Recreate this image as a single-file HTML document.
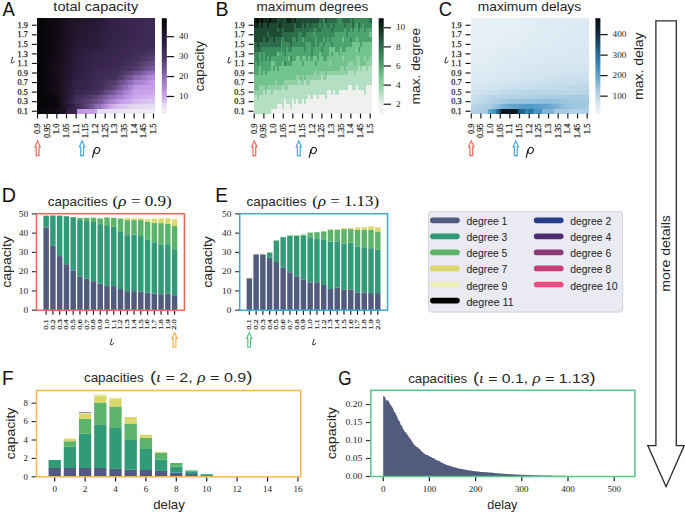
<!DOCTYPE html>
<html><head><meta charset="utf-8"><style>
html,body{margin:0;padding:0;background:#fff;width:685px;height:512px;overflow:hidden;}
svg{display:block;font-family:"Liberation Sans", sans-serif;}
</style></head><body>
<svg width="685" height="512" viewBox="0 0 685 512"><text x="2.6" y="15.8" font-size="20.5" font-family='"Liberation Sans", sans-serif' fill="#111111" textLength="12.3" lengthAdjust="spacingAndGlyphs">A</text>
<text x="95.75" y="10.6" font-size="13.4" font-family='"Liberation Sans", sans-serif' fill="#262626" text-anchor="middle" textLength="84.8" lengthAdjust="spacingAndGlyphs">total capacity</text>
<g shape-rendering="crispEdges"><rect x="36.8" y="18.1" width="2.23" height="5.08" fill="#050405"/><rect x="38.73" y="18.1" width="2.23" height="5.08" fill="#060506"/><rect x="40.67" y="18.1" width="2.23" height="5.08" fill="#070508"/><rect x="42.6" y="18.1" width="2.23" height="5.08" fill="#08060a"/><rect x="44.53" y="18.1" width="2.23" height="5.08" fill="#0a070b"/><rect x="46.46" y="18.1" width="2.23" height="5.08" fill="#0b070c"/><rect x="48.4" y="18.1" width="2.23" height="5.08" fill="#0c080e"/><rect x="50.33" y="18.1" width="2.23" height="5.08" fill="#0d0910"/><rect x="52.26" y="18.1" width="2.23" height="5.08" fill="#0e0911"/><rect x="54.2" y="18.1" width="2.23" height="5.08" fill="#100a12"/><rect x="56.13" y="18.1" width="2.23" height="5.08" fill="#110b14"/><rect x="58.06" y="18.1" width="2.23" height="5.08" fill="#130c16"/><rect x="59.99" y="18.1" width="2.23" height="5.08" fill="#140d19"/><rect x="61.93" y="18.1" width="2.23" height="5.08" fill="#160e1b"/><rect x="63.86" y="18.1" width="2.23" height="5.08" fill="#180f1e"/><rect x="65.79" y="18.1" width="2.23" height="5.08" fill="#1a1020"/><rect x="67.72" y="18.1" width="2.23" height="5.08" fill="#1b1122"/><rect x="69.66" y="18.1" width="2.23" height="5.08" fill="#1c1223"/><rect x="71.59" y="18.1" width="2.23" height="5.08" fill="#1e1225"/><rect x="73.52" y="18.1" width="2.23" height="5.08" fill="#1f1326"/><rect x="75.46" y="18.1" width="2.23" height="5.08" fill="#201428"/><rect x="77.39" y="18.1" width="2.23" height="5.08" fill="#211429"/><rect x="79.32" y="18.1" width="2.23" height="5.08" fill="#21152a"/><rect x="81.25" y="18.1" width="2.23" height="5.08" fill="#22152c"/><rect x="83.19" y="18.1" width="2.23" height="5.08" fill="#23162d"/><rect x="85.12" y="18.1" width="2.23" height="5.08" fill="#23162e"/><rect x="87.05" y="18.1" width="2.23" height="5.08" fill="#24162f"/><rect x="88.99" y="18.1" width="2.23" height="5.08" fill="#251730"/><rect x="90.92" y="18.1" width="2.23" height="5.08" fill="#251732"/><rect x="92.85" y="18.1" width="2.23" height="5.08" fill="#261833"/><rect x="94.78" y="18.1" width="2.23" height="5.08" fill="#271834"/><rect x="96.72" y="18.1" width="2.23" height="5.08" fill="#281936"/><rect x="98.65" y="18.1" width="2.23" height="5.08" fill="#291a39"/><rect x="100.58" y="18.1" width="2.23" height="5.08" fill="#2b1b3b"/><rect x="102.51" y="18.1" width="2.23" height="5.08" fill="#2c1c3c"/><rect x="104.45" y="18.1" width="2.23" height="5.08" fill="#2d1c3e"/><rect x="106.38" y="18.1" width="2.23" height="5.08" fill="#2e1d40"/><rect x="108.31" y="18.1" width="2.23" height="5.08" fill="#2f1e41"/><rect x="110.25" y="18.1" width="2.23" height="5.08" fill="#312043"/><rect x="112.18" y="18.1" width="2.23" height="5.08" fill="#322044"/><rect x="114.11" y="18.1" width="2.23" height="5.08" fill="#332246"/><rect x="116.04" y="18.1" width="2.23" height="5.08" fill="#342247"/><rect x="117.98" y="18.1" width="2.23" height="5.08" fill="#342248"/><rect x="119.91" y="18.1" width="2.23" height="5.08" fill="#352348"/><rect x="121.84" y="18.1" width="2.23" height="5.08" fill="#352449"/><rect x="123.78" y="18.1" width="2.23" height="5.08" fill="#36244a"/><rect x="125.71" y="18.1" width="2.23" height="5.08" fill="#37244b"/><rect x="127.64" y="18.1" width="2.23" height="5.08" fill="#38254c"/><rect x="129.57" y="18.1" width="2.23" height="5.08" fill="#38254e"/><rect x="131.51" y="18.1" width="2.23" height="5.08" fill="#39264f"/><rect x="133.44" y="18.1" width="2.23" height="5.08" fill="#3a2650"/><rect x="135.37" y="18.1" width="2.23" height="5.08" fill="#3a2651"/><rect x="137.3" y="18.1" width="2.23" height="5.08" fill="#3b2751"/><rect x="139.24" y="18.1" width="2.23" height="5.08" fill="#3b2752"/><rect x="141.17" y="18.1" width="2.23" height="5.08" fill="#3c2852"/><rect x="143.1" y="18.1" width="2.23" height="5.08" fill="#3c2853"/><rect x="145.04" y="18.1" width="2.23" height="5.08" fill="#3c2854"/><rect x="146.97" y="18.1" width="2.23" height="5.08" fill="#3d2954"/><rect x="148.9" y="18.1" width="2.23" height="5.08" fill="#3d2955"/><rect x="150.83" y="18.1" width="2.23" height="5.08" fill="#3e2a55"/><rect x="152.77" y="18.1" width="2.23" height="5.08" fill="#3e2a56"/><rect x="36.8" y="22.88" width="2.23" height="5.08" fill="#050405"/><rect x="38.73" y="22.88" width="2.23" height="5.08" fill="#060506"/><rect x="40.67" y="22.88" width="2.23" height="5.08" fill="#070508"/><rect x="42.6" y="22.88" width="2.23" height="5.08" fill="#08060a"/><rect x="44.53" y="22.88" width="2.23" height="5.08" fill="#0a070b"/><rect x="46.46" y="22.88" width="2.23" height="5.08" fill="#0b070c"/><rect x="48.4" y="22.88" width="2.23" height="5.08" fill="#0c080e"/><rect x="50.33" y="22.88" width="2.23" height="5.08" fill="#0d0910"/><rect x="52.26" y="22.88" width="2.23" height="5.08" fill="#0e0911"/><rect x="54.2" y="22.88" width="2.23" height="5.08" fill="#100a12"/><rect x="56.13" y="22.88" width="2.23" height="5.08" fill="#110b14"/><rect x="58.06" y="22.88" width="2.23" height="5.08" fill="#130c17"/><rect x="59.99" y="22.88" width="2.23" height="5.08" fill="#150d19"/><rect x="61.93" y="22.88" width="2.23" height="5.08" fill="#170e1c"/><rect x="63.86" y="22.88" width="2.23" height="5.08" fill="#190f1f"/><rect x="65.79" y="22.88" width="2.23" height="5.08" fill="#1b1021"/><rect x="67.72" y="22.88" width="2.23" height="5.08" fill="#1c1123"/><rect x="69.66" y="22.88" width="2.23" height="5.08" fill="#1d1224"/><rect x="71.59" y="22.88" width="2.23" height="5.08" fill="#1f1326"/><rect x="73.52" y="22.88" width="2.23" height="5.08" fill="#201428"/><rect x="75.46" y="22.88" width="2.23" height="5.08" fill="#21152a"/><rect x="77.39" y="22.88" width="2.23" height="5.08" fill="#22152c"/><rect x="79.32" y="22.88" width="2.23" height="5.08" fill="#23162d"/><rect x="81.25" y="22.88" width="2.23" height="5.08" fill="#23162e"/><rect x="83.19" y="22.88" width="2.23" height="5.08" fill="#24162f"/><rect x="85.12" y="22.88" width="2.23" height="5.08" fill="#251730"/><rect x="87.05" y="22.88" width="2.23" height="5.08" fill="#251732"/><rect x="88.99" y="22.88" width="2.23" height="5.08" fill="#261833"/><rect x="90.92" y="22.88" width="2.23" height="5.08" fill="#271834"/><rect x="92.85" y="22.88" width="2.23" height="5.08" fill="#271835"/><rect x="94.78" y="22.88" width="2.23" height="5.08" fill="#281936"/><rect x="96.72" y="22.88" width="2.23" height="5.08" fill="#291a39"/><rect x="98.65" y="22.88" width="2.23" height="5.08" fill="#2a1a3b"/><rect x="100.58" y="22.88" width="2.23" height="5.08" fill="#2c1b3c"/><rect x="102.51" y="22.88" width="2.23" height="5.08" fill="#2d1c3e"/><rect x="104.45" y="22.88" width="2.23" height="5.08" fill="#2e1d3f"/><rect x="106.38" y="22.88" width="2.23" height="5.08" fill="#2f1e41"/><rect x="108.31" y="22.88" width="2.23" height="5.08" fill="#301f42"/><rect x="110.25" y="22.88" width="2.23" height="5.08" fill="#312044"/><rect x="112.18" y="22.88" width="2.23" height="5.08" fill="#322145"/><rect x="114.11" y="22.88" width="2.23" height="5.08" fill="#342247"/><rect x="116.04" y="22.88" width="2.23" height="5.08" fill="#342248"/><rect x="117.98" y="22.88" width="2.23" height="5.08" fill="#352348"/><rect x="119.91" y="22.88" width="2.23" height="5.08" fill="#352349"/><rect x="121.84" y="22.88" width="2.23" height="5.08" fill="#36244a"/><rect x="123.78" y="22.88" width="2.23" height="5.08" fill="#37244b"/><rect x="125.71" y="22.88" width="2.23" height="5.08" fill="#37254c"/><rect x="127.64" y="22.88" width="2.23" height="5.08" fill="#38254d"/><rect x="129.57" y="22.88" width="2.23" height="5.08" fill="#39254e"/><rect x="131.51" y="22.88" width="2.23" height="5.08" fill="#3a264f"/><rect x="133.44" y="22.88" width="2.23" height="5.08" fill="#3a2651"/><rect x="135.37" y="22.88" width="2.23" height="5.08" fill="#3b2751"/><rect x="137.3" y="22.88" width="4.17" height="5.08" fill="#3b2752"/><rect x="141.17" y="22.88" width="4.17" height="5.08" fill="#3c2853"/><rect x="145.04" y="22.88" width="4.17" height="5.08" fill="#3d2954"/><rect x="148.9" y="22.88" width="2.23" height="5.08" fill="#3d2955"/><rect x="150.83" y="22.88" width="2.23" height="5.08" fill="#3e2a55"/><rect x="152.77" y="22.88" width="2.23" height="5.08" fill="#3e2a56"/><rect x="36.8" y="27.65" width="2.23" height="5.08" fill="#050405"/><rect x="38.73" y="27.65" width="2.23" height="5.08" fill="#060506"/><rect x="40.67" y="27.65" width="2.23" height="5.08" fill="#070508"/><rect x="42.6" y="27.65" width="2.23" height="5.08" fill="#08060a"/><rect x="44.53" y="27.65" width="2.23" height="5.08" fill="#0a070b"/><rect x="46.46" y="27.65" width="2.23" height="5.08" fill="#0b070c"/><rect x="48.4" y="27.65" width="2.23" height="5.08" fill="#0c080e"/><rect x="50.33" y="27.65" width="2.23" height="5.08" fill="#0d0910"/><rect x="52.26" y="27.65" width="2.23" height="5.08" fill="#0e0911"/><rect x="54.2" y="27.65" width="2.23" height="5.08" fill="#100a12"/><rect x="56.13" y="27.65" width="2.23" height="5.08" fill="#110b14"/><rect x="58.06" y="27.65" width="2.23" height="5.08" fill="#130c17"/><rect x="59.99" y="27.65" width="2.23" height="5.08" fill="#150d1a"/><rect x="61.93" y="27.65" width="2.23" height="5.08" fill="#170f1d"/><rect x="63.86" y="27.65" width="2.23" height="5.08" fill="#1a1020"/><rect x="65.79" y="27.65" width="2.23" height="5.08" fill="#1b1122"/><rect x="67.72" y="27.65" width="2.23" height="5.08" fill="#1d1224"/><rect x="69.66" y="27.65" width="2.23" height="5.08" fill="#1e1325"/><rect x="71.59" y="27.65" width="2.23" height="5.08" fill="#201427"/><rect x="73.52" y="27.65" width="2.23" height="5.08" fill="#21152a"/><rect x="75.46" y="27.65" width="2.23" height="5.08" fill="#23162d"/><rect x="77.39" y="27.65" width="2.23" height="5.08" fill="#23162e"/><rect x="79.32" y="27.65" width="2.23" height="5.08" fill="#24162f"/><rect x="81.25" y="27.65" width="2.23" height="5.08" fill="#251730"/><rect x="83.19" y="27.65" width="2.23" height="5.08" fill="#251732"/><rect x="85.12" y="27.65" width="2.23" height="5.08" fill="#261833"/><rect x="87.05" y="27.65" width="2.23" height="5.08" fill="#271834"/><rect x="88.99" y="27.65" width="2.23" height="5.08" fill="#271835"/><rect x="90.92" y="27.65" width="2.23" height="5.08" fill="#281936"/><rect x="92.85" y="27.65" width="2.23" height="5.08" fill="#291938"/><rect x="94.78" y="27.65" width="2.23" height="5.08" fill="#291a39"/><rect x="96.72" y="27.65" width="2.23" height="5.08" fill="#2a1a3b"/><rect x="98.65" y="27.65" width="2.23" height="5.08" fill="#2c1b3c"/><rect x="100.58" y="27.65" width="2.23" height="5.08" fill="#2d1c3e"/><rect x="102.51" y="27.65" width="2.23" height="5.08" fill="#2e1d3f"/><rect x="104.45" y="27.65" width="2.23" height="5.08" fill="#2f1e40"/><rect x="106.38" y="27.65" width="2.23" height="5.08" fill="#301f42"/><rect x="108.31" y="27.65" width="2.23" height="5.08" fill="#312043"/><rect x="110.25" y="27.65" width="2.23" height="5.08" fill="#322145"/><rect x="112.18" y="27.65" width="2.23" height="5.08" fill="#332246"/><rect x="114.11" y="27.65" width="2.23" height="5.08" fill="#342248"/><rect x="116.04" y="27.65" width="2.23" height="5.08" fill="#352348"/><rect x="117.98" y="27.65" width="2.23" height="5.08" fill="#352349"/><rect x="119.91" y="27.65" width="2.23" height="5.08" fill="#36244a"/><rect x="121.84" y="27.65" width="2.23" height="5.08" fill="#36244b"/><rect x="123.78" y="27.65" width="2.23" height="5.08" fill="#37254c"/><rect x="125.71" y="27.65" width="2.23" height="5.08" fill="#38254d"/><rect x="127.64" y="27.65" width="2.23" height="5.08" fill="#39254e"/><rect x="129.57" y="27.65" width="2.23" height="5.08" fill="#39264f"/><rect x="131.51" y="27.65" width="2.23" height="5.08" fill="#3a2650"/><rect x="133.44" y="27.65" width="2.23" height="5.08" fill="#3b2751"/><rect x="135.37" y="27.65" width="4.17" height="5.08" fill="#3b2752"/><rect x="139.24" y="27.65" width="4.17" height="5.08" fill="#3c2853"/><rect x="143.1" y="27.65" width="2.23" height="5.08" fill="#3c2854"/><rect x="145.04" y="27.65" width="2.23" height="5.08" fill="#3d2954"/><rect x="146.97" y="27.65" width="4.17" height="5.08" fill="#3d2955"/><rect x="150.83" y="27.65" width="4.17" height="5.08" fill="#3e2a56"/><rect x="36.8" y="32.43" width="2.23" height="5.08" fill="#050405"/><rect x="38.73" y="32.43" width="2.23" height="5.08" fill="#060506"/><rect x="40.67" y="32.43" width="2.23" height="5.08" fill="#070508"/><rect x="42.6" y="32.43" width="2.23" height="5.08" fill="#08060a"/><rect x="44.53" y="32.43" width="2.23" height="5.08" fill="#0a070b"/><rect x="46.46" y="32.43" width="2.23" height="5.08" fill="#0b070c"/><rect x="48.4" y="32.43" width="2.23" height="5.08" fill="#0c080e"/><rect x="50.33" y="32.43" width="2.23" height="5.08" fill="#0d0910"/><rect x="52.26" y="32.43" width="2.23" height="5.08" fill="#0e0911"/><rect x="54.2" y="32.43" width="2.23" height="5.08" fill="#100a12"/><rect x="56.13" y="32.43" width="2.23" height="5.08" fill="#110b14"/><rect x="58.06" y="32.43" width="2.23" height="5.08" fill="#130c17"/><rect x="59.99" y="32.43" width="2.23" height="5.08" fill="#160d1a"/><rect x="61.93" y="32.43" width="2.23" height="5.08" fill="#180f1d"/><rect x="63.86" y="32.43" width="2.23" height="5.08" fill="#1a1020"/><rect x="65.79" y="32.43" width="2.23" height="5.08" fill="#1c1122"/><rect x="67.72" y="32.43" width="2.23" height="5.08" fill="#1d1224"/><rect x="69.66" y="32.43" width="2.23" height="5.08" fill="#1f1327"/><rect x="71.59" y="32.43" width="2.23" height="5.08" fill="#211429"/><rect x="73.52" y="32.43" width="2.23" height="5.08" fill="#22152c"/><rect x="75.46" y="32.43" width="2.23" height="5.08" fill="#24162f"/><rect x="77.39" y="32.43" width="2.23" height="5.08" fill="#251730"/><rect x="79.32" y="32.43" width="2.23" height="5.08" fill="#251732"/><rect x="81.25" y="32.43" width="2.23" height="5.08" fill="#261833"/><rect x="83.19" y="32.43" width="2.23" height="5.08" fill="#271834"/><rect x="85.12" y="32.43" width="2.23" height="5.08" fill="#271835"/><rect x="87.05" y="32.43" width="2.23" height="5.08" fill="#281936"/><rect x="88.99" y="32.43" width="2.23" height="5.08" fill="#291938"/><rect x="90.92" y="32.43" width="2.23" height="5.08" fill="#291a39"/><rect x="92.85" y="32.43" width="2.23" height="5.08" fill="#2a1a3a"/><rect x="94.78" y="32.43" width="2.23" height="5.08" fill="#2b1b3b"/><rect x="96.72" y="32.43" width="2.23" height="5.08" fill="#2c1b3c"/><rect x="98.65" y="32.43" width="2.23" height="5.08" fill="#2d1c3e"/><rect x="100.58" y="32.43" width="2.23" height="5.08" fill="#2e1d3f"/><rect x="102.51" y="32.43" width="2.23" height="5.08" fill="#2f1e40"/><rect x="104.45" y="32.43" width="2.23" height="5.08" fill="#301f42"/><rect x="106.38" y="32.43" width="2.23" height="5.08" fill="#312043"/><rect x="108.31" y="32.43" width="2.23" height="5.08" fill="#322044"/><rect x="110.25" y="32.43" width="2.23" height="5.08" fill="#332146"/><rect x="112.18" y="32.43" width="2.23" height="5.08" fill="#342247"/><rect x="114.11" y="32.43" width="2.23" height="5.08" fill="#352348"/><rect x="116.04" y="32.43" width="2.23" height="5.08" fill="#352349"/><rect x="117.98" y="32.43" width="2.23" height="5.08" fill="#36244a"/><rect x="119.91" y="32.43" width="2.23" height="5.08" fill="#36244b"/><rect x="121.84" y="32.43" width="2.23" height="5.08" fill="#37254c"/><rect x="123.78" y="32.43" width="2.23" height="5.08" fill="#38254d"/><rect x="125.71" y="32.43" width="2.23" height="5.08" fill="#38254e"/><rect x="127.64" y="32.43" width="2.23" height="5.08" fill="#39264f"/><rect x="129.57" y="32.43" width="2.23" height="5.08" fill="#3a2650"/><rect x="131.51" y="32.43" width="2.23" height="5.08" fill="#3b2751"/><rect x="133.44" y="32.43" width="4.17" height="5.08" fill="#3b2752"/><rect x="137.3" y="32.43" width="6.1" height="5.08" fill="#3c2853"/><rect x="143.1" y="32.43" width="4.17" height="5.08" fill="#3d2954"/><rect x="146.97" y="32.43" width="4.17" height="5.08" fill="#3d2955"/><rect x="150.83" y="32.43" width="4.17" height="5.08" fill="#3e2a56"/><rect x="36.8" y="37.2" width="2.23" height="5.08" fill="#050405"/><rect x="38.73" y="37.2" width="2.23" height="5.08" fill="#060506"/><rect x="40.67" y="37.2" width="2.23" height="5.08" fill="#070508"/><rect x="42.6" y="37.2" width="2.23" height="5.08" fill="#08060a"/><rect x="44.53" y="37.2" width="2.23" height="5.08" fill="#0a070b"/><rect x="46.46" y="37.2" width="2.23" height="5.08" fill="#0b070c"/><rect x="48.4" y="37.2" width="2.23" height="5.08" fill="#0c080e"/><rect x="50.33" y="37.2" width="2.23" height="5.08" fill="#0d0910"/><rect x="52.26" y="37.2" width="2.23" height="5.08" fill="#0e0911"/><rect x="54.2" y="37.2" width="2.23" height="5.08" fill="#100a12"/><rect x="56.13" y="37.2" width="2.23" height="5.08" fill="#110b14"/><rect x="58.06" y="37.2" width="2.23" height="5.08" fill="#130c17"/><rect x="59.99" y="37.2" width="2.23" height="5.08" fill="#160e1b"/><rect x="61.93" y="37.2" width="2.23" height="5.08" fill="#190f1e"/><rect x="63.86" y="37.2" width="2.23" height="5.08" fill="#1b1021"/><rect x="65.79" y="37.2" width="2.23" height="5.08" fill="#1c1223"/><rect x="67.72" y="37.2" width="2.23" height="5.08" fill="#1e1325"/><rect x="69.66" y="37.2" width="2.23" height="5.08" fill="#201428"/><rect x="71.59" y="37.2" width="2.23" height="5.08" fill="#22152b"/><rect x="73.52" y="37.2" width="2.23" height="5.08" fill="#23162e"/><rect x="75.46" y="37.2" width="2.23" height="5.08" fill="#251732"/><rect x="77.39" y="37.2" width="2.23" height="5.08" fill="#261833"/><rect x="79.32" y="37.2" width="2.23" height="5.08" fill="#271834"/><rect x="81.25" y="37.2" width="2.23" height="5.08" fill="#271835"/><rect x="83.19" y="37.2" width="2.23" height="5.08" fill="#281936"/><rect x="85.12" y="37.2" width="2.23" height="5.08" fill="#291938"/><rect x="87.05" y="37.2" width="2.23" height="5.08" fill="#291a39"/><rect x="88.99" y="37.2" width="2.23" height="5.08" fill="#2a1a3a"/><rect x="90.92" y="37.2" width="2.23" height="5.08" fill="#2b1b3b"/><rect x="92.85" y="37.2" width="2.23" height="5.08" fill="#2b1b3c"/><rect x="94.78" y="37.2" width="2.23" height="5.08" fill="#2c1c3c"/><rect x="96.72" y="37.2" width="2.23" height="5.08" fill="#2d1c3e"/><rect x="98.65" y="37.2" width="2.23" height="5.08" fill="#2e1d3f"/><rect x="100.58" y="37.2" width="2.23" height="5.08" fill="#2f1e40"/><rect x="102.51" y="37.2" width="2.23" height="5.08" fill="#301f42"/><rect x="104.45" y="37.2" width="2.23" height="5.08" fill="#312043"/><rect x="106.38" y="37.2" width="2.23" height="5.08" fill="#322044"/><rect x="108.31" y="37.2" width="2.23" height="5.08" fill="#332145"/><rect x="110.25" y="37.2" width="2.23" height="5.08" fill="#332247"/><rect x="112.18" y="37.2" width="2.23" height="5.08" fill="#342348"/><rect x="114.11" y="37.2" width="2.23" height="5.08" fill="#352349"/><rect x="116.04" y="37.2" width="2.23" height="5.08" fill="#36244a"/><rect x="117.98" y="37.2" width="2.23" height="5.08" fill="#36244b"/><rect x="119.91" y="37.2" width="2.23" height="5.08" fill="#37254c"/><rect x="121.84" y="37.2" width="2.23" height="5.08" fill="#38254d"/><rect x="123.78" y="37.2" width="2.23" height="5.08" fill="#38254e"/><rect x="125.71" y="37.2" width="2.23" height="5.08" fill="#39264f"/><rect x="127.64" y="37.2" width="4.17" height="5.08" fill="#3a2650"/><rect x="131.51" y="37.2" width="2.23" height="5.08" fill="#3b2751"/><rect x="133.44" y="37.2" width="2.23" height="5.08" fill="#3c2852"/><rect x="135.37" y="37.2" width="6.1" height="5.08" fill="#3c2853"/><rect x="141.17" y="37.2" width="4.17" height="5.08" fill="#3d2954"/><rect x="145.04" y="37.2" width="4.17" height="5.08" fill="#3d2955"/><rect x="148.9" y="37.2" width="2.23" height="5.08" fill="#3e2a55"/><rect x="150.83" y="37.2" width="4.17" height="5.08" fill="#3e2a56"/><rect x="36.8" y="41.98" width="2.23" height="5.08" fill="#050405"/><rect x="38.73" y="41.98" width="2.23" height="5.08" fill="#060506"/><rect x="40.67" y="41.98" width="2.23" height="5.08" fill="#070508"/><rect x="42.6" y="41.98" width="2.23" height="5.08" fill="#08060a"/><rect x="44.53" y="41.98" width="2.23" height="5.08" fill="#0a070b"/><rect x="46.46" y="41.98" width="2.23" height="5.08" fill="#0b070c"/><rect x="48.4" y="41.98" width="2.23" height="5.08" fill="#0c080e"/><rect x="50.33" y="41.98" width="2.23" height="5.08" fill="#0d0910"/><rect x="52.26" y="41.98" width="2.23" height="5.08" fill="#0e0911"/><rect x="54.2" y="41.98" width="2.23" height="5.08" fill="#100a12"/><rect x="56.13" y="41.98" width="2.23" height="5.08" fill="#110b14"/><rect x="58.06" y="41.98" width="2.23" height="5.08" fill="#130c18"/><rect x="59.99" y="41.98" width="2.23" height="5.08" fill="#160e1b"/><rect x="61.93" y="41.98" width="2.23" height="5.08" fill="#190f1f"/><rect x="63.86" y="41.98" width="2.23" height="5.08" fill="#1b1122"/><rect x="65.79" y="41.98" width="2.23" height="5.08" fill="#1d1224"/><rect x="67.72" y="41.98" width="2.23" height="5.08" fill="#1f1326"/><rect x="69.66" y="41.98" width="2.23" height="5.08" fill="#211429"/><rect x="71.59" y="41.98" width="2.23" height="5.08" fill="#23162d"/><rect x="73.52" y="41.98" width="2.23" height="5.08" fill="#251730"/><rect x="75.46" y="41.98" width="2.23" height="5.08" fill="#271834"/><rect x="77.39" y="41.98" width="2.23" height="5.08" fill="#271835"/><rect x="79.32" y="41.98" width="2.23" height="5.08" fill="#281936"/><rect x="81.25" y="41.98" width="2.23" height="5.08" fill="#291938"/><rect x="83.19" y="41.98" width="2.23" height="5.08" fill="#291a39"/><rect x="85.12" y="41.98" width="2.23" height="5.08" fill="#2a1a3a"/><rect x="87.05" y="41.98" width="2.23" height="5.08" fill="#2b1b3b"/><rect x="88.99" y="41.98" width="2.23" height="5.08" fill="#2b1b3c"/><rect x="90.92" y="41.98" width="2.23" height="5.08" fill="#2c1c3c"/><rect x="92.85" y="41.98" width="2.23" height="5.08" fill="#2c1c3d"/><rect x="94.78" y="41.98" width="2.23" height="5.08" fill="#2d1c3e"/><rect x="96.72" y="41.98" width="2.23" height="5.08" fill="#2e1d3f"/><rect x="98.65" y="41.98" width="2.23" height="5.08" fill="#2f1e40"/><rect x="100.58" y="41.98" width="2.23" height="5.08" fill="#301f42"/><rect x="102.51" y="41.98" width="2.23" height="5.08" fill="#312043"/><rect x="104.45" y="41.98" width="2.23" height="5.08" fill="#322044"/><rect x="106.38" y="41.98" width="2.23" height="5.08" fill="#322145"/><rect x="108.31" y="41.98" width="2.23" height="5.08" fill="#332246"/><rect x="110.25" y="41.98" width="2.23" height="5.08" fill="#342248"/><rect x="112.18" y="41.98" width="2.23" height="5.08" fill="#352349"/><rect x="114.11" y="41.98" width="2.23" height="5.08" fill="#36244a"/><rect x="116.04" y="41.98" width="2.23" height="5.08" fill="#37244b"/><rect x="117.98" y="41.98" width="2.23" height="5.08" fill="#37254c"/><rect x="119.91" y="41.98" width="2.23" height="5.08" fill="#38254d"/><rect x="121.84" y="41.98" width="2.23" height="5.08" fill="#38254e"/><rect x="123.78" y="41.98" width="2.23" height="5.08" fill="#39264e"/><rect x="125.71" y="41.98" width="2.23" height="5.08" fill="#3a264f"/><rect x="127.64" y="41.98" width="2.23" height="5.08" fill="#3a2650"/><rect x="129.57" y="41.98" width="2.23" height="5.08" fill="#3b2751"/><rect x="131.51" y="41.98" width="2.23" height="5.08" fill="#3b2752"/><rect x="133.44" y="41.98" width="4.17" height="5.08" fill="#3c2853"/><rect x="137.3" y="41.98" width="2.23" height="5.08" fill="#3c2854"/><rect x="139.24" y="41.98" width="6.1" height="5.08" fill="#3d2954"/><rect x="145.04" y="41.98" width="4.17" height="5.08" fill="#3d2955"/><rect x="148.9" y="41.98" width="2.23" height="5.08" fill="#3e2a55"/><rect x="150.83" y="41.98" width="4.17" height="5.08" fill="#3e2a56"/><rect x="36.8" y="46.75" width="2.23" height="5.08" fill="#050405"/><rect x="38.73" y="46.75" width="2.23" height="5.08" fill="#060507"/><rect x="40.67" y="46.75" width="2.23" height="5.08" fill="#070508"/><rect x="42.6" y="46.75" width="2.23" height="5.08" fill="#09060a"/><rect x="44.53" y="46.75" width="2.23" height="5.08" fill="#0a070b"/><rect x="46.46" y="46.75" width="2.23" height="5.08" fill="#0b080d"/><rect x="48.4" y="46.75" width="2.23" height="5.08" fill="#0c080f"/><rect x="50.33" y="46.75" width="2.23" height="5.08" fill="#0e0910"/><rect x="52.26" y="46.75" width="2.23" height="5.08" fill="#0f0a12"/><rect x="54.2" y="46.75" width="2.23" height="5.08" fill="#100a13"/><rect x="56.13" y="46.75" width="2.23" height="5.08" fill="#110b15"/><rect x="58.06" y="46.75" width="2.23" height="5.08" fill="#140d19"/><rect x="59.99" y="46.75" width="2.23" height="5.08" fill="#170e1c"/><rect x="61.93" y="46.75" width="2.23" height="5.08" fill="#1a1020"/><rect x="63.86" y="46.75" width="2.23" height="5.08" fill="#1c1123"/><rect x="65.79" y="46.75" width="2.23" height="5.08" fill="#1e1225"/><rect x="67.72" y="46.75" width="2.23" height="5.08" fill="#201427"/><rect x="69.66" y="46.75" width="2.23" height="5.08" fill="#22152b"/><rect x="71.59" y="46.75" width="2.23" height="5.08" fill="#24162f"/><rect x="73.52" y="46.75" width="2.23" height="5.08" fill="#261732"/><rect x="75.46" y="46.75" width="2.23" height="5.08" fill="#281936"/><rect x="77.39" y="46.75" width="2.23" height="5.08" fill="#291938"/><rect x="79.32" y="46.75" width="2.23" height="5.08" fill="#2a1a39"/><rect x="81.25" y="46.75" width="2.23" height="5.08" fill="#2a1a3b"/><rect x="83.19" y="46.75" width="2.23" height="5.08" fill="#2b1b3c"/><rect x="85.12" y="46.75" width="2.23" height="5.08" fill="#2c1c3d"/><rect x="87.05" y="46.75" width="2.23" height="5.08" fill="#2d1c3e"/><rect x="88.99" y="46.75" width="2.23" height="5.08" fill="#2e1d3f"/><rect x="90.92" y="46.75" width="2.23" height="5.08" fill="#2e1e40"/><rect x="92.85" y="46.75" width="2.23" height="5.08" fill="#2f1e41"/><rect x="94.78" y="46.75" width="2.23" height="5.08" fill="#301f42"/><rect x="96.72" y="46.75" width="2.23" height="5.08" fill="#312043"/><rect x="98.65" y="46.75" width="2.23" height="5.08" fill="#312044"/><rect x="100.58" y="46.75" width="2.23" height="5.08" fill="#322145"/><rect x="102.51" y="46.75" width="2.23" height="5.08" fill="#332146"/><rect x="104.45" y="46.75" width="2.23" height="5.08" fill="#342247"/><rect x="106.38" y="46.75" width="2.23" height="5.08" fill="#342248"/><rect x="108.31" y="46.75" width="2.23" height="5.08" fill="#352349"/><rect x="110.25" y="46.75" width="2.23" height="5.08" fill="#362449"/><rect x="112.18" y="46.75" width="2.23" height="5.08" fill="#36244b"/><rect x="114.11" y="46.75" width="2.23" height="5.08" fill="#37254c"/><rect x="116.04" y="46.75" width="2.23" height="5.08" fill="#38254d"/><rect x="117.98" y="46.75" width="2.23" height="5.08" fill="#39254e"/><rect x="119.91" y="46.75" width="2.23" height="5.08" fill="#39264f"/><rect x="121.84" y="46.75" width="2.23" height="5.08" fill="#3a2650"/><rect x="123.78" y="46.75" width="2.23" height="5.08" fill="#3b2751"/><rect x="125.71" y="46.75" width="2.23" height="5.08" fill="#3b2752"/><rect x="127.64" y="46.75" width="2.23" height="5.08" fill="#3c2853"/><rect x="129.57" y="46.75" width="2.23" height="5.08" fill="#3d2954"/><rect x="131.51" y="46.75" width="2.23" height="5.08" fill="#3d2955"/><rect x="133.44" y="46.75" width="2.23" height="5.08" fill="#3e2a56"/><rect x="135.37" y="46.75" width="4.17" height="5.08" fill="#3f2b57"/><rect x="139.24" y="46.75" width="4.17" height="5.08" fill="#402c58"/><rect x="143.1" y="46.75" width="2.23" height="5.08" fill="#412d59"/><rect x="145.04" y="46.75" width="4.17" height="5.08" fill="#422e5a"/><rect x="148.9" y="46.75" width="4.17" height="5.08" fill="#432f5b"/><rect x="152.77" y="46.75" width="2.23" height="5.08" fill="#44305c"/><rect x="36.8" y="51.53" width="2.23" height="5.08" fill="#050405"/><rect x="38.73" y="51.53" width="2.23" height="5.08" fill="#060507"/><rect x="40.67" y="51.53" width="2.23" height="5.08" fill="#080608"/><rect x="42.6" y="51.53" width="2.23" height="5.08" fill="#09060a"/><rect x="44.53" y="51.53" width="2.23" height="5.08" fill="#0a070c"/><rect x="46.46" y="51.53" width="2.23" height="5.08" fill="#0c080e"/><rect x="48.4" y="51.53" width="2.23" height="5.08" fill="#0d090f"/><rect x="50.33" y="51.53" width="2.23" height="5.08" fill="#0e0911"/><rect x="52.26" y="51.53" width="2.23" height="5.08" fill="#100a13"/><rect x="54.2" y="51.53" width="2.23" height="5.08" fill="#110b14"/><rect x="56.13" y="51.53" width="2.23" height="5.08" fill="#120c16"/><rect x="58.06" y="51.53" width="2.23" height="5.08" fill="#150d1a"/><rect x="59.99" y="51.53" width="2.23" height="5.08" fill="#180f1e"/><rect x="61.93" y="51.53" width="2.23" height="5.08" fill="#1b1021"/><rect x="63.86" y="51.53" width="2.23" height="5.08" fill="#1d1223"/><rect x="65.79" y="51.53" width="2.23" height="5.08" fill="#1e1326"/><rect x="67.72" y="51.53" width="2.23" height="5.08" fill="#201429"/><rect x="69.66" y="51.53" width="2.23" height="5.08" fill="#23162d"/><rect x="71.59" y="51.53" width="2.23" height="5.08" fill="#251730"/><rect x="73.52" y="51.53" width="2.23" height="5.08" fill="#271834"/><rect x="75.46" y="51.53" width="2.23" height="5.08" fill="#291938"/><rect x="77.39" y="51.53" width="2.23" height="5.08" fill="#2a1a3a"/><rect x="79.32" y="51.53" width="2.23" height="5.08" fill="#2b1b3b"/><rect x="81.25" y="51.53" width="2.23" height="5.08" fill="#2c1c3d"/><rect x="83.19" y="51.53" width="2.23" height="5.08" fill="#2d1c3e"/><rect x="85.12" y="51.53" width="2.23" height="5.08" fill="#2e1d3f"/><rect x="87.05" y="51.53" width="2.23" height="5.08" fill="#2f1e41"/><rect x="88.99" y="51.53" width="2.23" height="5.08" fill="#301f42"/><rect x="90.92" y="51.53" width="2.23" height="5.08" fill="#312043"/><rect x="92.85" y="51.53" width="2.23" height="5.08" fill="#322145"/><rect x="94.78" y="51.53" width="2.23" height="5.08" fill="#332246"/><rect x="96.72" y="51.53" width="2.23" height="5.08" fill="#332247"/><rect x="98.65" y="51.53" width="2.23" height="5.08" fill="#342247"/><rect x="100.58" y="51.53" width="2.23" height="5.08" fill="#342348"/><rect x="102.51" y="51.53" width="2.23" height="5.08" fill="#352349"/><rect x="104.45" y="51.53" width="2.23" height="5.08" fill="#352449"/><rect x="106.38" y="51.53" width="2.23" height="5.08" fill="#36244a"/><rect x="108.31" y="51.53" width="2.23" height="5.08" fill="#37244b"/><rect x="110.25" y="51.53" width="2.23" height="5.08" fill="#37254c"/><rect x="112.18" y="51.53" width="2.23" height="5.08" fill="#38254d"/><rect x="114.11" y="51.53" width="2.23" height="5.08" fill="#39254e"/><rect x="116.04" y="51.53" width="2.23" height="5.08" fill="#39264f"/><rect x="117.98" y="51.53" width="2.23" height="5.08" fill="#3a2650"/><rect x="119.91" y="51.53" width="2.23" height="5.08" fill="#3b2751"/><rect x="121.84" y="51.53" width="2.23" height="5.08" fill="#3c2852"/><rect x="123.78" y="51.53" width="2.23" height="5.08" fill="#3c2854"/><rect x="125.71" y="51.53" width="2.23" height="5.08" fill="#3d2955"/><rect x="127.64" y="51.53" width="4.17" height="5.08" fill="#3e2a56"/><rect x="131.51" y="51.53" width="2.23" height="5.08" fill="#3f2b57"/><rect x="133.44" y="51.53" width="2.23" height="5.08" fill="#402c58"/><rect x="135.37" y="51.53" width="2.23" height="5.08" fill="#412d59"/><rect x="137.3" y="51.53" width="2.23" height="5.08" fill="#422e5a"/><rect x="139.24" y="51.53" width="2.23" height="5.08" fill="#432f5b"/><rect x="141.17" y="51.53" width="2.23" height="5.08" fill="#44305c"/><rect x="143.1" y="51.53" width="2.23" height="5.08" fill="#46315e"/><rect x="145.04" y="51.53" width="2.23" height="5.08" fill="#483360"/><rect x="146.97" y="51.53" width="2.23" height="5.08" fill="#4a3562"/><rect x="148.9" y="51.53" width="2.23" height="5.08" fill="#4c3664"/><rect x="150.83" y="51.53" width="2.23" height="5.08" fill="#4d3866"/><rect x="152.77" y="51.53" width="2.23" height="5.08" fill="#4f3968"/><rect x="36.8" y="56.3" width="2.23" height="5.08" fill="#050405"/><rect x="38.73" y="56.3" width="2.23" height="5.08" fill="#060507"/><rect x="40.67" y="56.3" width="2.23" height="5.08" fill="#080609"/><rect x="42.6" y="56.3" width="2.23" height="5.08" fill="#09060a"/><rect x="44.53" y="56.3" width="2.23" height="5.08" fill="#0b070c"/><rect x="46.46" y="56.3" width="2.23" height="5.08" fill="#0c080e"/><rect x="48.4" y="56.3" width="2.23" height="5.08" fill="#0d0910"/><rect x="50.33" y="56.3" width="2.23" height="5.08" fill="#0f0a12"/><rect x="52.26" y="56.3" width="2.23" height="5.08" fill="#100a13"/><rect x="54.2" y="56.3" width="2.23" height="5.08" fill="#120b15"/><rect x="56.13" y="56.3" width="2.23" height="5.08" fill="#130c17"/><rect x="58.06" y="56.3" width="2.23" height="5.08" fill="#160e1b"/><rect x="59.99" y="56.3" width="2.23" height="5.08" fill="#190f1f"/><rect x="61.93" y="56.3" width="2.23" height="5.08" fill="#1b1122"/><rect x="63.86" y="56.3" width="2.23" height="5.08" fill="#1d1224"/><rect x="65.79" y="56.3" width="2.23" height="5.08" fill="#1f1427"/><rect x="67.72" y="56.3" width="2.23" height="5.08" fill="#21152a"/><rect x="69.66" y="56.3" width="2.23" height="5.08" fill="#23162e"/><rect x="71.59" y="56.3" width="2.23" height="5.08" fill="#261732"/><rect x="73.52" y="56.3" width="2.23" height="5.08" fill="#281936"/><rect x="75.46" y="56.3" width="2.23" height="5.08" fill="#2a1a3a"/><rect x="77.39" y="56.3" width="2.23" height="5.08" fill="#2b1b3c"/><rect x="79.32" y="56.3" width="2.23" height="5.08" fill="#2c1c3d"/><rect x="81.25" y="56.3" width="2.23" height="5.08" fill="#2e1d3f"/><rect x="83.19" y="56.3" width="2.23" height="5.08" fill="#2f1e40"/><rect x="85.12" y="56.3" width="2.23" height="5.08" fill="#301f42"/><rect x="87.05" y="56.3" width="2.23" height="5.08" fill="#312044"/><rect x="88.99" y="56.3" width="2.23" height="5.08" fill="#322145"/><rect x="90.92" y="56.3" width="2.23" height="5.08" fill="#342247"/><rect x="92.85" y="56.3" width="2.23" height="5.08" fill="#352348"/><rect x="94.78" y="56.3" width="2.23" height="5.08" fill="#36244a"/><rect x="96.72" y="56.3" width="2.23" height="5.08" fill="#36244b"/><rect x="98.65" y="56.3" width="2.23" height="5.08" fill="#37244b"/><rect x="100.58" y="56.3" width="2.23" height="5.08" fill="#37254c"/><rect x="102.51" y="56.3" width="2.23" height="5.08" fill="#38254c"/><rect x="104.45" y="56.3" width="2.23" height="5.08" fill="#38254d"/><rect x="106.38" y="56.3" width="2.23" height="5.08" fill="#38254e"/><rect x="108.31" y="56.3" width="2.23" height="5.08" fill="#39254e"/><rect x="110.25" y="56.3" width="2.23" height="5.08" fill="#39264f"/><rect x="112.18" y="56.3" width="2.23" height="5.08" fill="#3a264f"/><rect x="114.11" y="56.3" width="2.23" height="5.08" fill="#3a2650"/><rect x="116.04" y="56.3" width="2.23" height="5.08" fill="#3b2751"/><rect x="117.98" y="56.3" width="2.23" height="5.08" fill="#3c2852"/><rect x="119.91" y="56.3" width="2.23" height="5.08" fill="#3c2854"/><rect x="121.84" y="56.3" width="2.23" height="5.08" fill="#3d2955"/><rect x="123.78" y="56.3" width="2.23" height="5.08" fill="#3e2a56"/><rect x="125.71" y="56.3" width="4.17" height="5.08" fill="#3f2b57"/><rect x="129.57" y="56.3" width="4.17" height="5.08" fill="#402c58"/><rect x="133.44" y="56.3" width="2.23" height="5.08" fill="#412d59"/><rect x="135.37" y="56.3" width="2.23" height="5.08" fill="#432f5b"/><rect x="137.3" y="56.3" width="2.23" height="5.08" fill="#44305c"/><rect x="139.24" y="56.3" width="2.23" height="5.08" fill="#47335f"/><rect x="141.17" y="56.3" width="2.23" height="5.08" fill="#4a3562"/><rect x="143.1" y="56.3" width="2.23" height="5.08" fill="#4d3765"/><rect x="145.04" y="56.3" width="2.23" height="5.08" fill="#4f3968"/><rect x="146.97" y="56.3" width="2.23" height="5.08" fill="#523c6c"/><rect x="148.9" y="56.3" width="2.23" height="5.08" fill="#553e6f"/><rect x="150.83" y="56.3" width="2.23" height="5.08" fill="#574072"/><rect x="152.77" y="56.3" width="2.23" height="5.08" fill="#5a4275"/><rect x="36.8" y="61.08" width="2.23" height="5.08" fill="#050405"/><rect x="38.73" y="61.08" width="2.23" height="5.08" fill="#070507"/><rect x="40.67" y="61.08" width="2.23" height="5.08" fill="#080609"/><rect x="42.6" y="61.08" width="2.23" height="5.08" fill="#0a070b"/><rect x="44.53" y="61.08" width="2.23" height="5.08" fill="#0b070d"/><rect x="46.46" y="61.08" width="2.23" height="5.08" fill="#0d080f"/><rect x="48.4" y="61.08" width="2.23" height="5.08" fill="#0e0911"/><rect x="50.33" y="61.08" width="2.23" height="5.08" fill="#100a13"/><rect x="52.26" y="61.08" width="2.23" height="5.08" fill="#110b15"/><rect x="54.2" y="61.08" width="2.23" height="5.08" fill="#130c17"/><rect x="56.13" y="61.08" width="2.23" height="5.08" fill="#140d18"/><rect x="58.06" y="61.08" width="2.23" height="5.08" fill="#170e1d"/><rect x="59.99" y="61.08" width="2.23" height="5.08" fill="#1a1020"/><rect x="61.93" y="61.08" width="2.23" height="5.08" fill="#1c1223"/><rect x="63.86" y="61.08" width="2.23" height="5.08" fill="#1e1326"/><rect x="65.79" y="61.08" width="2.23" height="5.08" fill="#201429"/><rect x="67.72" y="61.08" width="2.23" height="5.08" fill="#23162d"/><rect x="69.66" y="61.08" width="2.23" height="5.08" fill="#251731"/><rect x="71.59" y="61.08" width="2.23" height="5.08" fill="#271835"/><rect x="73.52" y="61.08" width="2.23" height="5.08" fill="#291a39"/><rect x="75.46" y="61.08" width="2.23" height="5.08" fill="#2c1b3c"/><rect x="77.39" y="61.08" width="2.23" height="5.08" fill="#2d1c3e"/><rect x="79.32" y="61.08" width="2.23" height="5.08" fill="#2e1d3f"/><rect x="81.25" y="61.08" width="2.23" height="5.08" fill="#2f1e41"/><rect x="83.19" y="61.08" width="2.23" height="5.08" fill="#301f42"/><rect x="85.12" y="61.08" width="2.23" height="5.08" fill="#312044"/><rect x="87.05" y="61.08" width="2.23" height="5.08" fill="#332146"/><rect x="88.99" y="61.08" width="2.23" height="5.08" fill="#342247"/><rect x="90.92" y="61.08" width="2.23" height="5.08" fill="#352349"/><rect x="92.85" y="61.08" width="2.23" height="5.08" fill="#36244b"/><rect x="94.78" y="61.08" width="2.23" height="5.08" fill="#38254d"/><rect x="96.72" y="61.08" width="2.23" height="5.08" fill="#38254e"/><rect x="98.65" y="61.08" width="2.23" height="5.08" fill="#39254e"/><rect x="100.58" y="61.08" width="2.23" height="5.08" fill="#39264f"/><rect x="102.51" y="61.08" width="2.23" height="5.08" fill="#3a264f"/><rect x="104.45" y="61.08" width="2.23" height="5.08" fill="#3a2650"/><rect x="106.38" y="61.08" width="2.23" height="5.08" fill="#3a2651"/><rect x="108.31" y="61.08" width="2.23" height="5.08" fill="#3b2751"/><rect x="110.25" y="61.08" width="2.23" height="5.08" fill="#3b2752"/><rect x="112.18" y="61.08" width="2.23" height="5.08" fill="#3c2852"/><rect x="114.11" y="61.08" width="2.23" height="5.08" fill="#3c2853"/><rect x="116.04" y="61.08" width="2.23" height="5.08" fill="#3d2955"/><rect x="117.98" y="61.08" width="2.23" height="5.08" fill="#3e2a56"/><rect x="119.91" y="61.08" width="2.23" height="5.08" fill="#3f2b57"/><rect x="121.84" y="61.08" width="2.23" height="5.08" fill="#402c58"/><rect x="123.78" y="61.08" width="2.23" height="5.08" fill="#412d59"/><rect x="125.71" y="61.08" width="2.23" height="5.08" fill="#422e5a"/><rect x="127.64" y="61.08" width="2.23" height="5.08" fill="#432f5b"/><rect x="129.57" y="61.08" width="2.23" height="5.08" fill="#44305c"/><rect x="131.51" y="61.08" width="2.23" height="5.08" fill="#45315d"/><rect x="133.44" y="61.08" width="2.23" height="5.08" fill="#47325f"/><rect x="135.37" y="61.08" width="2.23" height="5.08" fill="#4b3563"/><rect x="137.3" y="61.08" width="2.23" height="5.08" fill="#4e3866"/><rect x="139.24" y="61.08" width="2.23" height="5.08" fill="#513b6a"/><rect x="141.17" y="61.08" width="2.23" height="5.08" fill="#543d6e"/><rect x="143.1" y="61.08" width="2.23" height="5.08" fill="#574072"/><rect x="145.04" y="61.08" width="2.23" height="5.08" fill="#5b4376"/><rect x="146.97" y="61.08" width="2.23" height="5.08" fill="#60477c"/><rect x="148.9" y="61.08" width="2.23" height="5.08" fill="#644b81"/><rect x="150.83" y="61.08" width="2.23" height="5.08" fill="#694f87"/><rect x="152.77" y="61.08" width="2.23" height="5.08" fill="#6d528c"/><rect x="36.8" y="65.85" width="2.23" height="5.08" fill="#050405"/><rect x="38.73" y="65.85" width="2.23" height="5.08" fill="#070507"/><rect x="40.67" y="65.85" width="2.23" height="5.08" fill="#080609"/><rect x="42.6" y="65.85" width="2.23" height="5.08" fill="#0a070b"/><rect x="44.53" y="65.85" width="2.23" height="5.08" fill="#0c080d"/><rect x="46.46" y="65.85" width="2.23" height="5.08" fill="#0d0910"/><rect x="48.4" y="65.85" width="2.23" height="5.08" fill="#0f0a12"/><rect x="50.33" y="65.85" width="2.23" height="5.08" fill="#100b14"/><rect x="52.26" y="65.85" width="2.23" height="5.08" fill="#120b16"/><rect x="54.2" y="65.85" width="2.23" height="5.08" fill="#140c18"/><rect x="56.13" y="65.85" width="2.23" height="5.08" fill="#150d1a"/><rect x="58.06" y="65.85" width="2.23" height="5.08" fill="#190f1e"/><rect x="59.99" y="65.85" width="2.23" height="5.08" fill="#1b1122"/><rect x="61.93" y="65.85" width="2.23" height="5.08" fill="#1d1224"/><rect x="63.86" y="65.85" width="2.23" height="5.08" fill="#1f1427"/><rect x="65.79" y="65.85" width="2.23" height="5.08" fill="#22152b"/><rect x="67.72" y="65.85" width="2.23" height="5.08" fill="#24162f"/><rect x="69.66" y="65.85" width="2.23" height="5.08" fill="#261833"/><rect x="71.59" y="65.85" width="2.23" height="5.08" fill="#291938"/><rect x="73.52" y="65.85" width="2.23" height="5.08" fill="#2b1b3b"/><rect x="75.46" y="65.85" width="2.23" height="5.08" fill="#2d1c3e"/><rect x="77.39" y="65.85" width="2.23" height="5.08" fill="#2e1d40"/><rect x="79.32" y="65.85" width="2.23" height="5.08" fill="#2f1f41"/><rect x="81.25" y="65.85" width="2.23" height="5.08" fill="#312043"/><rect x="83.19" y="65.85" width="2.23" height="5.08" fill="#322044"/><rect x="85.12" y="65.85" width="2.23" height="5.08" fill="#332146"/><rect x="87.05" y="65.85" width="2.23" height="5.08" fill="#342348"/><rect x="88.99" y="65.85" width="2.23" height="5.08" fill="#352349"/><rect x="90.92" y="65.85" width="2.23" height="5.08" fill="#37244b"/><rect x="92.85" y="65.85" width="2.23" height="5.08" fill="#38254e"/><rect x="94.78" y="65.85" width="2.23" height="5.08" fill="#3a2650"/><rect x="96.72" y="65.85" width="2.23" height="5.08" fill="#3a2651"/><rect x="98.65" y="65.85" width="2.23" height="5.08" fill="#3b2751"/><rect x="100.58" y="65.85" width="2.23" height="5.08" fill="#3b2752"/><rect x="102.51" y="65.85" width="2.23" height="5.08" fill="#3c2852"/><rect x="104.45" y="65.85" width="2.23" height="5.08" fill="#3c2853"/><rect x="106.38" y="65.85" width="2.23" height="5.08" fill="#3c2854"/><rect x="108.31" y="65.85" width="2.23" height="5.08" fill="#3d2954"/><rect x="110.25" y="65.85" width="2.23" height="5.08" fill="#3d2955"/><rect x="112.18" y="65.85" width="2.23" height="5.08" fill="#3e2a55"/><rect x="114.11" y="65.85" width="2.23" height="5.08" fill="#3e2a56"/><rect x="116.04" y="65.85" width="2.23" height="5.08" fill="#3f2b57"/><rect x="117.98" y="65.85" width="2.23" height="5.08" fill="#402c58"/><rect x="119.91" y="65.85" width="2.23" height="5.08" fill="#422e5a"/><rect x="121.84" y="65.85" width="2.23" height="5.08" fill="#432f5b"/><rect x="123.78" y="65.85" width="2.23" height="5.08" fill="#44305c"/><rect x="125.71" y="65.85" width="2.23" height="5.08" fill="#46325e"/><rect x="127.64" y="65.85" width="2.23" height="5.08" fill="#493461"/><rect x="129.57" y="65.85" width="2.23" height="5.08" fill="#4b3663"/><rect x="131.51" y="65.85" width="2.23" height="5.08" fill="#4d3866"/><rect x="133.44" y="65.85" width="2.23" height="5.08" fill="#4f3968"/><rect x="135.37" y="65.85" width="2.23" height="5.08" fill="#533c6d"/><rect x="137.3" y="65.85" width="2.23" height="5.08" fill="#573f71"/><rect x="139.24" y="65.85" width="2.23" height="5.08" fill="#5b4376"/><rect x="141.17" y="65.85" width="2.23" height="5.08" fill="#60487d"/><rect x="143.1" y="65.85" width="2.23" height="5.08" fill="#664d83"/><rect x="145.04" y="65.85" width="2.23" height="5.08" fill="#6b518a"/><rect x="146.97" y="65.85" width="2.23" height="5.08" fill="#6f538f"/><rect x="148.9" y="65.85" width="2.23" height="5.08" fill="#735595"/><rect x="150.83" y="65.85" width="2.23" height="5.08" fill="#76589a"/><rect x="152.77" y="65.85" width="2.23" height="5.08" fill="#7a5aa0"/><rect x="36.8" y="70.62" width="2.23" height="5.08" fill="#050405"/><rect x="38.73" y="70.62" width="2.23" height="5.08" fill="#070507"/><rect x="40.67" y="70.62" width="2.23" height="5.08" fill="#080609"/><rect x="42.6" y="70.62" width="2.23" height="5.08" fill="#0a070b"/><rect x="44.53" y="70.62" width="2.23" height="5.08" fill="#0c080d"/><rect x="46.46" y="70.62" width="2.23" height="5.08" fill="#0d0910"/><rect x="48.4" y="70.62" width="2.23" height="5.08" fill="#0f0a12"/><rect x="50.33" y="70.62" width="2.23" height="5.08" fill="#100b14"/><rect x="52.26" y="70.62" width="2.23" height="5.08" fill="#120b16"/><rect x="54.2" y="70.62" width="2.23" height="5.08" fill="#140c18"/><rect x="56.13" y="70.62" width="2.23" height="5.08" fill="#150d1a"/><rect x="58.06" y="70.62" width="2.23" height="5.08" fill="#190f1e"/><rect x="59.99" y="70.62" width="2.23" height="5.08" fill="#1c1122"/><rect x="61.93" y="70.62" width="2.23" height="5.08" fill="#1e1225"/><rect x="63.86" y="70.62" width="2.23" height="5.08" fill="#201428"/><rect x="65.79" y="70.62" width="2.23" height="5.08" fill="#22162c"/><rect x="67.72" y="70.62" width="2.23" height="5.08" fill="#251731"/><rect x="69.66" y="70.62" width="2.23" height="5.08" fill="#281836"/><rect x="71.59" y="70.62" width="2.23" height="5.08" fill="#2a1a3a"/><rect x="73.52" y="70.62" width="2.23" height="5.08" fill="#2c1c3d"/><rect x="75.46" y="70.62" width="2.23" height="5.08" fill="#2e1e40"/><rect x="77.39" y="70.62" width="2.23" height="5.08" fill="#301f42"/><rect x="79.32" y="70.62" width="2.23" height="5.08" fill="#312043"/><rect x="81.25" y="70.62" width="2.23" height="5.08" fill="#322145"/><rect x="83.19" y="70.62" width="2.23" height="5.08" fill="#332246"/><rect x="85.12" y="70.62" width="2.23" height="5.08" fill="#342348"/><rect x="87.05" y="70.62" width="2.23" height="5.08" fill="#36244a"/><rect x="88.99" y="70.62" width="2.23" height="5.08" fill="#37254c"/><rect x="90.92" y="70.62" width="2.23" height="5.08" fill="#39254e"/><rect x="92.85" y="70.62" width="2.23" height="5.08" fill="#3a2651"/><rect x="94.78" y="70.62" width="2.23" height="5.08" fill="#3c2853"/><rect x="96.72" y="70.62" width="2.23" height="5.08" fill="#3d2954"/><rect x="98.65" y="70.62" width="2.23" height="5.08" fill="#3d2955"/><rect x="100.58" y="70.62" width="4.17" height="5.08" fill="#3e2a56"/><rect x="104.45" y="70.62" width="4.17" height="5.08" fill="#3f2b57"/><rect x="108.31" y="70.62" width="4.17" height="5.08" fill="#402c58"/><rect x="112.18" y="70.62" width="4.17" height="5.08" fill="#412d59"/><rect x="116.04" y="70.62" width="2.23" height="5.08" fill="#432f5b"/><rect x="117.98" y="70.62" width="2.23" height="5.08" fill="#46325e"/><rect x="119.91" y="70.62" width="2.23" height="5.08" fill="#4b3563"/><rect x="121.84" y="70.62" width="2.23" height="5.08" fill="#4e3867"/><rect x="123.78" y="70.62" width="2.23" height="5.08" fill="#523c6c"/><rect x="125.71" y="70.62" width="2.23" height="5.08" fill="#563f70"/><rect x="127.64" y="70.62" width="2.23" height="5.08" fill="#594274"/><rect x="129.57" y="70.62" width="2.23" height="5.08" fill="#5f467b"/><rect x="131.51" y="70.62" width="2.23" height="5.08" fill="#644b81"/><rect x="133.44" y="70.62" width="2.23" height="5.08" fill="#6a5088"/><rect x="135.37" y="70.62" width="2.23" height="5.08" fill="#6e528e"/><rect x="137.3" y="70.62" width="2.23" height="5.08" fill="#715593"/><rect x="139.24" y="70.62" width="2.23" height="5.08" fill="#755799"/><rect x="141.17" y="70.62" width="2.23" height="5.08" fill="#79599e"/><rect x="143.1" y="70.62" width="2.23" height="5.08" fill="#8261a8"/><rect x="145.04" y="70.62" width="2.23" height="5.08" fill="#8b69b1"/><rect x="146.97" y="70.62" width="2.23" height="5.08" fill="#8e6bb3"/><rect x="148.9" y="70.62" width="2.23" height="5.08" fill="#906eb6"/><rect x="150.83" y="70.62" width="2.23" height="5.08" fill="#9370b8"/><rect x="152.77" y="70.62" width="2.23" height="5.08" fill="#9673bb"/><rect x="36.8" y="75.4" width="2.23" height="5.08" fill="#050405"/><rect x="38.73" y="75.4" width="2.23" height="5.08" fill="#070507"/><rect x="40.67" y="75.4" width="2.23" height="5.08" fill="#080609"/><rect x="42.6" y="75.4" width="2.23" height="5.08" fill="#0a070b"/><rect x="44.53" y="75.4" width="2.23" height="5.08" fill="#0c080d"/><rect x="46.46" y="75.4" width="2.23" height="5.08" fill="#0d0910"/><rect x="48.4" y="75.4" width="2.23" height="5.08" fill="#0f0a12"/><rect x="50.33" y="75.4" width="2.23" height="5.08" fill="#100b14"/><rect x="52.26" y="75.4" width="2.23" height="5.08" fill="#120b16"/><rect x="54.2" y="75.4" width="2.23" height="5.08" fill="#140c18"/><rect x="56.13" y="75.4" width="2.23" height="5.08" fill="#150d1a"/><rect x="58.06" y="75.4" width="2.23" height="5.08" fill="#190f1f"/><rect x="59.99" y="75.4" width="2.23" height="5.08" fill="#1c1122"/><rect x="61.93" y="75.4" width="2.23" height="5.08" fill="#1e1326"/><rect x="63.86" y="75.4" width="2.23" height="5.08" fill="#211429"/><rect x="65.79" y="75.4" width="2.23" height="5.08" fill="#23162e"/><rect x="67.72" y="75.4" width="2.23" height="5.08" fill="#261833"/><rect x="69.66" y="75.4" width="2.23" height="5.08" fill="#291938"/><rect x="71.59" y="75.4" width="2.23" height="5.08" fill="#2b1b3c"/><rect x="73.52" y="75.4" width="2.23" height="5.08" fill="#2e1d3f"/><rect x="75.46" y="75.4" width="2.23" height="5.08" fill="#301f42"/><rect x="77.39" y="75.4" width="2.23" height="5.08" fill="#312044"/><rect x="79.32" y="75.4" width="2.23" height="5.08" fill="#322145"/><rect x="81.25" y="75.4" width="2.23" height="5.08" fill="#342247"/><rect x="83.19" y="75.4" width="2.23" height="5.08" fill="#352348"/><rect x="85.12" y="75.4" width="2.23" height="5.08" fill="#36244a"/><rect x="87.05" y="75.4" width="2.23" height="5.08" fill="#38254c"/><rect x="88.99" y="75.4" width="2.23" height="5.08" fill="#39264f"/><rect x="90.92" y="75.4" width="2.23" height="5.08" fill="#3b2751"/><rect x="92.85" y="75.4" width="2.23" height="5.08" fill="#3c2854"/><rect x="94.78" y="75.4" width="2.23" height="5.08" fill="#3e2a56"/><rect x="96.72" y="75.4" width="4.17" height="5.08" fill="#3f2b57"/><rect x="100.58" y="75.4" width="4.17" height="5.08" fill="#402c58"/><rect x="104.45" y="75.4" width="2.23" height="5.08" fill="#412d59"/><rect x="106.38" y="75.4" width="4.17" height="5.08" fill="#422e5a"/><rect x="110.25" y="75.4" width="4.17" height="5.08" fill="#432f5b"/><rect x="114.11" y="75.4" width="2.23" height="5.08" fill="#44305c"/><rect x="116.04" y="75.4" width="2.23" height="5.08" fill="#4a3562"/><rect x="117.98" y="75.4" width="2.23" height="5.08" fill="#4f3968"/><rect x="119.91" y="75.4" width="2.23" height="5.08" fill="#553e6f"/><rect x="121.84" y="75.4" width="2.23" height="5.08" fill="#5a4275"/><rect x="123.78" y="75.4" width="2.23" height="5.08" fill="#62497f"/><rect x="125.71" y="75.4" width="2.23" height="5.08" fill="#6a5088"/><rect x="127.64" y="75.4" width="2.23" height="5.08" fill="#6f5390"/><rect x="129.57" y="75.4" width="2.23" height="5.08" fill="#755798"/><rect x="131.51" y="75.4" width="2.23" height="5.08" fill="#7a5aa0"/><rect x="133.44" y="75.4" width="2.23" height="5.08" fill="#8a68b0"/><rect x="135.37" y="75.4" width="2.23" height="5.08" fill="#8d6bb3"/><rect x="137.3" y="75.4" width="2.23" height="5.08" fill="#906db5"/><rect x="139.24" y="75.4" width="2.23" height="5.08" fill="#9270b8"/><rect x="141.17" y="75.4" width="2.23" height="5.08" fill="#9572ba"/><rect x="143.1" y="75.4" width="2.23" height="5.08" fill="#9b7ac2"/><rect x="145.04" y="75.4" width="2.23" height="5.08" fill="#a181c9"/><rect x="146.97" y="75.4" width="2.23" height="5.08" fill="#a683cd"/><rect x="148.9" y="75.4" width="2.23" height="5.08" fill="#ab85d1"/><rect x="150.83" y="75.4" width="2.23" height="5.08" fill="#af88d4"/><rect x="152.77" y="75.4" width="2.23" height="5.08" fill="#b48ad8"/><rect x="36.8" y="80.18" width="2.23" height="5.08" fill="#050405"/><rect x="38.73" y="80.18" width="2.23" height="5.08" fill="#070507"/><rect x="40.67" y="80.18" width="2.23" height="5.08" fill="#080609"/><rect x="42.6" y="80.18" width="2.23" height="5.08" fill="#0a070b"/><rect x="44.53" y="80.18" width="2.23" height="5.08" fill="#0c080d"/><rect x="46.46" y="80.18" width="2.23" height="5.08" fill="#0d0910"/><rect x="48.4" y="80.18" width="2.23" height="5.08" fill="#0f0a12"/><rect x="50.33" y="80.18" width="2.23" height="5.08" fill="#100b14"/><rect x="52.26" y="80.18" width="2.23" height="5.08" fill="#120b16"/><rect x="54.2" y="80.18" width="2.23" height="5.08" fill="#140c18"/><rect x="56.13" y="80.18" width="2.23" height="5.08" fill="#150d1a"/><rect x="58.06" y="80.18" width="2.23" height="5.08" fill="#1a101f"/><rect x="59.99" y="80.18" width="2.23" height="5.08" fill="#1c1223"/><rect x="61.93" y="80.18" width="2.23" height="5.08" fill="#1f1327"/><rect x="63.86" y="80.18" width="2.23" height="5.08" fill="#22152c"/><rect x="65.79" y="80.18" width="2.23" height="5.08" fill="#251731"/><rect x="67.72" y="80.18" width="2.23" height="5.08" fill="#281936"/><rect x="69.66" y="80.18" width="2.23" height="5.08" fill="#2b1b3b"/><rect x="71.59" y="80.18" width="2.23" height="5.08" fill="#2e1d3f"/><rect x="73.52" y="80.18" width="2.23" height="5.08" fill="#301f42"/><rect x="75.46" y="80.18" width="2.23" height="5.08" fill="#332246"/><rect x="77.39" y="80.18" width="2.23" height="5.08" fill="#342247"/><rect x="79.32" y="80.18" width="2.23" height="5.08" fill="#352348"/><rect x="81.25" y="80.18" width="2.23" height="5.08" fill="#36244a"/><rect x="83.19" y="80.18" width="2.23" height="5.08" fill="#37244b"/><rect x="85.12" y="80.18" width="2.23" height="5.08" fill="#38254d"/><rect x="87.05" y="80.18" width="2.23" height="5.08" fill="#39264f"/><rect x="88.99" y="80.18" width="2.23" height="5.08" fill="#3a2651"/><rect x="90.92" y="80.18" width="2.23" height="5.08" fill="#3c2852"/><rect x="92.85" y="80.18" width="2.23" height="5.08" fill="#3d2954"/><rect x="94.78" y="80.18" width="2.23" height="5.08" fill="#3e2a56"/><rect x="96.72" y="80.18" width="2.23" height="5.08" fill="#402c58"/><rect x="98.65" y="80.18" width="2.23" height="5.08" fill="#412d59"/><rect x="100.58" y="80.18" width="2.23" height="5.08" fill="#422e5a"/><rect x="102.51" y="80.18" width="2.23" height="5.08" fill="#44305c"/><rect x="104.45" y="80.18" width="2.23" height="5.08" fill="#47325f"/><rect x="106.38" y="80.18" width="2.23" height="5.08" fill="#4a3562"/><rect x="108.31" y="80.18" width="2.23" height="5.08" fill="#4d3765"/><rect x="110.25" y="80.18" width="2.23" height="5.08" fill="#4f3968"/><rect x="112.18" y="80.18" width="2.23" height="5.08" fill="#523c6c"/><rect x="114.11" y="80.18" width="2.23" height="5.08" fill="#553e6f"/><rect x="116.04" y="80.18" width="2.23" height="5.08" fill="#5b4376"/><rect x="117.98" y="80.18" width="2.23" height="5.08" fill="#644a80"/><rect x="119.91" y="80.18" width="2.23" height="5.08" fill="#6c518a"/><rect x="121.84" y="80.18" width="2.23" height="5.08" fill="#715593"/><rect x="123.78" y="80.18" width="2.23" height="5.08" fill="#77589c"/><rect x="125.71" y="80.18" width="2.23" height="5.08" fill="#8462aa"/><rect x="127.64" y="80.18" width="2.23" height="5.08" fill="#8d6bb3"/><rect x="129.57" y="80.18" width="2.23" height="5.08" fill="#916fb7"/><rect x="131.51" y="80.18" width="2.23" height="5.08" fill="#9673bb"/><rect x="133.44" y="80.18" width="2.23" height="5.08" fill="#a080c8"/><rect x="135.37" y="80.18" width="2.23" height="5.08" fill="#a382cb"/><rect x="137.3" y="80.18" width="2.23" height="5.08" fill="#a783cd"/><rect x="139.24" y="80.18" width="2.23" height="5.08" fill="#aa85d0"/><rect x="141.17" y="80.18" width="2.23" height="5.08" fill="#ad87d3"/><rect x="143.1" y="80.18" width="2.23" height="5.08" fill="#b188d5"/><rect x="145.04" y="80.18" width="2.23" height="5.08" fill="#b48ad8"/><rect x="146.97" y="80.18" width="2.23" height="5.08" fill="#ba90de"/><rect x="148.9" y="80.18" width="2.23" height="5.08" fill="#c095e4"/><rect x="150.83" y="80.18" width="2.23" height="5.08" fill="#c298e5"/><rect x="152.77" y="80.18" width="2.23" height="5.08" fill="#c49be6"/><rect x="36.8" y="84.95" width="2.23" height="5.08" fill="#050405"/><rect x="38.73" y="84.95" width="2.23" height="5.08" fill="#070507"/><rect x="40.67" y="84.95" width="2.23" height="5.08" fill="#080609"/><rect x="42.6" y="84.95" width="2.23" height="5.08" fill="#0a070b"/><rect x="44.53" y="84.95" width="2.23" height="5.08" fill="#0c080d"/><rect x="46.46" y="84.95" width="2.23" height="5.08" fill="#0d0910"/><rect x="48.4" y="84.95" width="2.23" height="5.08" fill="#0f0a12"/><rect x="50.33" y="84.95" width="2.23" height="5.08" fill="#100b14"/><rect x="52.26" y="84.95" width="2.23" height="5.08" fill="#120b16"/><rect x="54.2" y="84.95" width="2.23" height="5.08" fill="#140c18"/><rect x="56.13" y="84.95" width="2.23" height="5.08" fill="#150d1a"/><rect x="58.06" y="84.95" width="2.23" height="5.08" fill="#1a101f"/><rect x="59.99" y="84.95" width="2.23" height="5.08" fill="#1c1223"/><rect x="61.93" y="84.95" width="2.23" height="5.08" fill="#1f1327"/><rect x="63.86" y="84.95" width="2.23" height="5.08" fill="#22152c"/><rect x="65.79" y="84.95" width="2.23" height="5.08" fill="#251731"/><rect x="67.72" y="84.95" width="2.23" height="5.08" fill="#281936"/><rect x="69.66" y="84.95" width="2.23" height="5.08" fill="#2b1b3b"/><rect x="71.59" y="84.95" width="2.23" height="5.08" fill="#2e1d3f"/><rect x="73.52" y="84.95" width="2.23" height="5.08" fill="#301f42"/><rect x="75.46" y="84.95" width="2.23" height="5.08" fill="#332246"/><rect x="77.39" y="84.95" width="2.23" height="5.08" fill="#342247"/><rect x="79.32" y="84.95" width="2.23" height="5.08" fill="#352348"/><rect x="81.25" y="84.95" width="2.23" height="5.08" fill="#36244a"/><rect x="83.19" y="84.95" width="2.23" height="5.08" fill="#37244b"/><rect x="85.12" y="84.95" width="2.23" height="5.08" fill="#38254d"/><rect x="87.05" y="84.95" width="2.23" height="5.08" fill="#39264f"/><rect x="88.99" y="84.95" width="2.23" height="5.08" fill="#3a2651"/><rect x="90.92" y="84.95" width="2.23" height="5.08" fill="#3c2852"/><rect x="92.85" y="84.95" width="2.23" height="5.08" fill="#3d2954"/><rect x="94.78" y="84.95" width="2.23" height="5.08" fill="#3e2a56"/><rect x="96.72" y="84.95" width="2.23" height="5.08" fill="#402c58"/><rect x="98.65" y="84.95" width="2.23" height="5.08" fill="#422e5a"/><rect x="100.58" y="84.95" width="2.23" height="5.08" fill="#45315d"/><rect x="102.51" y="84.95" width="2.23" height="5.08" fill="#493461"/><rect x="104.45" y="84.95" width="2.23" height="5.08" fill="#4d3765"/><rect x="106.38" y="84.95" width="2.23" height="5.08" fill="#503a6a"/><rect x="108.31" y="84.95" width="2.23" height="5.08" fill="#543d6e"/><rect x="110.25" y="84.95" width="2.23" height="5.08" fill="#584072"/><rect x="112.18" y="84.95" width="2.23" height="5.08" fill="#5c4478"/><rect x="114.11" y="84.95" width="2.23" height="5.08" fill="#62497e"/><rect x="116.04" y="84.95" width="2.23" height="5.08" fill="#6c518a"/><rect x="117.98" y="84.95" width="2.23" height="5.08" fill="#735595"/><rect x="119.91" y="84.95" width="2.23" height="5.08" fill="#795a9f"/><rect x="121.84" y="84.95" width="2.23" height="5.08" fill="#8b69b1"/><rect x="123.78" y="84.95" width="2.23" height="5.08" fill="#906eb6"/><rect x="125.71" y="84.95" width="2.23" height="5.08" fill="#9572ba"/><rect x="127.64" y="84.95" width="2.23" height="5.08" fill="#a180c9"/><rect x="129.57" y="84.95" width="2.23" height="5.08" fill="#a985cf"/><rect x="131.51" y="84.95" width="2.23" height="5.08" fill="#b289d6"/><rect x="133.44" y="84.95" width="2.23" height="5.08" fill="#c095e4"/><rect x="135.37" y="84.95" width="2.23" height="5.08" fill="#c196e4"/><rect x="137.3" y="84.95" width="2.23" height="5.08" fill="#c297e5"/><rect x="139.24" y="84.95" width="2.23" height="5.08" fill="#c299e5"/><rect x="141.17" y="84.95" width="2.23" height="5.08" fill="#c39ae6"/><rect x="143.1" y="84.95" width="2.23" height="5.08" fill="#c49be6"/><rect x="145.04" y="84.95" width="2.23" height="5.08" fill="#c59ce6"/><rect x="146.97" y="84.95" width="2.23" height="5.08" fill="#c69de7"/><rect x="148.9" y="84.95" width="2.23" height="5.08" fill="#c69ee7"/><rect x="150.83" y="84.95" width="2.23" height="5.08" fill="#c79fe8"/><rect x="152.77" y="84.95" width="2.23" height="5.08" fill="#c8a0e8"/><rect x="36.8" y="89.72" width="2.23" height="5.08" fill="#050405"/><rect x="38.73" y="89.72" width="2.23" height="5.08" fill="#060507"/><rect x="40.67" y="89.72" width="2.23" height="5.08" fill="#080609"/><rect x="42.6" y="89.72" width="2.23" height="5.08" fill="#09060a"/><rect x="44.53" y="89.72" width="2.23" height="5.08" fill="#0b070c"/><rect x="46.46" y="89.72" width="2.23" height="5.08" fill="#0c080e"/><rect x="48.4" y="89.72" width="2.23" height="5.08" fill="#0d0910"/><rect x="50.33" y="89.72" width="2.23" height="5.08" fill="#0f0a12"/><rect x="52.26" y="89.72" width="2.23" height="5.08" fill="#100a13"/><rect x="54.2" y="89.72" width="2.23" height="5.08" fill="#120b15"/><rect x="56.13" y="89.72" width="2.23" height="5.08" fill="#130c17"/><rect x="58.06" y="89.72" width="2.23" height="5.08" fill="#180f1d"/><rect x="59.99" y="89.72" width="2.23" height="5.08" fill="#1c1122"/><rect x="61.93" y="89.72" width="2.23" height="5.08" fill="#1f1327"/><rect x="63.86" y="89.72" width="2.23" height="5.08" fill="#22152c"/><rect x="65.79" y="89.72" width="2.23" height="5.08" fill="#261832"/><rect x="67.72" y="89.72" width="2.23" height="5.08" fill="#291a39"/><rect x="69.66" y="89.72" width="2.23" height="5.08" fill="#2d1c3d"/><rect x="71.59" y="89.72" width="2.23" height="5.08" fill="#301f42"/><rect x="73.52" y="89.72" width="2.23" height="5.08" fill="#332146"/><rect x="75.46" y="89.72" width="2.23" height="5.08" fill="#36244a"/><rect x="77.39" y="89.72" width="2.23" height="5.08" fill="#38254c"/><rect x="79.32" y="89.72" width="2.23" height="5.08" fill="#39264f"/><rect x="81.25" y="89.72" width="2.23" height="5.08" fill="#3b2751"/><rect x="83.19" y="89.72" width="2.23" height="5.08" fill="#3c2854"/><rect x="85.12" y="89.72" width="2.23" height="5.08" fill="#3e2a56"/><rect x="87.05" y="89.72" width="2.23" height="5.08" fill="#3f2b57"/><rect x="88.99" y="89.72" width="2.23" height="5.08" fill="#402c58"/><rect x="90.92" y="89.72" width="2.23" height="5.08" fill="#422e5a"/><rect x="92.85" y="89.72" width="2.23" height="5.08" fill="#432f5b"/><rect x="94.78" y="89.72" width="2.23" height="5.08" fill="#44305c"/><rect x="96.72" y="89.72" width="2.23" height="5.08" fill="#493461"/><rect x="98.65" y="89.72" width="2.23" height="5.08" fill="#4e3867"/><rect x="100.58" y="89.72" width="2.23" height="5.08" fill="#533c6d"/><rect x="102.51" y="89.72" width="2.23" height="5.08" fill="#584072"/><rect x="104.45" y="89.72" width="2.23" height="5.08" fill="#5e467a"/><rect x="106.38" y="89.72" width="2.23" height="5.08" fill="#654c82"/><rect x="108.31" y="89.72" width="2.23" height="5.08" fill="#6c518a"/><rect x="110.25" y="89.72" width="2.23" height="5.08" fill="#705492"/><rect x="112.18" y="89.72" width="2.23" height="5.08" fill="#755799"/><rect x="114.11" y="89.72" width="2.23" height="5.08" fill="#7a5aa0"/><rect x="116.04" y="89.72" width="2.23" height="5.08" fill="#8a68b0"/><rect x="117.98" y="89.72" width="2.23" height="5.08" fill="#8f6cb4"/><rect x="119.91" y="89.72" width="2.23" height="5.08" fill="#9370b8"/><rect x="121.84" y="89.72" width="2.23" height="5.08" fill="#9a78c0"/><rect x="123.78" y="89.72" width="2.23" height="5.08" fill="#a382cb"/><rect x="125.71" y="89.72" width="2.23" height="5.08" fill="#ab85d1"/><rect x="127.64" y="89.72" width="2.23" height="5.08" fill="#b289d6"/><rect x="129.57" y="89.72" width="2.23" height="5.08" fill="#be93e2"/><rect x="131.51" y="89.72" width="2.23" height="5.08" fill="#c49ae6"/><rect x="133.44" y="89.72" width="2.23" height="5.08" fill="#c8a0e8"/><rect x="135.37" y="89.72" width="2.23" height="5.08" fill="#c8a1e8"/><rect x="137.3" y="89.72" width="2.23" height="5.08" fill="#c9a2e8"/><rect x="139.24" y="89.72" width="2.23" height="5.08" fill="#c9a2e9"/><rect x="141.17" y="89.72" width="2.23" height="5.08" fill="#caa3e9"/><rect x="143.1" y="89.72" width="2.23" height="5.08" fill="#caa4e9"/><rect x="145.04" y="89.72" width="2.23" height="5.08" fill="#caa5e9"/><rect x="146.97" y="89.72" width="2.23" height="5.08" fill="#cba6e9"/><rect x="148.9" y="89.72" width="2.23" height="5.08" fill="#cba6ea"/><rect x="150.83" y="89.72" width="2.23" height="5.08" fill="#cca7ea"/><rect x="152.77" y="89.72" width="2.23" height="5.08" fill="#cca8ea"/><rect x="36.8" y="94.5" width="2.23" height="5.08" fill="#050405"/><rect x="38.73" y="94.5" width="2.23" height="5.08" fill="#060406"/><rect x="40.67" y="94.5" width="2.23" height="5.08" fill="#060507"/><rect x="42.6" y="94.5" width="2.23" height="5.08" fill="#070508"/><rect x="44.53" y="94.5" width="2.23" height="5.08" fill="#080609"/><rect x="46.46" y="94.5" width="2.23" height="5.08" fill="#08060a"/><rect x="48.4" y="94.5" width="2.23" height="5.08" fill="#09060a"/><rect x="50.33" y="94.5" width="2.23" height="5.08" fill="#0a070b"/><rect x="52.26" y="94.5" width="2.23" height="5.08" fill="#0b070c"/><rect x="54.2" y="94.5" width="2.23" height="5.08" fill="#0b080d"/><rect x="56.13" y="94.5" width="2.23" height="5.08" fill="#0c080e"/><rect x="58.06" y="94.5" width="2.23" height="5.08" fill="#130c16"/><rect x="59.99" y="94.5" width="2.23" height="5.08" fill="#190f1f"/><rect x="61.93" y="94.5" width="2.23" height="5.08" fill="#1e1225"/><rect x="63.86" y="94.5" width="2.23" height="5.08" fill="#22152c"/><rect x="65.79" y="94.5" width="2.23" height="5.08" fill="#271834"/><rect x="67.72" y="94.5" width="2.23" height="5.08" fill="#2b1b3c"/><rect x="69.66" y="94.5" width="2.23" height="5.08" fill="#2f1e41"/><rect x="71.59" y="94.5" width="2.23" height="5.08" fill="#342247"/><rect x="73.52" y="94.5" width="2.23" height="5.08" fill="#38254e"/><rect x="75.46" y="94.5" width="2.23" height="5.08" fill="#3e2a56"/><rect x="77.39" y="94.5" width="2.23" height="5.08" fill="#402c58"/><rect x="79.32" y="94.5" width="2.23" height="5.08" fill="#422e5a"/><rect x="81.25" y="94.5" width="2.23" height="5.08" fill="#432f5b"/><rect x="83.19" y="94.5" width="2.23" height="5.08" fill="#46325e"/><rect x="85.12" y="94.5" width="2.23" height="5.08" fill="#4a3562"/><rect x="87.05" y="94.5" width="2.23" height="5.08" fill="#4d3866"/><rect x="88.99" y="94.5" width="2.23" height="5.08" fill="#503a6a"/><rect x="90.92" y="94.5" width="2.23" height="5.08" fill="#543d6d"/><rect x="92.85" y="94.5" width="2.23" height="5.08" fill="#573f71"/><rect x="94.78" y="94.5" width="2.23" height="5.08" fill="#5a4275"/><rect x="96.72" y="94.5" width="2.23" height="5.08" fill="#61487e"/><rect x="98.65" y="94.5" width="2.23" height="5.08" fill="#684f86"/><rect x="100.58" y="94.5" width="2.23" height="5.08" fill="#6e528e"/><rect x="102.51" y="94.5" width="2.23" height="5.08" fill="#735595"/><rect x="104.45" y="94.5" width="2.23" height="5.08" fill="#77589c"/><rect x="106.38" y="94.5" width="2.23" height="5.08" fill="#8060a6"/><rect x="108.31" y="94.5" width="2.23" height="5.08" fill="#8b69b1"/><rect x="110.25" y="94.5" width="2.23" height="5.08" fill="#8f6cb4"/><rect x="112.18" y="94.5" width="2.23" height="5.08" fill="#9270b8"/><rect x="114.11" y="94.5" width="2.23" height="5.08" fill="#9673bb"/><rect x="116.04" y="94.5" width="2.23" height="5.08" fill="#9e7dc5"/><rect x="117.98" y="94.5" width="2.23" height="5.08" fill="#a482cb"/><rect x="119.91" y="94.5" width="2.23" height="5.08" fill="#a985cf"/><rect x="121.84" y="94.5" width="2.23" height="5.08" fill="#af87d4"/><rect x="123.78" y="94.5" width="2.23" height="5.08" fill="#b48ad8"/><rect x="125.71" y="94.5" width="2.23" height="5.08" fill="#be93e2"/><rect x="127.64" y="94.5" width="2.23" height="5.08" fill="#c299e5"/><rect x="129.57" y="94.5" width="2.23" height="5.08" fill="#c69de7"/><rect x="131.51" y="94.5" width="2.23" height="5.08" fill="#c9a2e8"/><rect x="133.44" y="94.5" width="2.23" height="5.08" fill="#cca8ea"/><rect x="135.37" y="94.5" width="2.23" height="5.08" fill="#cdaaea"/><rect x="137.3" y="94.5" width="2.23" height="5.08" fill="#ceabeb"/><rect x="139.24" y="94.5" width="2.23" height="5.08" fill="#ceadeb"/><rect x="141.17" y="94.5" width="2.23" height="5.08" fill="#cfaeec"/><rect x="143.1" y="94.5" width="2.23" height="5.08" fill="#d0b0ec"/><rect x="145.04" y="94.5" width="2.23" height="5.08" fill="#d1b2ec"/><rect x="146.97" y="94.5" width="2.23" height="5.08" fill="#d2b3ed"/><rect x="148.9" y="94.5" width="2.23" height="5.08" fill="#d2b5ed"/><rect x="150.83" y="94.5" width="2.23" height="5.08" fill="#d3b6ee"/><rect x="152.77" y="94.5" width="2.23" height="5.08" fill="#d4b8ee"/><rect x="36.8" y="99.28" width="2.23" height="5.08" fill="#050405"/><rect x="38.73" y="99.28" width="2.23" height="5.08" fill="#060406"/><rect x="40.67" y="99.28" width="2.23" height="5.08" fill="#060507"/><rect x="42.6" y="99.28" width="2.23" height="5.08" fill="#070508"/><rect x="44.53" y="99.28" width="2.23" height="5.08" fill="#080609"/><rect x="46.46" y="99.28" width="2.23" height="5.08" fill="#08060a"/><rect x="48.4" y="99.28" width="2.23" height="5.08" fill="#09060a"/><rect x="50.33" y="99.28" width="2.23" height="5.08" fill="#0a070b"/><rect x="52.26" y="99.28" width="2.23" height="5.08" fill="#0b070c"/><rect x="54.2" y="99.28" width="2.23" height="5.08" fill="#0b080d"/><rect x="56.13" y="99.28" width="2.23" height="5.08" fill="#0c080e"/><rect x="58.06" y="99.28" width="2.23" height="5.08" fill="#130c18"/><rect x="59.99" y="99.28" width="2.23" height="5.08" fill="#1b1021"/><rect x="61.93" y="99.28" width="2.23" height="5.08" fill="#1f1427"/><rect x="63.86" y="99.28" width="2.23" height="5.08" fill="#251730"/><rect x="65.79" y="99.28" width="2.23" height="5.08" fill="#2a1a3a"/><rect x="67.72" y="99.28" width="2.23" height="5.08" fill="#2f1e40"/><rect x="69.66" y="99.28" width="2.23" height="5.08" fill="#342247"/><rect x="71.59" y="99.28" width="2.23" height="5.08" fill="#39264f"/><rect x="73.52" y="99.28" width="2.23" height="5.08" fill="#3f2b57"/><rect x="75.46" y="99.28" width="2.23" height="5.08" fill="#44305c"/><rect x="77.39" y="99.28" width="2.23" height="5.08" fill="#483360"/><rect x="79.32" y="99.28" width="2.23" height="5.08" fill="#4b3663"/><rect x="81.25" y="99.28" width="2.23" height="5.08" fill="#4e3867"/><rect x="83.19" y="99.28" width="2.23" height="5.08" fill="#513b6b"/><rect x="85.12" y="99.28" width="2.23" height="5.08" fill="#553e6f"/><rect x="87.05" y="99.28" width="2.23" height="5.08" fill="#584072"/><rect x="88.99" y="99.28" width="2.23" height="5.08" fill="#5c4377"/><rect x="90.92" y="99.28" width="2.23" height="5.08" fill="#60487d"/><rect x="92.85" y="99.28" width="2.23" height="5.08" fill="#654c82"/><rect x="94.78" y="99.28" width="2.23" height="5.08" fill="#6a5088"/><rect x="96.72" y="99.28" width="2.23" height="5.08" fill="#705491"/><rect x="98.65" y="99.28" width="2.23" height="5.08" fill="#76579a"/><rect x="100.58" y="99.28" width="2.23" height="5.08" fill="#7f5ea5"/><rect x="102.51" y="99.28" width="2.23" height="5.08" fill="#8c69b1"/><rect x="104.45" y="99.28" width="2.23" height="5.08" fill="#906eb6"/><rect x="106.38" y="99.28" width="2.23" height="5.08" fill="#9472ba"/><rect x="108.31" y="99.28" width="2.23" height="5.08" fill="#9d7cc4"/><rect x="110.25" y="99.28" width="2.23" height="5.08" fill="#a583cc"/><rect x="112.18" y="99.28" width="2.23" height="5.08" fill="#ad86d2"/><rect x="114.11" y="99.28" width="2.23" height="5.08" fill="#b48ad8"/><rect x="116.04" y="99.28" width="2.23" height="5.08" fill="#bb91df"/><rect x="117.98" y="99.28" width="2.23" height="5.08" fill="#c196e4"/><rect x="119.91" y="99.28" width="2.23" height="5.08" fill="#c39ae6"/><rect x="121.84" y="99.28" width="2.23" height="5.08" fill="#c69de7"/><rect x="123.78" y="99.28" width="2.23" height="5.08" fill="#c8a0e8"/><rect x="125.71" y="99.28" width="2.23" height="5.08" fill="#caa5e9"/><rect x="127.64" y="99.28" width="2.23" height="5.08" fill="#cdaaea"/><rect x="129.57" y="99.28" width="2.23" height="5.08" fill="#cfaeec"/><rect x="131.51" y="99.28" width="2.23" height="5.08" fill="#d2b3ed"/><rect x="133.44" y="99.28" width="2.23" height="5.08" fill="#d4b8ee"/><rect x="135.37" y="99.28" width="2.23" height="5.08" fill="#d5baee"/><rect x="137.3" y="99.28" width="2.23" height="5.08" fill="#d6bcee"/><rect x="139.24" y="99.28" width="2.23" height="5.08" fill="#d6bdef"/><rect x="141.17" y="99.28" width="2.23" height="5.08" fill="#d7bfef"/><rect x="143.1" y="99.28" width="2.23" height="5.08" fill="#d8c1ef"/><rect x="145.04" y="99.28" width="2.23" height="5.08" fill="#d9c3ef"/><rect x="146.97" y="99.28" width="2.23" height="5.08" fill="#dac5ef"/><rect x="148.9" y="99.28" width="2.23" height="5.08" fill="#dac6f0"/><rect x="150.83" y="99.28" width="2.23" height="5.08" fill="#dbc8f0"/><rect x="152.77" y="99.28" width="2.23" height="5.08" fill="#dccaf0"/><rect x="36.8" y="104.05" width="2.23" height="5.08" fill="#050405"/><rect x="38.73" y="104.05" width="2.23" height="5.08" fill="#060406"/><rect x="40.67" y="104.05" width="2.23" height="5.08" fill="#060507"/><rect x="42.6" y="104.05" width="2.23" height="5.08" fill="#070508"/><rect x="44.53" y="104.05" width="2.23" height="5.08" fill="#080609"/><rect x="46.46" y="104.05" width="2.23" height="5.08" fill="#08060a"/><rect x="48.4" y="104.05" width="2.23" height="5.08" fill="#09060a"/><rect x="50.33" y="104.05" width="2.23" height="5.08" fill="#0a070b"/><rect x="52.26" y="104.05" width="2.23" height="5.08" fill="#0b070c"/><rect x="54.2" y="104.05" width="2.23" height="5.08" fill="#0b080d"/><rect x="56.13" y="104.05" width="2.23" height="5.08" fill="#0c080e"/><rect x="58.06" y="104.05" width="2.23" height="5.08" fill="#120b16"/><rect x="59.99" y="104.05" width="2.23" height="5.08" fill="#180f1e"/><rect x="61.93" y="104.05" width="2.23" height="5.08" fill="#1d1224"/><rect x="63.86" y="104.05" width="2.23" height="5.08" fill="#211429"/><rect x="65.79" y="104.05" width="2.23" height="5.08" fill="#251731"/><rect x="67.72" y="104.05" width="2.23" height="5.08" fill="#291a39"/><rect x="69.66" y="104.05" width="2.23" height="5.08" fill="#2d1d3e"/><rect x="71.59" y="104.05" width="2.23" height="5.08" fill="#312044"/><rect x="73.52" y="104.05" width="2.23" height="5.08" fill="#352349"/><rect x="75.46" y="104.05" width="2.23" height="5.08" fill="#3a2650"/><rect x="77.39" y="104.05" width="2.23" height="5.08" fill="#3f2b57"/><rect x="79.32" y="104.05" width="2.23" height="5.08" fill="#432f5b"/><rect x="81.25" y="104.05" width="2.23" height="5.08" fill="#493561"/><rect x="83.19" y="104.05" width="2.23" height="5.08" fill="#503a6a"/><rect x="85.12" y="104.05" width="2.23" height="5.08" fill="#574072"/><rect x="87.05" y="104.05" width="2.23" height="5.08" fill="#60487d"/><rect x="88.99" y="104.05" width="2.23" height="5.08" fill="#6b5089"/><rect x="90.92" y="104.05" width="2.23" height="5.08" fill="#715593"/><rect x="92.85" y="104.05" width="2.23" height="5.08" fill="#78599e"/><rect x="94.78" y="104.05" width="2.23" height="5.08" fill="#8a68b0"/><rect x="96.72" y="104.05" width="2.23" height="5.08" fill="#8f6db5"/><rect x="98.65" y="104.05" width="2.23" height="5.08" fill="#9472ba"/><rect x="100.58" y="104.05" width="2.23" height="5.08" fill="#9f7fc7"/><rect x="102.51" y="104.05" width="2.23" height="5.08" fill="#a884ce"/><rect x="104.45" y="104.05" width="2.23" height="5.08" fill="#b188d5"/><rect x="106.38" y="104.05" width="2.23" height="5.08" fill="#be93e2"/><rect x="108.31" y="104.05" width="2.23" height="5.08" fill="#c49ce6"/><rect x="110.25" y="104.05" width="2.23" height="5.08" fill="#caa3e9"/><rect x="112.18" y="104.05" width="2.23" height="5.08" fill="#cfaeeb"/><rect x="114.11" y="104.05" width="2.23" height="5.08" fill="#d4b8ee"/><rect x="116.04" y="104.05" width="2.23" height="5.08" fill="#d6bcee"/><rect x="117.98" y="104.05" width="2.23" height="5.08" fill="#d7bfef"/><rect x="119.91" y="104.05" width="2.23" height="5.08" fill="#d9c3ef"/><rect x="121.84" y="104.05" width="2.23" height="5.08" fill="#dac6f0"/><rect x="123.78" y="104.05" width="2.23" height="5.08" fill="#dccaf0"/><rect x="125.71" y="104.05" width="2.23" height="5.08" fill="#deccf0"/><rect x="127.64" y="104.05" width="2.23" height="5.08" fill="#dfcff0"/><rect x="129.57" y="104.05" width="2.23" height="5.08" fill="#e1d1f0"/><rect x="131.51" y="104.05" width="2.23" height="5.08" fill="#e2d4f0"/><rect x="133.44" y="104.05" width="2.23" height="5.08" fill="#e4d6f0"/><rect x="135.37" y="104.05" width="2.23" height="5.08" fill="#e4d7f0"/><rect x="137.3" y="104.05" width="2.23" height="5.08" fill="#e5d8f0"/><rect x="139.24" y="104.05" width="2.23" height="5.08" fill="#e5d8f1"/><rect x="141.17" y="104.05" width="2.23" height="5.08" fill="#e6d9f1"/><rect x="143.1" y="104.05" width="2.23" height="5.08" fill="#e6daf1"/><rect x="145.04" y="104.05" width="2.23" height="5.08" fill="#e6dbf1"/><rect x="146.97" y="104.05" width="2.23" height="5.08" fill="#e7dcf1"/><rect x="148.9" y="104.05" width="2.23" height="5.08" fill="#e7dcf2"/><rect x="150.83" y="104.05" width="2.23" height="5.08" fill="#e8ddf2"/><rect x="152.77" y="104.05" width="2.23" height="5.08" fill="#e8def2"/><rect x="36.8" y="108.83" width="2.23" height="5.08" fill="#070508"/><rect x="38.73" y="108.83" width="2.23" height="5.08" fill="#09060a"/><rect x="40.67" y="108.83" width="2.23" height="5.08" fill="#0a070c"/><rect x="42.6" y="108.83" width="2.23" height="5.08" fill="#0c080d"/><rect x="44.53" y="108.83" width="2.23" height="5.08" fill="#0d090f"/><rect x="46.46" y="108.83" width="2.23" height="5.08" fill="#0e0911"/><rect x="48.4" y="108.83" width="2.23" height="5.08" fill="#100a13"/><rect x="50.33" y="108.83" width="2.23" height="5.08" fill="#110b15"/><rect x="52.26" y="108.83" width="2.23" height="5.08" fill="#130c16"/><rect x="54.2" y="108.83" width="2.23" height="5.08" fill="#140d18"/><rect x="56.13" y="108.83" width="2.23" height="5.08" fill="#150d1a"/><rect x="58.06" y="108.83" width="2.23" height="5.08" fill="#170e1c"/><rect x="59.99" y="108.83" width="2.23" height="5.08" fill="#180f1e"/><rect x="61.93" y="108.83" width="2.23" height="5.08" fill="#1a101f"/><rect x="63.86" y="108.83" width="2.23" height="5.08" fill="#1b1021"/><rect x="65.79" y="108.83" width="2.23" height="5.08" fill="#301f42"/><rect x="67.72" y="108.83" width="2.23" height="5.08" fill="#322044"/><rect x="69.66" y="108.83" width="2.23" height="5.08" fill="#342247"/><rect x="71.59" y="108.83" width="2.23" height="5.08" fill="#352349"/><rect x="73.52" y="108.83" width="2.23" height="5.08" fill="#38254c"/><rect x="75.46" y="108.83" width="2.23" height="5.08" fill="#3a2650"/><rect x="77.39" y="108.83" width="2.23" height="5.08" fill="#c095e4"/><rect x="79.32" y="108.83" width="2.23" height="5.08" fill="#c196e4"/><rect x="81.25" y="108.83" width="2.23" height="5.08" fill="#c298e5"/><rect x="83.19" y="108.83" width="2.23" height="5.08" fill="#c39ae6"/><rect x="85.12" y="108.83" width="2.23" height="5.08" fill="#c49be6"/><rect x="87.05" y="108.83" width="2.23" height="5.08" fill="#c59ce6"/><rect x="88.99" y="108.83" width="2.23" height="5.08" fill="#c69ee7"/><rect x="90.92" y="108.83" width="2.23" height="5.08" fill="#c79fe8"/><rect x="92.85" y="108.83" width="2.23" height="5.08" fill="#c8a0e8"/><rect x="94.78" y="108.83" width="2.23" height="5.08" fill="#c9a2e8"/><rect x="96.72" y="108.83" width="2.23" height="5.08" fill="#e8def2"/><rect x="98.65" y="108.83" width="2.23" height="5.08" fill="#e8dff2"/><rect x="100.58" y="108.83" width="2.23" height="5.08" fill="#e9dff2"/><rect x="102.51" y="108.83" width="2.23" height="5.08" fill="#e9e0f2"/><rect x="104.45" y="108.83" width="2.23" height="5.08" fill="#eae0f2"/><rect x="106.38" y="108.83" width="2.23" height="5.08" fill="#eae1f2"/><rect x="108.31" y="108.83" width="2.23" height="5.08" fill="#ebe1f2"/><rect x="110.25" y="108.83" width="4.17" height="5.08" fill="#ebe2f2"/><rect x="114.11" y="108.83" width="2.23" height="5.08" fill="#ece3f2"/><rect x="116.04" y="108.83" width="2.23" height="5.08" fill="#ece4f2"/><rect x="117.98" y="108.83" width="2.23" height="5.08" fill="#ede4f2"/><rect x="119.91" y="108.83" width="4.17" height="5.08" fill="#ede5f2"/><rect x="123.78" y="108.83" width="4.17" height="5.08" fill="#eee6f2"/><rect x="127.64" y="108.83" width="4.17" height="5.08" fill="#eee7f2"/><rect x="131.51" y="108.83" width="6.1" height="5.08" fill="#efe8f2"/><rect x="137.3" y="108.83" width="2.23" height="5.08" fill="#efe9f2"/><rect x="139.24" y="108.83" width="2.23" height="5.08" fill="#efe9f3"/><rect x="141.17" y="108.83" width="4.17" height="5.08" fill="#efeaf3"/><rect x="145.04" y="108.83" width="2.23" height="5.08" fill="#f0eaf3"/><rect x="146.97" y="108.83" width="4.17" height="5.08" fill="#f0ebf3"/><rect x="150.83" y="108.83" width="4.17" height="5.08" fill="#f0ecf3"/></g>
<line x1="31.9" y1="25.26" x2="36.8" y2="25.26" stroke="#111111" stroke-width="1.15"/>
<text x="27.8" y="27.86" font-size="8" font-family='"Liberation Serif", serif' fill="#222222" text-anchor="end" textLength="10.2" lengthAdjust="spacingAndGlyphs" stroke="#222" stroke-width="0.25">1.9</text>
<line x1="31.9" y1="34.81" x2="36.8" y2="34.81" stroke="#111111" stroke-width="1.15"/>
<text x="27.8" y="37.41" font-size="8" font-family='"Liberation Serif", serif' fill="#222222" text-anchor="end" textLength="10.2" lengthAdjust="spacingAndGlyphs" stroke="#222" stroke-width="0.25">1.7</text>
<line x1="31.9" y1="44.36" x2="36.8" y2="44.36" stroke="#111111" stroke-width="1.15"/>
<text x="27.8" y="46.96" font-size="8" font-family='"Liberation Serif", serif' fill="#222222" text-anchor="end" textLength="10.2" lengthAdjust="spacingAndGlyphs" stroke="#222" stroke-width="0.25">1.5</text>
<line x1="31.9" y1="53.91" x2="36.8" y2="53.91" stroke="#111111" stroke-width="1.15"/>
<text x="27.8" y="56.51" font-size="8" font-family='"Liberation Serif", serif' fill="#222222" text-anchor="end" textLength="10.2" lengthAdjust="spacingAndGlyphs" stroke="#222" stroke-width="0.25">1.3</text>
<line x1="31.9" y1="63.46" x2="36.8" y2="63.46" stroke="#111111" stroke-width="1.15"/>
<text x="27.8" y="66.06" font-size="8" font-family='"Liberation Serif", serif' fill="#222222" text-anchor="end" textLength="10.2" lengthAdjust="spacingAndGlyphs" stroke="#222" stroke-width="0.25">1.1</text>
<line x1="31.9" y1="73.01" x2="36.8" y2="73.01" stroke="#111111" stroke-width="1.15"/>
<text x="27.8" y="75.61" font-size="8" font-family='"Liberation Serif", serif' fill="#222222" text-anchor="end" textLength="10.2" lengthAdjust="spacingAndGlyphs" stroke="#222" stroke-width="0.25">0.9</text>
<line x1="31.9" y1="82.56" x2="36.8" y2="82.56" stroke="#111111" stroke-width="1.15"/>
<text x="27.8" y="85.16" font-size="8" font-family='"Liberation Serif", serif' fill="#222222" text-anchor="end" textLength="10.2" lengthAdjust="spacingAndGlyphs" stroke="#222" stroke-width="0.25">0.7</text>
<line x1="31.9" y1="92.11" x2="36.8" y2="92.11" stroke="#111111" stroke-width="1.15"/>
<text x="27.8" y="94.71" font-size="8" font-family='"Liberation Serif", serif' fill="#222222" text-anchor="end" textLength="10.2" lengthAdjust="spacingAndGlyphs" stroke="#222" stroke-width="0.25">0.5</text>
<line x1="31.9" y1="101.66" x2="36.8" y2="101.66" stroke="#111111" stroke-width="1.15"/>
<text x="27.8" y="104.26" font-size="8" font-family='"Liberation Serif", serif' fill="#222222" text-anchor="end" textLength="10.2" lengthAdjust="spacingAndGlyphs" stroke="#222" stroke-width="0.25">0.3</text>
<line x1="31.9" y1="111.21" x2="36.8" y2="111.21" stroke="#111111" stroke-width="1.15"/>
<text x="27.8" y="113.81" font-size="8" font-family='"Liberation Serif", serif' fill="#222222" text-anchor="end" textLength="10.2" lengthAdjust="spacingAndGlyphs" stroke="#222" stroke-width="0.25">0.1</text>
<path d="M12.6,57.3 C12.1,59.5 11,61.9 11.2,62.6 C11.5,63.3 13.2,62.9 14.4,61.6" fill="none" stroke="#111111" stroke-width="0.95" stroke-linecap="round"/>
<line x1="37.52" y1="113.6" x2="37.52" y2="118.5" stroke="#111111" stroke-width="1.15"/>
<text x="0" y="0" transform="translate(40.12,123.7) rotate(-90)" font-size="8" font-family='"Liberation Serif", serif' fill="#222222" text-anchor="end" textLength="10.3" lengthAdjust="spacingAndGlyphs" stroke="#222" stroke-width="0.25">0.9</text>
<line x1="47.18" y1="113.6" x2="47.18" y2="118.5" stroke="#111111" stroke-width="1.15"/>
<text x="0" y="0" transform="translate(49.78,123.7) rotate(-90)" font-size="8" font-family='"Liberation Serif", serif' fill="#222222" text-anchor="end" textLength="14.3" lengthAdjust="spacingAndGlyphs" stroke="#222" stroke-width="0.25">0.95</text>
<line x1="56.84" y1="113.6" x2="56.84" y2="118.5" stroke="#111111" stroke-width="1.15"/>
<text x="0" y="0" transform="translate(59.44,123.7) rotate(-90)" font-size="8" font-family='"Liberation Serif", serif' fill="#222222" text-anchor="end" textLength="10.3" lengthAdjust="spacingAndGlyphs" stroke="#222" stroke-width="0.25">1.0</text>
<line x1="66.51" y1="113.6" x2="66.51" y2="118.5" stroke="#111111" stroke-width="1.15"/>
<text x="0" y="0" transform="translate(69.11,123.7) rotate(-90)" font-size="8" font-family='"Liberation Serif", serif' fill="#222222" text-anchor="end" textLength="14.3" lengthAdjust="spacingAndGlyphs" stroke="#222" stroke-width="0.25">1.05</text>
<line x1="76.17" y1="113.6" x2="76.17" y2="118.5" stroke="#111111" stroke-width="1.15"/>
<text x="0" y="0" transform="translate(78.77,123.7) rotate(-90)" font-size="8" font-family='"Liberation Serif", serif' fill="#222222" text-anchor="end" textLength="10.3" lengthAdjust="spacingAndGlyphs" stroke="#222" stroke-width="0.25">1.1</text>
<line x1="85.84" y1="113.6" x2="85.84" y2="118.5" stroke="#111111" stroke-width="1.15"/>
<text x="0" y="0" transform="translate(88.44,123.7) rotate(-90)" font-size="8" font-family='"Liberation Serif", serif' fill="#222222" text-anchor="end" textLength="14.3" lengthAdjust="spacingAndGlyphs" stroke="#222" stroke-width="0.25">1.15</text>
<line x1="95.5" y1="113.6" x2="95.5" y2="118.5" stroke="#111111" stroke-width="1.15"/>
<text x="0" y="0" transform="translate(98.1,123.7) rotate(-90)" font-size="8" font-family='"Liberation Serif", serif' fill="#222222" text-anchor="end" textLength="10.3" lengthAdjust="spacingAndGlyphs" stroke="#222" stroke-width="0.25">1.2</text>
<line x1="105.16" y1="113.6" x2="105.16" y2="118.5" stroke="#111111" stroke-width="1.15"/>
<text x="0" y="0" transform="translate(107.76,123.7) rotate(-90)" font-size="8" font-family='"Liberation Serif", serif' fill="#222222" text-anchor="end" textLength="14.3" lengthAdjust="spacingAndGlyphs" stroke="#222" stroke-width="0.25">1.25</text>
<line x1="114.83" y1="113.6" x2="114.83" y2="118.5" stroke="#111111" stroke-width="1.15"/>
<text x="0" y="0" transform="translate(117.43,123.7) rotate(-90)" font-size="8" font-family='"Liberation Serif", serif' fill="#222222" text-anchor="end" textLength="10.3" lengthAdjust="spacingAndGlyphs" stroke="#222" stroke-width="0.25">1.3</text>
<line x1="124.49" y1="113.6" x2="124.49" y2="118.5" stroke="#111111" stroke-width="1.15"/>
<text x="0" y="0" transform="translate(127.09,123.7) rotate(-90)" font-size="8" font-family='"Liberation Serif", serif' fill="#222222" text-anchor="end" textLength="14.3" lengthAdjust="spacingAndGlyphs" stroke="#222" stroke-width="0.25">1.35</text>
<line x1="134.16" y1="113.6" x2="134.16" y2="118.5" stroke="#111111" stroke-width="1.15"/>
<text x="0" y="0" transform="translate(136.76,123.7) rotate(-90)" font-size="8" font-family='"Liberation Serif", serif' fill="#222222" text-anchor="end" textLength="10.3" lengthAdjust="spacingAndGlyphs" stroke="#222" stroke-width="0.25">1.4</text>
<line x1="143.82" y1="113.6" x2="143.82" y2="118.5" stroke="#111111" stroke-width="1.15"/>
<text x="0" y="0" transform="translate(146.42,123.7) rotate(-90)" font-size="8" font-family='"Liberation Serif", serif' fill="#222222" text-anchor="end" textLength="14.3" lengthAdjust="spacingAndGlyphs" stroke="#222" stroke-width="0.25">1.45</text>
<line x1="153.48" y1="113.6" x2="153.48" y2="118.5" stroke="#111111" stroke-width="1.15"/>
<text x="0" y="0" transform="translate(156.08,123.7) rotate(-90)" font-size="8" font-family='"Liberation Serif", serif' fill="#222222" text-anchor="end" textLength="10.3" lengthAdjust="spacingAndGlyphs" stroke="#222" stroke-width="0.25">1.5</text>
<ellipse cx="97" cy="150.5" rx="2.55" ry="3.15" transform="rotate(25 97 150.5)" fill="none" stroke="#111111" stroke-width="1.0"/>
<path d="M94.4,149.9 L92.5,157.3" fill="none" stroke="#111111" stroke-width="1.15" stroke-linecap="round"/>
<path d="M37.6,141 L40.25,146.8 L39,146.8 L39,155.6 L36.2,155.6 L36.2,146.8 L34.95,146.8 Z" fill="none" stroke="#ee6a5c" stroke-width="1.2" stroke-linejoin="miter"/>
<path d="M82.1,141 L84.75,146.8 L83.5,146.8 L83.5,155.6 L80.7,155.6 L80.7,146.8 L79.45,146.8 Z" fill="none" stroke="#45a8db" stroke-width="1.2" stroke-linejoin="miter"/>
<defs><linearGradient id="g161" x1="0" y1="1" x2="0" y2="0"><stop offset="0.04" stop-color="#f0ecf3"/><stop offset="0.06" stop-color="#eee6f2"/><stop offset="0.08" stop-color="#e8def2"/><stop offset="0.1" stop-color="#e4d6f0"/><stop offset="0.12" stop-color="#dccaf0"/><stop offset="0.14" stop-color="#d4b8ee"/><stop offset="0.2" stop-color="#c8a0e8"/><stop offset="0.22" stop-color="#c49be6"/><stop offset="0.24" stop-color="#c095e4"/><stop offset="0.26" stop-color="#b48ad8"/><stop offset="0.33" stop-color="#a080c8"/><stop offset="0.35" stop-color="#9673bb"/><stop offset="0.41" stop-color="#8a68b0"/><stop offset="0.43" stop-color="#7a5aa0"/><stop offset="0.49" stop-color="#6a5088"/><stop offset="0.54" stop-color="#5a4275"/><stop offset="0.6" stop-color="#4a3562"/><stop offset="0.62" stop-color="#44305c"/><stop offset="0.66" stop-color="#3e2a56"/><stop offset="0.68" stop-color="#3a2650"/><stop offset="0.7" stop-color="#36244a"/><stop offset="0.79" stop-color="#2a1a3a"/><stop offset="0.85" stop-color="#201428"/><stop offset="0.89" stop-color="#1a1020"/><stop offset="0.98" stop-color="#050405"/><stop offset="1" stop-color="#020203"/></linearGradient></defs>
<rect x="161.8" y="18.2" width="5" height="95.6" fill="url(#g161)"/>
<line x1="166.7" y1="96.47" x2="174.1" y2="96.47" stroke="#111111" stroke-width="1.2"/>
<text x="179" y="99.17" font-size="8" font-family='"Liberation Serif", serif' fill="#222222" textLength="9.2" lengthAdjust="spacingAndGlyphs">10</text>
<line x1="166.7" y1="76.56" x2="174.1" y2="76.56" stroke="#111111" stroke-width="1.2"/>
<text x="179" y="79.26" font-size="8" font-family='"Liberation Serif", serif' fill="#222222" textLength="9.2" lengthAdjust="spacingAndGlyphs">20</text>
<line x1="166.7" y1="56.64" x2="174.1" y2="56.64" stroke="#111111" stroke-width="1.2"/>
<text x="179" y="59.34" font-size="8" font-family='"Liberation Serif", serif' fill="#222222" textLength="9.2" lengthAdjust="spacingAndGlyphs">30</text>
<line x1="166.7" y1="36.72" x2="174.1" y2="36.72" stroke="#111111" stroke-width="1.2"/>
<text x="179" y="39.42" font-size="8" font-family='"Liberation Serif", serif' fill="#222222" textLength="9.2" lengthAdjust="spacingAndGlyphs">40</text>
<text x="0" y="0" transform="translate(203.8,66.2) rotate(-90)" font-size="13.4" font-family='"Liberation Sans", sans-serif' fill="#262626" text-anchor="middle" textLength="50.5" lengthAdjust="spacingAndGlyphs">capacity</text>
<text x="215.4" y="15.8" font-size="20.5" font-family='"Liberation Sans", sans-serif' fill="#111111" textLength="13" lengthAdjust="spacingAndGlyphs">B</text>
<text x="312.45" y="10.6" font-size="13.4" font-family='"Liberation Sans", sans-serif' fill="#262626" text-anchor="middle" textLength="111.8" lengthAdjust="spacingAndGlyphs">maximum degrees</text>
<g shape-rendering="crispEdges"><rect x="253.5" y="18.1" width="2.23" height="5.08" fill="#122b1d"/><rect x="255.43" y="18.1" width="4.17" height="5.08" fill="#060d09"/><rect x="259.3" y="18.1" width="2.23" height="5.08" fill="#122b1d"/><rect x="261.23" y="18.1" width="2.23" height="5.08" fill="#060d09"/><rect x="263.16" y="18.1" width="6.1" height="5.08" fill="#122b1d"/><rect x="268.96" y="18.1" width="2.23" height="5.08" fill="#060d09"/><rect x="270.9" y="18.1" width="6.1" height="5.08" fill="#122b1d"/><rect x="276.69" y="18.1" width="4.17" height="5.08" fill="#1f4a33"/><rect x="280.56" y="18.1" width="2.23" height="5.08" fill="#122b1d"/><rect x="282.49" y="18.1" width="4.17" height="5.08" fill="#1f4a33"/><rect x="286.36" y="18.1" width="6.1" height="5.08" fill="#122b1d"/><rect x="292.16" y="18.1" width="2.23" height="5.08" fill="#1f4a33"/><rect x="294.09" y="18.1" width="2.23" height="5.08" fill="#122b1d"/><rect x="296.02" y="18.1" width="23.49" height="5.08" fill="#1f4a33"/><rect x="319.21" y="18.1" width="4.17" height="5.08" fill="#2c6c4a"/><rect x="323.08" y="18.1" width="2.23" height="5.08" fill="#3a8a5c"/><rect x="325.01" y="18.1" width="2.23" height="5.08" fill="#1f4a33"/><rect x="326.95" y="18.1" width="9.96" height="5.08" fill="#2c6c4a"/><rect x="336.61" y="18.1" width="6.1" height="5.08" fill="#3a8a5c"/><rect x="342.41" y="18.1" width="8.03" height="5.08" fill="#2c6c4a"/><rect x="350.14" y="18.1" width="2.23" height="5.08" fill="#3a8a5c"/><rect x="352.07" y="18.1" width="2.23" height="5.08" fill="#2c6c4a"/><rect x="354" y="18.1" width="15.76" height="5.08" fill="#3a8a5c"/><rect x="369.47" y="18.1" width="2.23" height="5.08" fill="#2c6c4a"/><rect x="253.5" y="22.88" width="6.1" height="5.08" fill="#122b1d"/><rect x="259.3" y="22.88" width="2.23" height="5.08" fill="#1f4a33"/><rect x="261.23" y="22.88" width="2.23" height="5.08" fill="#122b1d"/><rect x="263.16" y="22.88" width="4.17" height="5.08" fill="#1f4a33"/><rect x="267.03" y="22.88" width="2.23" height="5.08" fill="#122b1d"/><rect x="268.96" y="22.88" width="9.96" height="5.08" fill="#1f4a33"/><rect x="278.63" y="22.88" width="2.23" height="5.08" fill="#122b1d"/><rect x="280.56" y="22.88" width="13.83" height="5.08" fill="#1f4a33"/><rect x="294.09" y="22.88" width="2.23" height="5.08" fill="#2c6c4a"/><rect x="296.02" y="22.88" width="6.1" height="5.08" fill="#1f4a33"/><rect x="301.82" y="22.88" width="2.23" height="5.08" fill="#2c6c4a"/><rect x="303.75" y="22.88" width="2.23" height="5.08" fill="#1f4a33"/><rect x="305.69" y="22.88" width="4.17" height="5.08" fill="#2c6c4a"/><rect x="309.55" y="22.88" width="2.23" height="5.08" fill="#1f4a33"/><rect x="311.48" y="22.88" width="8.03" height="5.08" fill="#2c6c4a"/><rect x="319.21" y="22.88" width="2.23" height="5.08" fill="#3a8a5c"/><rect x="321.15" y="22.88" width="2.23" height="5.08" fill="#2c6c4a"/><rect x="323.08" y="22.88" width="4.17" height="5.08" fill="#3a8a5c"/><rect x="326.95" y="22.88" width="2.23" height="5.08" fill="#2c6c4a"/><rect x="328.88" y="22.88" width="4.17" height="5.08" fill="#3a8a5c"/><rect x="332.74" y="22.88" width="2.23" height="5.08" fill="#2c6c4a"/><rect x="334.68" y="22.88" width="9.96" height="5.08" fill="#3a8a5c"/><rect x="344.34" y="22.88" width="2.23" height="5.08" fill="#2c6c4a"/><rect x="346.27" y="22.88" width="6.1" height="5.08" fill="#3a8a5c"/><rect x="352.07" y="22.88" width="2.23" height="5.08" fill="#2c6c4a"/><rect x="354" y="22.88" width="2.23" height="5.08" fill="#3a8a5c"/><rect x="355.94" y="22.88" width="2.23" height="5.08" fill="#4da570"/><rect x="357.87" y="22.88" width="2.23" height="5.08" fill="#2c6c4a"/><rect x="359.8" y="22.88" width="2.23" height="5.08" fill="#3a8a5c"/><rect x="361.74" y="22.88" width="2.23" height="5.08" fill="#4da570"/><rect x="363.67" y="22.88" width="8.03" height="5.08" fill="#3a8a5c"/><rect x="253.5" y="27.65" width="23.49" height="5.08" fill="#1f4a33"/><rect x="276.69" y="27.65" width="2.23" height="5.08" fill="#2c6c4a"/><rect x="278.63" y="27.65" width="4.17" height="5.08" fill="#1f4a33"/><rect x="282.49" y="27.65" width="2.23" height="5.08" fill="#2c6c4a"/><rect x="284.42" y="27.65" width="9.96" height="5.08" fill="#1f4a33"/><rect x="294.09" y="27.65" width="15.76" height="5.08" fill="#2c6c4a"/><rect x="309.55" y="27.65" width="2.23" height="5.08" fill="#3a8a5c"/><rect x="311.48" y="27.65" width="2.23" height="5.08" fill="#2c6c4a"/><rect x="313.42" y="27.65" width="4.17" height="5.08" fill="#3a8a5c"/><rect x="317.28" y="27.65" width="4.17" height="5.08" fill="#2c6c4a"/><rect x="321.15" y="27.65" width="9.96" height="5.08" fill="#3a8a5c"/><rect x="330.81" y="27.65" width="2.23" height="5.08" fill="#2c6c4a"/><rect x="332.74" y="27.65" width="11.9" height="5.08" fill="#3a8a5c"/><rect x="344.34" y="27.65" width="2.23" height="5.08" fill="#4da570"/><rect x="346.27" y="27.65" width="4.17" height="5.08" fill="#3a8a5c"/><rect x="350.14" y="27.65" width="2.23" height="5.08" fill="#4da570"/><rect x="352.07" y="27.65" width="2.23" height="5.08" fill="#3a8a5c"/><rect x="354" y="27.65" width="4.17" height="5.08" fill="#4da570"/><rect x="357.87" y="27.65" width="2.23" height="5.08" fill="#3a8a5c"/><rect x="359.8" y="27.65" width="4.17" height="5.08" fill="#4da570"/><rect x="363.67" y="27.65" width="2.23" height="5.08" fill="#3a8a5c"/><rect x="365.6" y="27.65" width="6.1" height="5.08" fill="#4da570"/><rect x="253.5" y="32.43" width="13.83" height="5.08" fill="#1f4a33"/><rect x="267.03" y="32.43" width="2.23" height="5.08" fill="#2c6c4a"/><rect x="268.96" y="32.43" width="13.83" height="5.08" fill="#1f4a33"/><rect x="282.49" y="32.43" width="15.76" height="5.08" fill="#2c6c4a"/><rect x="297.95" y="32.43" width="4.17" height="5.08" fill="#3a8a5c"/><rect x="301.82" y="32.43" width="4.17" height="5.08" fill="#2c6c4a"/><rect x="305.69" y="32.43" width="8.03" height="5.08" fill="#3a8a5c"/><rect x="313.42" y="32.43" width="2.23" height="5.08" fill="#4da570"/><rect x="315.35" y="32.43" width="19.63" height="5.08" fill="#3a8a5c"/><rect x="334.68" y="32.43" width="11.9" height="5.08" fill="#4da570"/><rect x="346.27" y="32.43" width="2.23" height="5.08" fill="#3a8a5c"/><rect x="348.21" y="32.43" width="21.56" height="5.08" fill="#4da570"/><rect x="369.47" y="32.43" width="2.23" height="5.08" fill="#72c48c"/><rect x="253.5" y="37.2" width="9.96" height="5.08" fill="#1f4a33"/><rect x="263.16" y="37.2" width="2.23" height="5.08" fill="#2c6c4a"/><rect x="265.1" y="37.2" width="4.17" height="5.08" fill="#1f4a33"/><rect x="268.96" y="37.2" width="4.17" height="5.08" fill="#2c6c4a"/><rect x="272.83" y="37.2" width="2.23" height="5.08" fill="#1f4a33"/><rect x="274.76" y="37.2" width="6.1" height="5.08" fill="#2c6c4a"/><rect x="280.56" y="37.2" width="4.17" height="5.08" fill="#3a8a5c"/><rect x="284.42" y="37.2" width="8.03" height="5.08" fill="#2c6c4a"/><rect x="292.16" y="37.2" width="4.17" height="5.08" fill="#3a8a5c"/><rect x="296.02" y="37.2" width="2.23" height="5.08" fill="#2c6c4a"/><rect x="297.95" y="37.2" width="4.17" height="5.08" fill="#3a8a5c"/><rect x="301.82" y="37.2" width="2.23" height="5.08" fill="#4da570"/><rect x="303.75" y="37.2" width="11.9" height="5.08" fill="#3a8a5c"/><rect x="315.35" y="37.2" width="2.23" height="5.08" fill="#4da570"/><rect x="317.28" y="37.2" width="6.1" height="5.08" fill="#3a8a5c"/><rect x="323.08" y="37.2" width="2.23" height="5.08" fill="#4da570"/><rect x="325.01" y="37.2" width="2.23" height="5.08" fill="#3a8a5c"/><rect x="326.95" y="37.2" width="2.23" height="5.08" fill="#4da570"/><rect x="328.88" y="37.2" width="2.23" height="5.08" fill="#3a8a5c"/><rect x="330.81" y="37.2" width="11.9" height="5.08" fill="#4da570"/><rect x="342.41" y="37.2" width="2.23" height="5.08" fill="#72c48c"/><rect x="344.34" y="37.2" width="6.1" height="5.08" fill="#4da570"/><rect x="350.14" y="37.2" width="2.23" height="5.08" fill="#3a8a5c"/><rect x="352.07" y="37.2" width="4.17" height="5.08" fill="#4da570"/><rect x="355.94" y="37.2" width="2.23" height="5.08" fill="#72c48c"/><rect x="357.87" y="37.2" width="13.83" height="5.08" fill="#4da570"/><rect x="253.5" y="41.98" width="4.17" height="5.08" fill="#2c6c4a"/><rect x="257.37" y="41.98" width="2.23" height="5.08" fill="#1f4a33"/><rect x="259.3" y="41.98" width="21.56" height="5.08" fill="#2c6c4a"/><rect x="280.56" y="41.98" width="2.23" height="5.08" fill="#4da570"/><rect x="282.49" y="41.98" width="8.03" height="5.08" fill="#3a8a5c"/><rect x="290.22" y="41.98" width="2.23" height="5.08" fill="#2c6c4a"/><rect x="292.16" y="41.98" width="13.83" height="5.08" fill="#3a8a5c"/><rect x="305.69" y="41.98" width="6.1" height="5.08" fill="#4da570"/><rect x="311.48" y="41.98" width="4.17" height="5.08" fill="#3a8a5c"/><rect x="315.35" y="41.98" width="2.23" height="5.08" fill="#4da570"/><rect x="317.28" y="41.98" width="2.23" height="5.08" fill="#3a8a5c"/><rect x="319.21" y="41.98" width="4.17" height="5.08" fill="#4da570"/><rect x="323.08" y="41.98" width="2.23" height="5.08" fill="#3a8a5c"/><rect x="325.01" y="41.98" width="6.1" height="5.08" fill="#4da570"/><rect x="330.81" y="41.98" width="2.23" height="5.08" fill="#3a8a5c"/><rect x="332.74" y="41.98" width="19.63" height="5.08" fill="#4da570"/><rect x="352.07" y="41.98" width="8.03" height="5.08" fill="#72c48c"/><rect x="359.8" y="41.98" width="2.23" height="5.08" fill="#4da570"/><rect x="361.74" y="41.98" width="9.96" height="5.08" fill="#72c48c"/><rect x="253.5" y="46.75" width="8.03" height="5.08" fill="#2c6c4a"/><rect x="261.23" y="46.75" width="19.63" height="5.08" fill="#3a8a5c"/><rect x="280.56" y="46.75" width="2.23" height="5.08" fill="#4da570"/><rect x="282.49" y="46.75" width="4.17" height="5.08" fill="#3a8a5c"/><rect x="286.36" y="46.75" width="2.23" height="5.08" fill="#4da570"/><rect x="288.29" y="46.75" width="4.17" height="5.08" fill="#3a8a5c"/><rect x="292.16" y="46.75" width="11.9" height="5.08" fill="#4da570"/><rect x="303.75" y="46.75" width="2.23" height="5.08" fill="#3a8a5c"/><rect x="305.69" y="46.75" width="6.1" height="5.08" fill="#4da570"/><rect x="311.48" y="46.75" width="2.23" height="5.08" fill="#3a8a5c"/><rect x="313.42" y="46.75" width="8.03" height="5.08" fill="#4da570"/><rect x="321.15" y="46.75" width="2.23" height="5.08" fill="#3a8a5c"/><rect x="323.08" y="46.75" width="6.1" height="5.08" fill="#4da570"/><rect x="328.88" y="46.75" width="6.1" height="5.08" fill="#72c48c"/><rect x="334.68" y="46.75" width="6.1" height="5.08" fill="#4da570"/><rect x="340.48" y="46.75" width="2.23" height="5.08" fill="#72c48c"/><rect x="342.41" y="46.75" width="4.17" height="5.08" fill="#4da570"/><rect x="346.27" y="46.75" width="9.96" height="5.08" fill="#72c48c"/><rect x="355.94" y="46.75" width="2.23" height="5.08" fill="#90d0a4"/><rect x="357.87" y="46.75" width="2.23" height="5.08" fill="#4da570"/><rect x="359.8" y="46.75" width="11.9" height="5.08" fill="#72c48c"/><rect x="253.5" y="51.53" width="6.1" height="5.08" fill="#3a8a5c"/><rect x="259.3" y="51.53" width="2.23" height="5.08" fill="#4da570"/><rect x="261.23" y="51.53" width="2.23" height="5.08" fill="#3a8a5c"/><rect x="263.16" y="51.53" width="2.23" height="5.08" fill="#4da570"/><rect x="265.1" y="51.53" width="11.9" height="5.08" fill="#3a8a5c"/><rect x="276.69" y="51.53" width="2.23" height="5.08" fill="#72c48c"/><rect x="278.63" y="51.53" width="6.1" height="5.08" fill="#4da570"/><rect x="284.42" y="51.53" width="2.23" height="5.08" fill="#3a8a5c"/><rect x="286.36" y="51.53" width="25.43" height="5.08" fill="#4da570"/><rect x="311.48" y="51.53" width="2.23" height="5.08" fill="#3a8a5c"/><rect x="313.42" y="51.53" width="6.1" height="5.08" fill="#4da570"/><rect x="319.21" y="51.53" width="2.23" height="5.08" fill="#72c48c"/><rect x="321.15" y="51.53" width="8.03" height="5.08" fill="#4da570"/><rect x="328.88" y="51.53" width="2.23" height="5.08" fill="#72c48c"/><rect x="330.81" y="51.53" width="2.23" height="5.08" fill="#4da570"/><rect x="332.74" y="51.53" width="6.1" height="5.08" fill="#72c48c"/><rect x="338.54" y="51.53" width="2.23" height="5.08" fill="#4da570"/><rect x="340.48" y="51.53" width="31.22" height="5.08" fill="#72c48c"/><rect x="253.5" y="56.3" width="2.23" height="5.08" fill="#4da570"/><rect x="255.43" y="56.3" width="4.17" height="5.08" fill="#3a8a5c"/><rect x="259.3" y="56.3" width="2.23" height="5.08" fill="#4da570"/><rect x="261.23" y="56.3" width="2.23" height="5.08" fill="#3a8a5c"/><rect x="263.16" y="56.3" width="2.23" height="5.08" fill="#4da570"/><rect x="265.1" y="56.3" width="2.23" height="5.08" fill="#3a8a5c"/><rect x="267.03" y="56.3" width="2.23" height="5.08" fill="#4da570"/><rect x="268.96" y="56.3" width="2.23" height="5.08" fill="#3a8a5c"/><rect x="270.9" y="56.3" width="17.7" height="5.08" fill="#4da570"/><rect x="288.29" y="56.3" width="2.23" height="5.08" fill="#72c48c"/><rect x="290.22" y="56.3" width="2.23" height="5.08" fill="#3a8a5c"/><rect x="292.16" y="56.3" width="4.17" height="5.08" fill="#4da570"/><rect x="296.02" y="56.3" width="4.17" height="5.08" fill="#72c48c"/><rect x="299.89" y="56.3" width="2.23" height="5.08" fill="#4da570"/><rect x="301.82" y="56.3" width="4.17" height="5.08" fill="#72c48c"/><rect x="305.69" y="56.3" width="2.23" height="5.08" fill="#4da570"/><rect x="307.62" y="56.3" width="2.23" height="5.08" fill="#72c48c"/><rect x="309.55" y="56.3" width="4.17" height="5.08" fill="#4da570"/><rect x="313.42" y="56.3" width="4.17" height="5.08" fill="#72c48c"/><rect x="317.28" y="56.3" width="2.23" height="5.08" fill="#4da570"/><rect x="319.21" y="56.3" width="4.17" height="5.08" fill="#72c48c"/><rect x="323.08" y="56.3" width="4.17" height="5.08" fill="#4da570"/><rect x="326.95" y="56.3" width="15.76" height="5.08" fill="#72c48c"/><rect x="342.41" y="56.3" width="2.23" height="5.08" fill="#90d0a4"/><rect x="344.34" y="56.3" width="11.9" height="5.08" fill="#72c48c"/><rect x="355.94" y="56.3" width="4.17" height="5.08" fill="#90d0a4"/><rect x="359.8" y="56.3" width="4.17" height="5.08" fill="#72c48c"/><rect x="363.67" y="56.3" width="2.23" height="5.08" fill="#90d0a4"/><rect x="365.6" y="56.3" width="4.17" height="5.08" fill="#72c48c"/><rect x="369.47" y="56.3" width="2.23" height="5.08" fill="#90d0a4"/><rect x="253.5" y="61.08" width="2.23" height="5.08" fill="#3a8a5c"/><rect x="255.43" y="61.08" width="2.23" height="5.08" fill="#4da570"/><rect x="257.37" y="61.08" width="2.23" height="5.08" fill="#3a8a5c"/><rect x="259.3" y="61.08" width="11.9" height="5.08" fill="#4da570"/><rect x="270.9" y="61.08" width="4.17" height="5.08" fill="#72c48c"/><rect x="274.76" y="61.08" width="8.03" height="5.08" fill="#4da570"/><rect x="282.49" y="61.08" width="2.23" height="5.08" fill="#72c48c"/><rect x="284.42" y="61.08" width="2.23" height="5.08" fill="#3a8a5c"/><rect x="286.36" y="61.08" width="6.1" height="5.08" fill="#4da570"/><rect x="292.16" y="61.08" width="9.96" height="5.08" fill="#72c48c"/><rect x="301.82" y="61.08" width="2.23" height="5.08" fill="#4da570"/><rect x="303.75" y="61.08" width="11.9" height="5.08" fill="#72c48c"/><rect x="315.35" y="61.08" width="2.23" height="5.08" fill="#4da570"/><rect x="317.28" y="61.08" width="11.9" height="5.08" fill="#72c48c"/><rect x="328.88" y="61.08" width="2.23" height="5.08" fill="#90d0a4"/><rect x="330.81" y="61.08" width="17.7" height="5.08" fill="#72c48c"/><rect x="348.21" y="61.08" width="6.1" height="5.08" fill="#90d0a4"/><rect x="354" y="61.08" width="2.23" height="5.08" fill="#72c48c"/><rect x="355.94" y="61.08" width="4.17" height="5.08" fill="#90d0a4"/><rect x="359.8" y="61.08" width="6.1" height="5.08" fill="#72c48c"/><rect x="365.6" y="61.08" width="6.1" height="5.08" fill="#90d0a4"/><rect x="253.5" y="65.85" width="6.1" height="5.08" fill="#4da570"/><rect x="259.3" y="65.85" width="2.23" height="5.08" fill="#72c48c"/><rect x="261.23" y="65.85" width="9.96" height="5.08" fill="#4da570"/><rect x="270.9" y="65.85" width="2.23" height="5.08" fill="#72c48c"/><rect x="272.83" y="65.85" width="2.23" height="5.08" fill="#4da570"/><rect x="274.76" y="65.85" width="2.23" height="5.08" fill="#72c48c"/><rect x="276.69" y="65.85" width="2.23" height="5.08" fill="#4da570"/><rect x="278.63" y="65.85" width="62.15" height="5.08" fill="#72c48c"/><rect x="340.48" y="65.85" width="4.17" height="5.08" fill="#90d0a4"/><rect x="344.34" y="65.85" width="2.23" height="5.08" fill="#72c48c"/><rect x="346.27" y="65.85" width="11.9" height="5.08" fill="#90d0a4"/><rect x="357.87" y="65.85" width="2.23" height="5.08" fill="#b5dfc3"/><rect x="359.8" y="65.85" width="2.23" height="5.08" fill="#90d0a4"/><rect x="361.74" y="65.85" width="4.17" height="5.08" fill="#b5dfc3"/><rect x="365.6" y="65.85" width="2.23" height="5.08" fill="#90d0a4"/><rect x="367.53" y="65.85" width="4.17" height="5.08" fill="#b5dfc3"/><rect x="253.5" y="70.62" width="6.1" height="5.08" fill="#4da570"/><rect x="259.3" y="70.62" width="2.23" height="5.08" fill="#72c48c"/><rect x="261.23" y="70.62" width="2.23" height="5.08" fill="#4da570"/><rect x="263.16" y="70.62" width="2.23" height="5.08" fill="#72c48c"/><rect x="265.1" y="70.62" width="2.23" height="5.08" fill="#4da570"/><rect x="267.03" y="70.62" width="46.69" height="5.08" fill="#72c48c"/><rect x="313.42" y="70.62" width="4.17" height="5.08" fill="#90d0a4"/><rect x="317.28" y="70.62" width="2.23" height="5.08" fill="#72c48c"/><rect x="319.21" y="70.62" width="6.1" height="5.08" fill="#90d0a4"/><rect x="325.01" y="70.62" width="2.23" height="5.08" fill="#72c48c"/><rect x="326.95" y="70.62" width="21.56" height="5.08" fill="#90d0a4"/><rect x="348.21" y="70.62" width="6.1" height="5.08" fill="#b5dfc3"/><rect x="354" y="70.62" width="2.23" height="5.08" fill="#90d0a4"/><rect x="355.94" y="70.62" width="15.76" height="5.08" fill="#b5dfc3"/><rect x="253.5" y="75.4" width="42.82" height="5.08" fill="#72c48c"/><rect x="296.02" y="75.4" width="4.17" height="5.08" fill="#90d0a4"/><rect x="299.89" y="75.4" width="2.23" height="5.08" fill="#72c48c"/><rect x="301.82" y="75.4" width="2.23" height="5.08" fill="#90d0a4"/><rect x="303.75" y="75.4" width="2.23" height="5.08" fill="#72c48c"/><rect x="305.69" y="75.4" width="15.76" height="5.08" fill="#90d0a4"/><rect x="321.15" y="75.4" width="2.23" height="5.08" fill="#b5dfc3"/><rect x="323.08" y="75.4" width="4.17" height="5.08" fill="#90d0a4"/><rect x="326.95" y="75.4" width="44.75" height="5.08" fill="#b5dfc3"/><rect x="253.5" y="80.18" width="21.56" height="5.08" fill="#72c48c"/><rect x="274.76" y="80.18" width="2.23" height="5.08" fill="#90d0a4"/><rect x="276.69" y="80.18" width="8.03" height="5.08" fill="#72c48c"/><rect x="284.42" y="80.18" width="13.83" height="5.08" fill="#90d0a4"/><rect x="297.95" y="80.18" width="2.23" height="5.08" fill="#b5dfc3"/><rect x="299.89" y="80.18" width="4.17" height="5.08" fill="#90d0a4"/><rect x="303.75" y="80.18" width="2.23" height="5.08" fill="#b5dfc3"/><rect x="305.69" y="80.18" width="4.17" height="5.08" fill="#90d0a4"/><rect x="309.55" y="80.18" width="62.15" height="5.08" fill="#b5dfc3"/><rect x="253.5" y="84.95" width="6.1" height="5.08" fill="#72c48c"/><rect x="259.3" y="84.95" width="6.1" height="5.08" fill="#90d0a4"/><rect x="265.1" y="84.95" width="2.23" height="5.08" fill="#72c48c"/><rect x="267.03" y="84.95" width="15.76" height="5.08" fill="#90d0a4"/><rect x="282.49" y="84.95" width="2.23" height="5.08" fill="#b5dfc3"/><rect x="284.42" y="84.95" width="4.17" height="5.08" fill="#90d0a4"/><rect x="288.29" y="84.95" width="60.22" height="5.08" fill="#b5dfc3"/><rect x="348.21" y="84.95" width="4.17" height="5.08" fill="#eff1ef"/><rect x="352.07" y="84.95" width="4.17" height="5.08" fill="#b5dfc3"/><rect x="355.94" y="84.95" width="2.23" height="5.08" fill="#eff1ef"/><rect x="357.87" y="84.95" width="8.03" height="5.08" fill="#b5dfc3"/><rect x="365.6" y="84.95" width="6.1" height="5.08" fill="#eff1ef"/><rect x="253.5" y="89.72" width="9.96" height="5.08" fill="#90d0a4"/><rect x="263.16" y="89.72" width="2.23" height="5.08" fill="#b5dfc3"/><rect x="265.1" y="89.72" width="2.23" height="5.08" fill="#90d0a4"/><rect x="267.03" y="89.72" width="4.17" height="5.08" fill="#b5dfc3"/><rect x="270.9" y="89.72" width="2.23" height="5.08" fill="#90d0a4"/><rect x="272.83" y="89.72" width="54.42" height="5.08" fill="#b5dfc3"/><rect x="326.95" y="89.72" width="4.17" height="5.08" fill="#eff1ef"/><rect x="330.81" y="89.72" width="2.23" height="5.08" fill="#b5dfc3"/><rect x="332.74" y="89.72" width="2.23" height="5.08" fill="#eff1ef"/><rect x="334.68" y="89.72" width="4.17" height="5.08" fill="#b5dfc3"/><rect x="338.54" y="89.72" width="25.43" height="5.08" fill="#eff1ef"/><rect x="363.67" y="89.72" width="2.23" height="5.08" fill="#b5dfc3"/><rect x="365.6" y="89.72" width="6.1" height="5.08" fill="#eff1ef"/><rect x="253.5" y="94.5" width="4.17" height="5.08" fill="#b5dfc3"/><rect x="257.37" y="94.5" width="2.23" height="5.08" fill="#90d0a4"/><rect x="259.3" y="94.5" width="48.62" height="5.08" fill="#b5dfc3"/><rect x="307.62" y="94.5" width="2.23" height="5.08" fill="#eff1ef"/><rect x="309.55" y="94.5" width="4.17" height="5.08" fill="#b5dfc3"/><rect x="313.42" y="94.5" width="4.17" height="5.08" fill="#eff1ef"/><rect x="317.28" y="94.5" width="2.23" height="5.08" fill="#b5dfc3"/><rect x="319.21" y="94.5" width="6.1" height="5.08" fill="#eff1ef"/><rect x="325.01" y="94.5" width="2.23" height="5.08" fill="#b5dfc3"/><rect x="326.95" y="94.5" width="44.75" height="5.08" fill="#eff1ef"/><rect x="253.5" y="99.28" width="31.22" height="5.08" fill="#b5dfc3"/><rect x="284.42" y="99.28" width="2.23" height="5.08" fill="#eff1ef"/><rect x="286.36" y="99.28" width="6.1" height="5.08" fill="#b5dfc3"/><rect x="292.16" y="99.28" width="2.23" height="5.08" fill="#eff1ef"/><rect x="294.09" y="99.28" width="2.23" height="5.08" fill="#b5dfc3"/><rect x="296.02" y="99.28" width="2.23" height="5.08" fill="#eff1ef"/><rect x="297.95" y="99.28" width="4.17" height="5.08" fill="#b5dfc3"/><rect x="301.82" y="99.28" width="2.23" height="5.08" fill="#eff1ef"/><rect x="303.75" y="99.28" width="2.23" height="5.08" fill="#b5dfc3"/><rect x="305.69" y="99.28" width="66.01" height="5.08" fill="#eff1ef"/><rect x="253.5" y="104.05" width="23.49" height="5.08" fill="#b5dfc3"/><rect x="276.69" y="104.05" width="6.1" height="5.08" fill="#eff1ef"/><rect x="282.49" y="104.05" width="2.23" height="5.08" fill="#b5dfc3"/><rect x="284.42" y="104.05" width="6.1" height="5.08" fill="#eff1ef"/><rect x="290.22" y="104.05" width="2.23" height="5.08" fill="#b5dfc3"/><rect x="292.16" y="104.05" width="79.54" height="5.08" fill="#eff1ef"/><rect x="253.5" y="108.83" width="17.7" height="5.08" fill="#b5dfc3"/><rect x="270.9" y="108.83" width="100.8" height="5.08" fill="#eff1ef"/></g>
<line x1="248.6" y1="25.26" x2="253.5" y2="25.26" stroke="#111111" stroke-width="1.15"/>
<text x="244.5" y="27.86" font-size="8" font-family='"Liberation Serif", serif' fill="#222222" text-anchor="end" textLength="10.2" lengthAdjust="spacingAndGlyphs" stroke="#222" stroke-width="0.25">1.9</text>
<line x1="248.6" y1="34.81" x2="253.5" y2="34.81" stroke="#111111" stroke-width="1.15"/>
<text x="244.5" y="37.41" font-size="8" font-family='"Liberation Serif", serif' fill="#222222" text-anchor="end" textLength="10.2" lengthAdjust="spacingAndGlyphs" stroke="#222" stroke-width="0.25">1.7</text>
<line x1="248.6" y1="44.36" x2="253.5" y2="44.36" stroke="#111111" stroke-width="1.15"/>
<text x="244.5" y="46.96" font-size="8" font-family='"Liberation Serif", serif' fill="#222222" text-anchor="end" textLength="10.2" lengthAdjust="spacingAndGlyphs" stroke="#222" stroke-width="0.25">1.5</text>
<line x1="248.6" y1="53.91" x2="253.5" y2="53.91" stroke="#111111" stroke-width="1.15"/>
<text x="244.5" y="56.51" font-size="8" font-family='"Liberation Serif", serif' fill="#222222" text-anchor="end" textLength="10.2" lengthAdjust="spacingAndGlyphs" stroke="#222" stroke-width="0.25">1.3</text>
<line x1="248.6" y1="63.46" x2="253.5" y2="63.46" stroke="#111111" stroke-width="1.15"/>
<text x="244.5" y="66.06" font-size="8" font-family='"Liberation Serif", serif' fill="#222222" text-anchor="end" textLength="10.2" lengthAdjust="spacingAndGlyphs" stroke="#222" stroke-width="0.25">1.1</text>
<line x1="248.6" y1="73.01" x2="253.5" y2="73.01" stroke="#111111" stroke-width="1.15"/>
<text x="244.5" y="75.61" font-size="8" font-family='"Liberation Serif", serif' fill="#222222" text-anchor="end" textLength="10.2" lengthAdjust="spacingAndGlyphs" stroke="#222" stroke-width="0.25">0.9</text>
<line x1="248.6" y1="82.56" x2="253.5" y2="82.56" stroke="#111111" stroke-width="1.15"/>
<text x="244.5" y="85.16" font-size="8" font-family='"Liberation Serif", serif' fill="#222222" text-anchor="end" textLength="10.2" lengthAdjust="spacingAndGlyphs" stroke="#222" stroke-width="0.25">0.7</text>
<line x1="248.6" y1="92.11" x2="253.5" y2="92.11" stroke="#111111" stroke-width="1.15"/>
<text x="244.5" y="94.71" font-size="8" font-family='"Liberation Serif", serif' fill="#222222" text-anchor="end" textLength="10.2" lengthAdjust="spacingAndGlyphs" stroke="#222" stroke-width="0.25">0.5</text>
<line x1="248.6" y1="101.66" x2="253.5" y2="101.66" stroke="#111111" stroke-width="1.15"/>
<text x="244.5" y="104.26" font-size="8" font-family='"Liberation Serif", serif' fill="#222222" text-anchor="end" textLength="10.2" lengthAdjust="spacingAndGlyphs" stroke="#222" stroke-width="0.25">0.3</text>
<line x1="248.6" y1="111.21" x2="253.5" y2="111.21" stroke="#111111" stroke-width="1.15"/>
<text x="244.5" y="113.81" font-size="8" font-family='"Liberation Serif", serif' fill="#222222" text-anchor="end" textLength="10.2" lengthAdjust="spacingAndGlyphs" stroke="#222" stroke-width="0.25">0.1</text>
<path d="M229.3,57.3 C228.8,59.5 227.7,61.9 227.9,62.6 C228.2,63.3 229.9,62.9 231.1,61.6" fill="none" stroke="#111111" stroke-width="0.95" stroke-linecap="round"/>
<line x1="254.22" y1="113.6" x2="254.22" y2="118.5" stroke="#111111" stroke-width="1.15"/>
<text x="0" y="0" transform="translate(256.82,123.7) rotate(-90)" font-size="8" font-family='"Liberation Serif", serif' fill="#222222" text-anchor="end" textLength="10.3" lengthAdjust="spacingAndGlyphs" stroke="#222" stroke-width="0.25">0.9</text>
<line x1="263.88" y1="113.6" x2="263.88" y2="118.5" stroke="#111111" stroke-width="1.15"/>
<text x="0" y="0" transform="translate(266.48,123.7) rotate(-90)" font-size="8" font-family='"Liberation Serif", serif' fill="#222222" text-anchor="end" textLength="14.3" lengthAdjust="spacingAndGlyphs" stroke="#222" stroke-width="0.25">0.95</text>
<line x1="273.54" y1="113.6" x2="273.54" y2="118.5" stroke="#111111" stroke-width="1.15"/>
<text x="0" y="0" transform="translate(276.14,123.7) rotate(-90)" font-size="8" font-family='"Liberation Serif", serif' fill="#222222" text-anchor="end" textLength="10.3" lengthAdjust="spacingAndGlyphs" stroke="#222" stroke-width="0.25">1.0</text>
<line x1="283.21" y1="113.6" x2="283.21" y2="118.5" stroke="#111111" stroke-width="1.15"/>
<text x="0" y="0" transform="translate(285.81,123.7) rotate(-90)" font-size="8" font-family='"Liberation Serif", serif' fill="#222222" text-anchor="end" textLength="14.3" lengthAdjust="spacingAndGlyphs" stroke="#222" stroke-width="0.25">1.05</text>
<line x1="292.87" y1="113.6" x2="292.87" y2="118.5" stroke="#111111" stroke-width="1.15"/>
<text x="0" y="0" transform="translate(295.47,123.7) rotate(-90)" font-size="8" font-family='"Liberation Serif", serif' fill="#222222" text-anchor="end" textLength="10.3" lengthAdjust="spacingAndGlyphs" stroke="#222" stroke-width="0.25">1.1</text>
<line x1="302.54" y1="113.6" x2="302.54" y2="118.5" stroke="#111111" stroke-width="1.15"/>
<text x="0" y="0" transform="translate(305.14,123.7) rotate(-90)" font-size="8" font-family='"Liberation Serif", serif' fill="#222222" text-anchor="end" textLength="14.3" lengthAdjust="spacingAndGlyphs" stroke="#222" stroke-width="0.25">1.15</text>
<line x1="312.2" y1="113.6" x2="312.2" y2="118.5" stroke="#111111" stroke-width="1.15"/>
<text x="0" y="0" transform="translate(314.8,123.7) rotate(-90)" font-size="8" font-family='"Liberation Serif", serif' fill="#222222" text-anchor="end" textLength="10.3" lengthAdjust="spacingAndGlyphs" stroke="#222" stroke-width="0.25">1.2</text>
<line x1="321.86" y1="113.6" x2="321.86" y2="118.5" stroke="#111111" stroke-width="1.15"/>
<text x="0" y="0" transform="translate(324.46,123.7) rotate(-90)" font-size="8" font-family='"Liberation Serif", serif' fill="#222222" text-anchor="end" textLength="14.3" lengthAdjust="spacingAndGlyphs" stroke="#222" stroke-width="0.25">1.25</text>
<line x1="331.53" y1="113.6" x2="331.53" y2="118.5" stroke="#111111" stroke-width="1.15"/>
<text x="0" y="0" transform="translate(334.13,123.7) rotate(-90)" font-size="8" font-family='"Liberation Serif", serif' fill="#222222" text-anchor="end" textLength="10.3" lengthAdjust="spacingAndGlyphs" stroke="#222" stroke-width="0.25">1.3</text>
<line x1="341.19" y1="113.6" x2="341.19" y2="118.5" stroke="#111111" stroke-width="1.15"/>
<text x="0" y="0" transform="translate(343.79,123.7) rotate(-90)" font-size="8" font-family='"Liberation Serif", serif' fill="#222222" text-anchor="end" textLength="14.3" lengthAdjust="spacingAndGlyphs" stroke="#222" stroke-width="0.25">1.35</text>
<line x1="350.86" y1="113.6" x2="350.86" y2="118.5" stroke="#111111" stroke-width="1.15"/>
<text x="0" y="0" transform="translate(353.46,123.7) rotate(-90)" font-size="8" font-family='"Liberation Serif", serif' fill="#222222" text-anchor="end" textLength="10.3" lengthAdjust="spacingAndGlyphs" stroke="#222" stroke-width="0.25">1.4</text>
<line x1="360.52" y1="113.6" x2="360.52" y2="118.5" stroke="#111111" stroke-width="1.15"/>
<text x="0" y="0" transform="translate(363.12,123.7) rotate(-90)" font-size="8" font-family='"Liberation Serif", serif' fill="#222222" text-anchor="end" textLength="14.3" lengthAdjust="spacingAndGlyphs" stroke="#222" stroke-width="0.25">1.45</text>
<line x1="370.18" y1="113.6" x2="370.18" y2="118.5" stroke="#111111" stroke-width="1.15"/>
<text x="0" y="0" transform="translate(372.78,123.7) rotate(-90)" font-size="8" font-family='"Liberation Serif", serif' fill="#222222" text-anchor="end" textLength="10.3" lengthAdjust="spacingAndGlyphs" stroke="#222" stroke-width="0.25">1.5</text>
<ellipse cx="313.7" cy="150.5" rx="2.55" ry="3.15" transform="rotate(25 313.7 150.5)" fill="none" stroke="#111111" stroke-width="1.0"/>
<path d="M311.1,149.9 L309.2,157.3" fill="none" stroke="#111111" stroke-width="1.15" stroke-linecap="round"/>
<path d="M254.3,141 L256.95,146.8 L255.7,146.8 L255.7,155.6 L252.9,155.6 L252.9,146.8 L251.65,146.8 Z" fill="none" stroke="#ee6a5c" stroke-width="1.2" stroke-linejoin="miter"/>
<path d="M298.8,141 L301.45,146.8 L300.2,146.8 L300.2,155.6 L297.4,155.6 L297.4,146.8 L296.15,146.8 Z" fill="none" stroke="#45a8db" stroke-width="1.2" stroke-linejoin="miter"/>
<defs><linearGradient id="g378" x1="0" y1="1" x2="0" y2="0"><stop offset="0" stop-color="#f2f2f2"/><stop offset="0.1" stop-color="#eff1ef"/><stop offset="0.2" stop-color="#b5dfc3"/><stop offset="0.3" stop-color="#90d0a4"/><stop offset="0.4" stop-color="#72c48c"/><stop offset="0.5" stop-color="#4da570"/><stop offset="0.6" stop-color="#3a8a5c"/><stop offset="0.7" stop-color="#2c6c4a"/><stop offset="0.8" stop-color="#1f4a33"/><stop offset="0.9" stop-color="#122b1d"/><stop offset="1" stop-color="#060d09"/></linearGradient></defs>
<rect x="378.7" y="18.2" width="5" height="95.6" fill="url(#g378)"/>
<line x1="383.6" y1="104.24" x2="391" y2="104.24" stroke="#111111" stroke-width="1.2"/>
<text x="395.9" y="106.94" font-size="8" font-family='"Liberation Serif", serif' fill="#222222" textLength="4.6" lengthAdjust="spacingAndGlyphs">2</text>
<line x1="383.6" y1="85.12" x2="391" y2="85.12" stroke="#111111" stroke-width="1.2"/>
<text x="395.9" y="87.82" font-size="8" font-family='"Liberation Serif", serif' fill="#222222" textLength="4.6" lengthAdjust="spacingAndGlyphs">4</text>
<line x1="383.6" y1="66" x2="391" y2="66" stroke="#111111" stroke-width="1.2"/>
<text x="395.9" y="68.7" font-size="8" font-family='"Liberation Serif", serif' fill="#222222" textLength="4.6" lengthAdjust="spacingAndGlyphs">6</text>
<line x1="383.6" y1="46.88" x2="391" y2="46.88" stroke="#111111" stroke-width="1.2"/>
<text x="395.9" y="49.58" font-size="8" font-family='"Liberation Serif", serif' fill="#222222" textLength="4.6" lengthAdjust="spacingAndGlyphs">8</text>
<line x1="383.6" y1="27.76" x2="391" y2="27.76" stroke="#111111" stroke-width="1.2"/>
<text x="395.9" y="30.46" font-size="8" font-family='"Liberation Serif", serif' fill="#222222" textLength="9.2" lengthAdjust="spacingAndGlyphs">10</text>
<text x="0" y="0" transform="translate(419.6,66.2) rotate(-90)" font-size="13.4" font-family='"Liberation Sans", sans-serif' fill="#262626" text-anchor="middle" textLength="76.5" lengthAdjust="spacingAndGlyphs">max. degree</text>
<text x="438.8" y="15.8" font-size="20.5" font-family='"Liberation Sans", sans-serif' fill="#111111" textLength="13.3" lengthAdjust="spacingAndGlyphs">C</text>
<text x="529.45" y="10.6" font-size="13.4" font-family='"Liberation Sans", sans-serif' fill="#262626" text-anchor="middle" textLength="103.3" lengthAdjust="spacingAndGlyphs">maximum delays</text>
<g shape-rendering="crispEdges"><rect x="470.5" y="18.1" width="8.03" height="5.08" fill="#e8f1f7"/><rect x="478.23" y="18.1" width="4.17" height="5.08" fill="#e7f1f7"/><rect x="482.1" y="18.1" width="8.03" height="5.08" fill="#e7f0f7"/><rect x="489.83" y="18.1" width="13.83" height="5.08" fill="#e6f0f7"/><rect x="503.36" y="18.1" width="11.9" height="5.08" fill="#e5eff6"/><rect x="514.95" y="18.1" width="6.1" height="5.08" fill="#e4eff6"/><rect x="520.75" y="18.1" width="4.17" height="5.08" fill="#e4eef6"/><rect x="524.62" y="18.1" width="8.03" height="5.08" fill="#e3eef6"/><rect x="532.35" y="18.1" width="4.17" height="5.08" fill="#e2eef6"/><rect x="536.21" y="18.1" width="4.17" height="5.08" fill="#e2edf5"/><rect x="540.08" y="18.1" width="6.1" height="5.08" fill="#e1edf5"/><rect x="545.88" y="18.1" width="2.23" height="5.08" fill="#e1ecf5"/><rect x="547.81" y="18.1" width="6.1" height="5.08" fill="#e0ecf5"/><rect x="553.61" y="18.1" width="6.1" height="5.08" fill="#e0ecf4"/><rect x="559.41" y="18.1" width="6.1" height="5.08" fill="#dfecf4"/><rect x="565.21" y="18.1" width="8.03" height="5.08" fill="#dfebf4"/><rect x="572.94" y="18.1" width="8.03" height="5.08" fill="#deebf4"/><rect x="580.67" y="18.1" width="8.03" height="5.08" fill="#deebf3"/><rect x="470.5" y="22.88" width="2.23" height="5.08" fill="#e8f1f7"/><rect x="472.43" y="22.88" width="4.17" height="5.08" fill="#e7f1f7"/><rect x="476.3" y="22.88" width="8.03" height="5.08" fill="#e7f0f7"/><rect x="484.03" y="22.88" width="13.83" height="5.08" fill="#e6f0f7"/><rect x="497.56" y="22.88" width="11.9" height="5.08" fill="#e5eff6"/><rect x="509.16" y="22.88" width="6.1" height="5.08" fill="#e4eff6"/><rect x="514.95" y="22.88" width="4.17" height="5.08" fill="#e4eef6"/><rect x="518.82" y="22.88" width="9.96" height="5.08" fill="#e3eef6"/><rect x="528.48" y="22.88" width="2.23" height="5.08" fill="#e2eef6"/><rect x="530.42" y="22.88" width="2.23" height="5.08" fill="#e2edf6"/><rect x="532.35" y="22.88" width="4.17" height="5.08" fill="#e2edf5"/><rect x="536.21" y="22.88" width="6.1" height="5.08" fill="#e1edf5"/><rect x="542.01" y="22.88" width="2.23" height="5.08" fill="#e1ecf5"/><rect x="543.95" y="22.88" width="4.17" height="5.08" fill="#e0ecf5"/><rect x="547.81" y="22.88" width="4.17" height="5.08" fill="#e0ecf4"/><rect x="551.68" y="22.88" width="6.1" height="5.08" fill="#dfecf4"/><rect x="557.48" y="22.88" width="6.1" height="5.08" fill="#dfebf4"/><rect x="563.27" y="22.88" width="6.1" height="5.08" fill="#deebf4"/><rect x="569.07" y="22.88" width="9.96" height="5.08" fill="#deebf3"/><rect x="578.74" y="22.88" width="2.23" height="5.08" fill="#ddebf3"/><rect x="580.67" y="22.88" width="8.03" height="5.08" fill="#ddeaf3"/><rect x="470.5" y="27.65" width="8.03" height="5.08" fill="#e7f0f7"/><rect x="478.23" y="27.65" width="11.9" height="5.08" fill="#e6f0f7"/><rect x="489.83" y="27.65" width="2.23" height="5.08" fill="#e6f0f6"/><rect x="491.76" y="27.65" width="9.96" height="5.08" fill="#e5eff6"/><rect x="501.42" y="27.65" width="8.03" height="5.08" fill="#e4eff6"/><rect x="509.16" y="27.65" width="4.17" height="5.08" fill="#e4eef6"/><rect x="513.02" y="27.65" width="9.96" height="5.08" fill="#e3eef6"/><rect x="522.69" y="27.65" width="2.23" height="5.08" fill="#e2eef6"/><rect x="524.62" y="27.65" width="2.23" height="5.08" fill="#e2edf6"/><rect x="526.55" y="27.65" width="4.17" height="5.08" fill="#e2edf5"/><rect x="530.42" y="27.65" width="8.03" height="5.08" fill="#e1edf5"/><rect x="538.15" y="27.65" width="6.1" height="5.08" fill="#e0ecf5"/><rect x="543.95" y="27.65" width="4.17" height="5.08" fill="#e0ecf4"/><rect x="547.81" y="27.65" width="4.17" height="5.08" fill="#dfecf4"/><rect x="551.68" y="27.65" width="6.1" height="5.08" fill="#dfebf4"/><rect x="557.48" y="27.65" width="4.17" height="5.08" fill="#deebf4"/><rect x="561.34" y="27.65" width="6.1" height="5.08" fill="#deebf3"/><rect x="567.14" y="27.65" width="2.23" height="5.08" fill="#ddebf3"/><rect x="569.07" y="27.65" width="15.76" height="5.08" fill="#ddeaf3"/><rect x="584.53" y="27.65" width="4.17" height="5.08" fill="#dceaf3"/><rect x="470.5" y="32.43" width="13.83" height="5.08" fill="#e6f0f7"/><rect x="484.03" y="32.43" width="11.9" height="5.08" fill="#e5eff6"/><rect x="495.63" y="32.43" width="8.03" height="5.08" fill="#e4eff6"/><rect x="503.36" y="32.43" width="4.17" height="5.08" fill="#e4eef6"/><rect x="507.22" y="32.43" width="9.96" height="5.08" fill="#e3eef6"/><rect x="516.89" y="32.43" width="2.23" height="5.08" fill="#e2eef6"/><rect x="518.82" y="32.43" width="2.23" height="5.08" fill="#e2edf6"/><rect x="520.75" y="32.43" width="6.1" height="5.08" fill="#e2edf5"/><rect x="526.55" y="32.43" width="8.03" height="5.08" fill="#e1edf5"/><rect x="534.28" y="32.43" width="4.17" height="5.08" fill="#e0ecf5"/><rect x="538.15" y="32.43" width="4.17" height="5.08" fill="#e0ecf4"/><rect x="542.01" y="32.43" width="4.17" height="5.08" fill="#dfecf4"/><rect x="545.88" y="32.43" width="6.1" height="5.08" fill="#dfebf4"/><rect x="551.68" y="32.43" width="4.17" height="5.08" fill="#deebf4"/><rect x="555.54" y="32.43" width="6.1" height="5.08" fill="#deebf3"/><rect x="561.34" y="32.43" width="11.9" height="5.08" fill="#ddeaf3"/><rect x="572.94" y="32.43" width="9.96" height="5.08" fill="#dceaf3"/><rect x="582.6" y="32.43" width="4.17" height="5.08" fill="#dceaf2"/><rect x="586.47" y="32.43" width="2.23" height="5.08" fill="#dce9f2"/><rect x="470.5" y="37.2" width="8.03" height="5.08" fill="#e6f0f7"/><rect x="478.23" y="37.2" width="11.9" height="5.08" fill="#e5eff6"/><rect x="489.83" y="37.2" width="8.03" height="5.08" fill="#e4eff6"/><rect x="497.56" y="37.2" width="4.17" height="5.08" fill="#e4eef6"/><rect x="501.42" y="37.2" width="9.96" height="5.08" fill="#e3eef6"/><rect x="511.09" y="37.2" width="2.23" height="5.08" fill="#e2eef6"/><rect x="513.02" y="37.2" width="2.23" height="5.08" fill="#e2edf6"/><rect x="514.95" y="37.2" width="6.1" height="5.08" fill="#e2edf5"/><rect x="520.75" y="37.2" width="8.03" height="5.08" fill="#e1edf5"/><rect x="528.48" y="37.2" width="4.17" height="5.08" fill="#e0ecf5"/><rect x="532.35" y="37.2" width="6.1" height="5.08" fill="#e0ecf4"/><rect x="538.15" y="37.2" width="4.17" height="5.08" fill="#dfecf4"/><rect x="542.01" y="37.2" width="4.17" height="5.08" fill="#dfebf4"/><rect x="545.88" y="37.2" width="4.17" height="5.08" fill="#deebf4"/><rect x="549.74" y="37.2" width="6.1" height="5.08" fill="#deebf3"/><rect x="555.54" y="37.2" width="9.96" height="5.08" fill="#ddeaf3"/><rect x="565.21" y="37.2" width="6.1" height="5.08" fill="#dceaf3"/><rect x="571" y="37.2" width="4.17" height="5.08" fill="#dceaf2"/><rect x="574.87" y="37.2" width="6.1" height="5.08" fill="#dce9f2"/><rect x="580.67" y="37.2" width="8.03" height="5.08" fill="#dbe9f2"/><rect x="470.5" y="41.98" width="2.23" height="5.08" fill="#e6f0f6"/><rect x="472.43" y="41.98" width="11.9" height="5.08" fill="#e5eff6"/><rect x="484.03" y="41.98" width="8.03" height="5.08" fill="#e4eff6"/><rect x="491.76" y="41.98" width="4.17" height="5.08" fill="#e4eef6"/><rect x="495.63" y="41.98" width="9.96" height="5.08" fill="#e3eef6"/><rect x="505.29" y="41.98" width="2.23" height="5.08" fill="#e2eef6"/><rect x="507.22" y="41.98" width="2.23" height="5.08" fill="#e2edf6"/><rect x="509.16" y="41.98" width="6.1" height="5.08" fill="#e2edf5"/><rect x="514.95" y="41.98" width="8.03" height="5.08" fill="#e1edf5"/><rect x="522.69" y="41.98" width="6.1" height="5.08" fill="#e0ecf5"/><rect x="528.48" y="41.98" width="4.17" height="5.08" fill="#e0ecf4"/><rect x="532.35" y="41.98" width="4.17" height="5.08" fill="#dfecf4"/><rect x="536.21" y="41.98" width="6.1" height="5.08" fill="#dfebf4"/><rect x="542.01" y="41.98" width="4.17" height="5.08" fill="#deebf4"/><rect x="545.88" y="41.98" width="4.17" height="5.08" fill="#deebf3"/><rect x="549.74" y="41.98" width="2.23" height="5.08" fill="#ddebf3"/><rect x="551.68" y="41.98" width="8.03" height="5.08" fill="#ddeaf3"/><rect x="559.41" y="41.98" width="4.17" height="5.08" fill="#dceaf3"/><rect x="563.27" y="41.98" width="2.23" height="5.08" fill="#dceaf2"/><rect x="565.21" y="41.98" width="4.17" height="5.08" fill="#dce9f2"/><rect x="569.07" y="41.98" width="17.7" height="5.08" fill="#dbe9f2"/><rect x="586.47" y="41.98" width="2.23" height="5.08" fill="#dae9f2"/><rect x="470.5" y="46.75" width="4.17" height="5.08" fill="#e5eff6"/><rect x="474.37" y="46.75" width="8.03" height="5.08" fill="#e4eff6"/><rect x="482.1" y="46.75" width="4.17" height="5.08" fill="#e4eef6"/><rect x="485.96" y="46.75" width="9.96" height="5.08" fill="#e3eef6"/><rect x="495.63" y="46.75" width="2.23" height="5.08" fill="#e2eef6"/><rect x="497.56" y="46.75" width="2.23" height="5.08" fill="#e2edf6"/><rect x="499.49" y="46.75" width="4.17" height="5.08" fill="#e2edf5"/><rect x="503.36" y="46.75" width="6.1" height="5.08" fill="#e1edf5"/><rect x="509.16" y="46.75" width="2.23" height="5.08" fill="#e1ecf5"/><rect x="511.09" y="46.75" width="4.17" height="5.08" fill="#e0ecf5"/><rect x="514.95" y="46.75" width="4.17" height="5.08" fill="#e0ecf4"/><rect x="518.82" y="46.75" width="4.17" height="5.08" fill="#dfecf4"/><rect x="522.69" y="46.75" width="6.1" height="5.08" fill="#dfebf4"/><rect x="528.48" y="46.75" width="4.17" height="5.08" fill="#deebf4"/><rect x="532.35" y="46.75" width="4.17" height="5.08" fill="#deebf3"/><rect x="536.21" y="46.75" width="2.23" height="5.08" fill="#ddebf3"/><rect x="538.15" y="46.75" width="8.03" height="5.08" fill="#ddeaf3"/><rect x="545.88" y="46.75" width="4.17" height="5.08" fill="#dceaf3"/><rect x="549.74" y="46.75" width="2.23" height="5.08" fill="#dceaf2"/><rect x="551.68" y="46.75" width="2.23" height="5.08" fill="#dce9f2"/><rect x="553.61" y="46.75" width="9.96" height="5.08" fill="#dbe9f2"/><rect x="563.27" y="46.75" width="6.1" height="5.08" fill="#dae9f2"/><rect x="569.07" y="46.75" width="9.96" height="5.08" fill="#dae8f2"/><rect x="578.74" y="46.75" width="8.03" height="5.08" fill="#d9e8f2"/><rect x="586.47" y="46.75" width="2.23" height="5.08" fill="#d9e8f1"/><rect x="470.5" y="51.53" width="4.17" height="5.08" fill="#e4eff6"/><rect x="474.37" y="51.53" width="2.23" height="5.08" fill="#e4eef6"/><rect x="476.3" y="51.53" width="9.96" height="5.08" fill="#e3eef6"/><rect x="485.96" y="51.53" width="2.23" height="5.08" fill="#e2eef6"/><rect x="487.9" y="51.53" width="2.23" height="5.08" fill="#e2edf6"/><rect x="489.83" y="51.53" width="4.17" height="5.08" fill="#e2edf5"/><rect x="493.69" y="51.53" width="6.1" height="5.08" fill="#e1edf5"/><rect x="499.49" y="51.53" width="2.23" height="5.08" fill="#e1ecf5"/><rect x="501.42" y="51.53" width="2.23" height="5.08" fill="#e0ecf5"/><rect x="503.36" y="51.53" width="4.17" height="5.08" fill="#e0ecf4"/><rect x="507.22" y="51.53" width="4.17" height="5.08" fill="#dfecf4"/><rect x="511.09" y="51.53" width="4.17" height="5.08" fill="#dfebf4"/><rect x="514.95" y="51.53" width="4.17" height="5.08" fill="#deebf4"/><rect x="518.82" y="51.53" width="6.1" height="5.08" fill="#deebf3"/><rect x="524.62" y="51.53" width="8.03" height="5.08" fill="#ddeaf3"/><rect x="532.35" y="51.53" width="4.17" height="5.08" fill="#dceaf3"/><rect x="536.21" y="51.53" width="2.23" height="5.08" fill="#dceaf2"/><rect x="538.15" y="51.53" width="2.23" height="5.08" fill="#dce9f2"/><rect x="540.08" y="51.53" width="8.03" height="5.08" fill="#dbe9f2"/><rect x="547.81" y="51.53" width="6.1" height="5.08" fill="#dae9f2"/><rect x="553.61" y="51.53" width="6.1" height="5.08" fill="#dae8f2"/><rect x="559.41" y="51.53" width="4.17" height="5.08" fill="#d9e8f2"/><rect x="563.27" y="51.53" width="6.1" height="5.08" fill="#d9e8f1"/><rect x="569.07" y="51.53" width="9.96" height="5.08" fill="#d8e8f1"/><rect x="578.74" y="51.53" width="8.03" height="5.08" fill="#d8e7f1"/><rect x="586.47" y="51.53" width="2.23" height="5.08" fill="#d7e7f1"/><rect x="470.5" y="56.3" width="8.03" height="5.08" fill="#e3eef6"/><rect x="478.23" y="56.3" width="2.23" height="5.08" fill="#e2eef6"/><rect x="480.16" y="56.3" width="2.23" height="5.08" fill="#e2edf6"/><rect x="482.1" y="56.3" width="4.17" height="5.08" fill="#e2edf5"/><rect x="485.96" y="56.3" width="6.1" height="5.08" fill="#e1edf5"/><rect x="491.76" y="56.3" width="2.23" height="5.08" fill="#e1ecf5"/><rect x="493.69" y="56.3" width="2.23" height="5.08" fill="#e0ecf5"/><rect x="495.63" y="56.3" width="4.17" height="5.08" fill="#e0ecf4"/><rect x="499.49" y="56.3" width="4.17" height="5.08" fill="#dfecf4"/><rect x="503.36" y="56.3" width="2.23" height="5.08" fill="#dfebf4"/><rect x="505.29" y="56.3" width="4.17" height="5.08" fill="#deebf4"/><rect x="509.16" y="56.3" width="4.17" height="5.08" fill="#deebf3"/><rect x="513.02" y="56.3" width="8.03" height="5.08" fill="#ddeaf3"/><rect x="520.75" y="56.3" width="4.17" height="5.08" fill="#dceaf3"/><rect x="524.62" y="56.3" width="2.23" height="5.08" fill="#dceaf2"/><rect x="526.55" y="56.3" width="2.23" height="5.08" fill="#dce9f2"/><rect x="528.48" y="56.3" width="8.03" height="5.08" fill="#dbe9f2"/><rect x="536.21" y="56.3" width="4.17" height="5.08" fill="#dae9f2"/><rect x="540.08" y="56.3" width="4.17" height="5.08" fill="#dae8f2"/><rect x="543.95" y="56.3" width="4.17" height="5.08" fill="#d9e8f2"/><rect x="547.81" y="56.3" width="6.1" height="5.08" fill="#d9e8f1"/><rect x="553.61" y="56.3" width="4.17" height="5.08" fill="#d8e8f1"/><rect x="557.48" y="56.3" width="6.1" height="5.08" fill="#d8e7f1"/><rect x="563.27" y="56.3" width="15.76" height="5.08" fill="#d7e7f1"/><rect x="578.74" y="56.3" width="8.03" height="5.08" fill="#d6e7f1"/><rect x="586.47" y="56.3" width="2.23" height="5.08" fill="#d6e6f1"/><rect x="470.5" y="61.08" width="2.23" height="5.08" fill="#e3eef6"/><rect x="472.43" y="61.08" width="2.23" height="5.08" fill="#e2eef6"/><rect x="474.37" y="61.08" width="2.23" height="5.08" fill="#e2edf6"/><rect x="476.3" y="61.08" width="4.17" height="5.08" fill="#e2edf5"/><rect x="480.16" y="61.08" width="6.1" height="5.08" fill="#e1edf5"/><rect x="485.96" y="61.08" width="4.17" height="5.08" fill="#e0ecf5"/><rect x="489.83" y="61.08" width="2.23" height="5.08" fill="#e0ecf4"/><rect x="491.76" y="61.08" width="4.17" height="5.08" fill="#dfecf4"/><rect x="495.63" y="61.08" width="2.23" height="5.08" fill="#dfebf4"/><rect x="497.56" y="61.08" width="4.17" height="5.08" fill="#deebf4"/><rect x="501.42" y="61.08" width="2.23" height="5.08" fill="#deebf3"/><rect x="503.36" y="61.08" width="2.23" height="5.08" fill="#ddebf3"/><rect x="505.29" y="61.08" width="4.17" height="5.08" fill="#ddeaf3"/><rect x="509.16" y="61.08" width="4.17" height="5.08" fill="#dceaf3"/><rect x="513.02" y="61.08" width="2.23" height="5.08" fill="#dceaf2"/><rect x="514.95" y="61.08" width="2.23" height="5.08" fill="#dce9f2"/><rect x="516.89" y="61.08" width="8.03" height="5.08" fill="#dbe9f2"/><rect x="524.62" y="61.08" width="4.17" height="5.08" fill="#dae9f2"/><rect x="528.48" y="61.08" width="4.17" height="5.08" fill="#dae8f2"/><rect x="532.35" y="61.08" width="4.17" height="5.08" fill="#d9e8f2"/><rect x="536.21" y="61.08" width="4.17" height="5.08" fill="#d9e8f1"/><rect x="540.08" y="61.08" width="4.17" height="5.08" fill="#d8e8f1"/><rect x="543.95" y="61.08" width="4.17" height="5.08" fill="#d8e7f1"/><rect x="547.81" y="61.08" width="9.96" height="5.08" fill="#d7e7f1"/><rect x="557.48" y="61.08" width="6.1" height="5.08" fill="#d6e7f1"/><rect x="563.27" y="61.08" width="6.1" height="5.08" fill="#d6e6f1"/><rect x="569.07" y="61.08" width="9.96" height="5.08" fill="#d5e6f1"/><rect x="578.74" y="61.08" width="8.03" height="5.08" fill="#d5e6f0"/><rect x="586.47" y="61.08" width="2.23" height="5.08" fill="#d4e6f0"/><rect x="470.5" y="65.85" width="4.17" height="5.08" fill="#e2edf5"/><rect x="474.37" y="65.85" width="6.1" height="5.08" fill="#e1edf5"/><rect x="480.16" y="65.85" width="4.17" height="5.08" fill="#e0ecf5"/><rect x="484.03" y="65.85" width="2.23" height="5.08" fill="#e0ecf4"/><rect x="485.96" y="65.85" width="4.17" height="5.08" fill="#dfecf4"/><rect x="489.83" y="65.85" width="2.23" height="5.08" fill="#dfebf4"/><rect x="491.76" y="65.85" width="2.23" height="5.08" fill="#deebf4"/><rect x="493.69" y="65.85" width="4.17" height="5.08" fill="#deebf3"/><rect x="497.56" y="65.85" width="4.17" height="5.08" fill="#ddeaf3"/><rect x="501.42" y="65.85" width="4.17" height="5.08" fill="#dceaf3"/><rect x="505.29" y="65.85" width="2.23" height="5.08" fill="#dce9f2"/><rect x="507.22" y="65.85" width="6.1" height="5.08" fill="#dbe9f2"/><rect x="513.02" y="65.85" width="4.17" height="5.08" fill="#dae9f2"/><rect x="516.89" y="65.85" width="4.17" height="5.08" fill="#dae8f2"/><rect x="520.75" y="65.85" width="4.17" height="5.08" fill="#d9e8f2"/><rect x="524.62" y="65.85" width="4.17" height="5.08" fill="#d9e8f1"/><rect x="528.48" y="65.85" width="4.17" height="5.08" fill="#d8e8f1"/><rect x="532.35" y="65.85" width="4.17" height="5.08" fill="#d8e7f1"/><rect x="536.21" y="65.85" width="6.1" height="5.08" fill="#d7e7f1"/><rect x="542.01" y="65.85" width="4.17" height="5.08" fill="#d6e7f1"/><rect x="545.88" y="65.85" width="6.1" height="5.08" fill="#d6e6f1"/><rect x="551.68" y="65.85" width="6.1" height="5.08" fill="#d5e6f1"/><rect x="557.48" y="65.85" width="6.1" height="5.08" fill="#d5e6f0"/><rect x="563.27" y="65.85" width="6.1" height="5.08" fill="#d4e6f0"/><rect x="569.07" y="65.85" width="9.96" height="5.08" fill="#d4e5f0"/><rect x="578.74" y="65.85" width="9.96" height="5.08" fill="#d3e5f0"/><rect x="470.5" y="70.62" width="2.23" height="5.08" fill="#e0ecf4"/><rect x="472.43" y="70.62" width="2.23" height="5.08" fill="#dfecf4"/><rect x="474.37" y="70.62" width="4.17" height="5.08" fill="#dfebf4"/><rect x="478.23" y="70.62" width="2.23" height="5.08" fill="#deebf4"/><rect x="480.16" y="70.62" width="4.17" height="5.08" fill="#deebf3"/><rect x="484.03" y="70.62" width="6.1" height="5.08" fill="#ddeaf3"/><rect x="489.83" y="70.62" width="2.23" height="5.08" fill="#dceaf3"/><rect x="491.76" y="70.62" width="2.23" height="5.08" fill="#dceaf2"/><rect x="493.69" y="70.62" width="6.1" height="5.08" fill="#dbe9f2"/><rect x="499.49" y="70.62" width="2.23" height="5.08" fill="#dae9f2"/><rect x="501.42" y="70.62" width="4.17" height="5.08" fill="#dae8f2"/><rect x="505.29" y="70.62" width="2.23" height="5.08" fill="#d9e8f2"/><rect x="507.22" y="70.62" width="2.23" height="5.08" fill="#d9e8f1"/><rect x="509.16" y="70.62" width="4.17" height="5.08" fill="#d8e8f1"/><rect x="513.02" y="70.62" width="2.23" height="5.08" fill="#d8e7f1"/><rect x="514.95" y="70.62" width="8.03" height="5.08" fill="#d7e7f1"/><rect x="522.69" y="70.62" width="4.17" height="5.08" fill="#d6e7f1"/><rect x="526.55" y="70.62" width="2.23" height="5.08" fill="#d6e6f1"/><rect x="528.48" y="70.62" width="4.17" height="5.08" fill="#d5e6f1"/><rect x="532.35" y="70.62" width="4.17" height="5.08" fill="#d5e6f0"/><rect x="536.21" y="70.62" width="4.17" height="5.08" fill="#d4e6f0"/><rect x="540.08" y="70.62" width="4.17" height="5.08" fill="#d4e5f0"/><rect x="543.95" y="70.62" width="8.03" height="5.08" fill="#d3e5f0"/><rect x="551.68" y="70.62" width="4.17" height="5.08" fill="#d2e5f0"/><rect x="555.54" y="70.62" width="4.17" height="5.08" fill="#d2e4f0"/><rect x="559.41" y="70.62" width="8.03" height="5.08" fill="#d1e4ef"/><rect x="567.14" y="70.62" width="2.23" height="5.08" fill="#d0e4ef"/><rect x="569.07" y="70.62" width="8.03" height="5.08" fill="#d0e3ef"/><rect x="576.8" y="70.62" width="8.03" height="5.08" fill="#cfe3ef"/><rect x="584.53" y="70.62" width="4.17" height="5.08" fill="#cfe3ee"/><rect x="470.5" y="75.4" width="6.1" height="5.08" fill="#ddeaf3"/><rect x="476.3" y="75.4" width="2.23" height="5.08" fill="#dceaf3"/><rect x="478.23" y="75.4" width="2.23" height="5.08" fill="#dceaf2"/><rect x="480.16" y="75.4" width="2.23" height="5.08" fill="#dce9f2"/><rect x="482.1" y="75.4" width="4.17" height="5.08" fill="#dbe9f2"/><rect x="485.96" y="75.4" width="4.17" height="5.08" fill="#dae9f2"/><rect x="489.83" y="75.4" width="2.23" height="5.08" fill="#dae8f2"/><rect x="491.76" y="75.4" width="2.23" height="5.08" fill="#d9e8f2"/><rect x="493.69" y="75.4" width="4.17" height="5.08" fill="#d9e8f1"/><rect x="497.56" y="75.4" width="2.23" height="5.08" fill="#d8e8f1"/><rect x="499.49" y="75.4" width="2.23" height="5.08" fill="#d8e7f1"/><rect x="501.42" y="75.4" width="4.17" height="5.08" fill="#d7e7f1"/><rect x="505.29" y="75.4" width="4.17" height="5.08" fill="#d6e7f1"/><rect x="509.16" y="75.4" width="2.23" height="5.08" fill="#d6e6f1"/><rect x="511.09" y="75.4" width="4.17" height="5.08" fill="#d5e6f1"/><rect x="514.95" y="75.4" width="2.23" height="5.08" fill="#d5e6f0"/><rect x="516.89" y="75.4" width="4.17" height="5.08" fill="#d4e6f0"/><rect x="520.75" y="75.4" width="4.17" height="5.08" fill="#d4e5f0"/><rect x="524.62" y="75.4" width="6.1" height="5.08" fill="#d3e5f0"/><rect x="530.42" y="75.4" width="2.23" height="5.08" fill="#d2e5f0"/><rect x="532.35" y="75.4" width="2.23" height="5.08" fill="#d2e4f0"/><rect x="534.28" y="75.4" width="2.23" height="5.08" fill="#d2e4ef"/><rect x="536.21" y="75.4" width="6.1" height="5.08" fill="#d1e4ef"/><rect x="542.01" y="75.4" width="2.23" height="5.08" fill="#d0e4ef"/><rect x="543.95" y="75.4" width="4.17" height="5.08" fill="#d0e3ef"/><rect x="547.81" y="75.4" width="4.17" height="5.08" fill="#cfe3ef"/><rect x="551.68" y="75.4" width="2.23" height="5.08" fill="#cfe3ee"/><rect x="553.61" y="75.4" width="6.1" height="5.08" fill="#cee2ee"/><rect x="559.41" y="75.4" width="6.1" height="5.08" fill="#cde2ee"/><rect x="565.21" y="75.4" width="4.17" height="5.08" fill="#cce1ee"/><rect x="569.07" y="75.4" width="6.1" height="5.08" fill="#cce1ed"/><rect x="574.87" y="75.4" width="8.03" height="5.08" fill="#cbe1ed"/><rect x="582.6" y="75.4" width="2.23" height="5.08" fill="#cbe0ed"/><rect x="584.53" y="75.4" width="4.17" height="5.08" fill="#cae0ed"/><rect x="470.5" y="80.18" width="4.17" height="5.08" fill="#dbe9f2"/><rect x="474.37" y="80.18" width="2.23" height="5.08" fill="#dae9f2"/><rect x="476.3" y="80.18" width="4.17" height="5.08" fill="#dae8f2"/><rect x="480.16" y="80.18" width="2.23" height="5.08" fill="#d9e8f2"/><rect x="482.1" y="80.18" width="2.23" height="5.08" fill="#d9e8f1"/><rect x="484.03" y="80.18" width="4.17" height="5.08" fill="#d8e8f1"/><rect x="487.9" y="80.18" width="2.23" height="5.08" fill="#d8e7f1"/><rect x="489.83" y="80.18" width="4.17" height="5.08" fill="#d7e7f1"/><rect x="493.69" y="80.18" width="2.23" height="5.08" fill="#d6e7f1"/><rect x="495.63" y="80.18" width="4.17" height="5.08" fill="#d6e6f1"/><rect x="499.49" y="80.18" width="2.23" height="5.08" fill="#d5e6f1"/><rect x="501.42" y="80.18" width="2.23" height="5.08" fill="#d5e6f0"/><rect x="503.36" y="80.18" width="2.23" height="5.08" fill="#d4e6f0"/><rect x="505.29" y="80.18" width="2.23" height="5.08" fill="#d4e5f0"/><rect x="507.22" y="80.18" width="6.1" height="5.08" fill="#d3e5f0"/><rect x="513.02" y="80.18" width="2.23" height="5.08" fill="#d2e5f0"/><rect x="514.95" y="80.18" width="2.23" height="5.08" fill="#d2e4f0"/><rect x="516.89" y="80.18" width="4.17" height="5.08" fill="#d1e4ef"/><rect x="520.75" y="80.18" width="2.23" height="5.08" fill="#d0e4ef"/><rect x="522.69" y="80.18" width="2.23" height="5.08" fill="#d0e3ef"/><rect x="524.62" y="80.18" width="4.17" height="5.08" fill="#cfe3ef"/><rect x="528.48" y="80.18" width="2.23" height="5.08" fill="#cfe3ee"/><rect x="530.42" y="80.18" width="6.1" height="5.08" fill="#cee2ee"/><rect x="536.21" y="80.18" width="6.1" height="5.08" fill="#cde2ee"/><rect x="542.01" y="80.18" width="2.23" height="5.08" fill="#cde1ee"/><rect x="543.95" y="80.18" width="2.23" height="5.08" fill="#cce1ee"/><rect x="545.88" y="80.18" width="4.17" height="5.08" fill="#cce1ed"/><rect x="549.74" y="80.18" width="4.17" height="5.08" fill="#cbe1ed"/><rect x="553.61" y="80.18" width="2.23" height="5.08" fill="#cbe0ed"/><rect x="555.54" y="80.18" width="4.17" height="5.08" fill="#cae0ed"/><rect x="559.41" y="80.18" width="2.23" height="5.08" fill="#c9e0ed"/><rect x="561.34" y="80.18" width="2.23" height="5.08" fill="#c9e0ec"/><rect x="563.27" y="80.18" width="2.23" height="5.08" fill="#c9dfec"/><rect x="565.21" y="80.18" width="6.1" height="5.08" fill="#c8dfec"/><rect x="571" y="80.18" width="2.23" height="5.08" fill="#c7dfec"/><rect x="572.94" y="80.18" width="4.17" height="5.08" fill="#c7deec"/><rect x="576.8" y="80.18" width="4.17" height="5.08" fill="#c6deec"/><rect x="580.67" y="80.18" width="4.17" height="5.08" fill="#c6deeb"/><rect x="584.53" y="80.18" width="4.17" height="5.08" fill="#c5ddeb"/><rect x="470.5" y="84.95" width="4.17" height="5.08" fill="#d7e7f1"/><rect x="474.37" y="84.95" width="2.23" height="5.08" fill="#d6e7f1"/><rect x="476.3" y="84.95" width="4.17" height="5.08" fill="#d6e6f1"/><rect x="480.16" y="84.95" width="2.23" height="5.08" fill="#d5e6f1"/><rect x="482.1" y="84.95" width="2.23" height="5.08" fill="#d5e6f0"/><rect x="484.03" y="84.95" width="2.23" height="5.08" fill="#d4e6f0"/><rect x="485.96" y="84.95" width="2.23" height="5.08" fill="#d4e5f0"/><rect x="487.9" y="84.95" width="4.17" height="5.08" fill="#d3e5f0"/><rect x="491.76" y="84.95" width="2.23" height="5.08" fill="#d2e5f0"/><rect x="493.69" y="84.95" width="2.23" height="5.08" fill="#d2e4ef"/><rect x="495.63" y="84.95" width="2.23" height="5.08" fill="#d1e4ef"/><rect x="497.56" y="84.95" width="2.23" height="5.08" fill="#d0e3ef"/><rect x="499.49" y="84.95" width="2.23" height="5.08" fill="#cfe3ef"/><rect x="501.42" y="84.95" width="2.23" height="5.08" fill="#cfe3ee"/><rect x="503.36" y="84.95" width="2.23" height="5.08" fill="#cee2ee"/><rect x="505.29" y="84.95" width="2.23" height="5.08" fill="#cde2ee"/><rect x="507.22" y="84.95" width="2.23" height="5.08" fill="#cce1ee"/><rect x="509.16" y="84.95" width="2.23" height="5.08" fill="#cce1ed"/><rect x="511.09" y="84.95" width="4.17" height="5.08" fill="#cbe1ed"/><rect x="514.95" y="84.95" width="2.23" height="5.08" fill="#cbe0ed"/><rect x="516.89" y="84.95" width="4.17" height="5.08" fill="#cae0ed"/><rect x="520.75" y="84.95" width="2.23" height="5.08" fill="#c9e0ed"/><rect x="522.69" y="84.95" width="2.23" height="5.08" fill="#c9e0ec"/><rect x="524.62" y="84.95" width="2.23" height="5.08" fill="#c9dfec"/><rect x="526.55" y="84.95" width="6.1" height="5.08" fill="#c8dfec"/><rect x="532.35" y="84.95" width="2.23" height="5.08" fill="#c7deec"/><rect x="534.28" y="84.95" width="2.23" height="5.08" fill="#c6deec"/><rect x="536.21" y="84.95" width="4.17" height="5.08" fill="#c6deeb"/><rect x="540.08" y="84.95" width="2.23" height="5.08" fill="#c5ddeb"/><rect x="542.01" y="84.95" width="4.17" height="5.08" fill="#c4ddeb"/><rect x="545.88" y="84.95" width="2.23" height="5.08" fill="#c4dceb"/><rect x="547.81" y="84.95" width="2.23" height="5.08" fill="#c3dceb"/><rect x="549.74" y="84.95" width="2.23" height="5.08" fill="#c2dceb"/><rect x="551.68" y="84.95" width="4.17" height="5.08" fill="#c2dbea"/><rect x="555.54" y="84.95" width="2.23" height="5.08" fill="#c1dbea"/><rect x="557.48" y="84.95" width="6.1" height="5.08" fill="#c0daea"/><rect x="563.27" y="84.95" width="2.23" height="5.08" fill="#bfdaea"/><rect x="565.21" y="84.95" width="6.1" height="5.08" fill="#bed9e9"/><rect x="571" y="84.95" width="2.23" height="5.08" fill="#bdd9e9"/><rect x="572.94" y="84.95" width="4.17" height="5.08" fill="#bdd8e9"/><rect x="576.8" y="84.95" width="8.03" height="5.08" fill="#bcd8e9"/><rect x="584.53" y="84.95" width="4.17" height="5.08" fill="#bbd7e9"/><rect x="470.5" y="89.72" width="2.23" height="5.08" fill="#d3e5f0"/><rect x="472.43" y="89.72" width="2.23" height="5.08" fill="#d2e5f0"/><rect x="474.37" y="89.72" width="2.23" height="5.08" fill="#d2e4ef"/><rect x="476.3" y="89.72" width="2.23" height="5.08" fill="#d1e4ef"/><rect x="478.23" y="89.72" width="2.23" height="5.08" fill="#d0e3ef"/><rect x="480.16" y="89.72" width="2.23" height="5.08" fill="#cfe3ef"/><rect x="482.1" y="89.72" width="2.23" height="5.08" fill="#cfe3ee"/><rect x="484.03" y="89.72" width="2.23" height="5.08" fill="#cee2ee"/><rect x="485.96" y="89.72" width="2.23" height="5.08" fill="#cde2ee"/><rect x="487.9" y="89.72" width="2.23" height="5.08" fill="#cce1ee"/><rect x="489.83" y="89.72" width="2.23" height="5.08" fill="#cce1ed"/><rect x="491.76" y="89.72" width="2.23" height="5.08" fill="#cbe0ed"/><rect x="493.69" y="89.72" width="2.23" height="5.08" fill="#c9e0ed"/><rect x="495.63" y="89.72" width="2.23" height="5.08" fill="#c8dfec"/><rect x="497.56" y="89.72" width="2.23" height="5.08" fill="#c7deec"/><rect x="499.49" y="89.72" width="2.23" height="5.08" fill="#c6deeb"/><rect x="501.42" y="89.72" width="2.23" height="5.08" fill="#c4ddeb"/><rect x="503.36" y="89.72" width="2.23" height="5.08" fill="#c2dceb"/><rect x="505.29" y="89.72" width="2.23" height="5.08" fill="#c1dbea"/><rect x="507.22" y="89.72" width="2.23" height="5.08" fill="#c0daea"/><rect x="509.16" y="89.72" width="4.17" height="5.08" fill="#bed9e9"/><rect x="513.02" y="89.72" width="2.23" height="5.08" fill="#bdd8e9"/><rect x="514.95" y="89.72" width="6.1" height="5.08" fill="#bcd8e9"/><rect x="520.75" y="89.72" width="2.23" height="5.08" fill="#bbd7e9"/><rect x="522.69" y="89.72" width="4.17" height="5.08" fill="#bad7e8"/><rect x="526.55" y="89.72" width="2.23" height="5.08" fill="#bad6e8"/><rect x="528.48" y="89.72" width="60.22" height="5.08" fill="#b9d6e8"/><rect x="470.5" y="94.5" width="2.23" height="5.08" fill="#cce1ed"/><rect x="472.43" y="94.5" width="2.23" height="5.08" fill="#cae0ed"/><rect x="474.37" y="94.5" width="2.23" height="5.08" fill="#c9dfec"/><rect x="476.3" y="94.5" width="2.23" height="5.08" fill="#c7deec"/><rect x="478.23" y="94.5" width="2.23" height="5.08" fill="#c5ddeb"/><rect x="480.16" y="94.5" width="2.23" height="5.08" fill="#c3dceb"/><rect x="482.1" y="94.5" width="2.23" height="5.08" fill="#c1dbea"/><rect x="484.03" y="94.5" width="2.23" height="5.08" fill="#bfdaea"/><rect x="485.96" y="94.5" width="2.23" height="5.08" fill="#bdd8e9"/><rect x="487.9" y="94.5" width="2.23" height="5.08" fill="#bbd7e9"/><rect x="489.83" y="94.5" width="2.23" height="5.08" fill="#b9d6e8"/><rect x="491.76" y="94.5" width="2.23" height="5.08" fill="#b8d6e8"/><rect x="493.69" y="94.5" width="2.23" height="5.08" fill="#b8d5e8"/><rect x="495.63" y="94.5" width="2.23" height="5.08" fill="#b7d5e7"/><rect x="497.56" y="94.5" width="2.23" height="5.08" fill="#b7d4e7"/><rect x="499.49" y="94.5" width="2.23" height="5.08" fill="#b6d4e7"/><rect x="501.42" y="94.5" width="2.23" height="5.08" fill="#b5d4e7"/><rect x="503.36" y="94.5" width="2.23" height="5.08" fill="#b5d3e7"/><rect x="505.29" y="94.5" width="2.23" height="5.08" fill="#b4d3e6"/><rect x="507.22" y="94.5" width="2.23" height="5.08" fill="#b4d2e6"/><rect x="509.16" y="94.5" width="4.17" height="5.08" fill="#b3d2e6"/><rect x="513.02" y="94.5" width="2.23" height="5.08" fill="#b2d2e6"/><rect x="514.95" y="94.5" width="6.1" height="5.08" fill="#b2d1e6"/><rect x="520.75" y="94.5" width="4.17" height="5.08" fill="#b1d1e5"/><rect x="524.62" y="94.5" width="2.23" height="5.08" fill="#b1d0e5"/><rect x="526.55" y="94.5" width="4.17" height="5.08" fill="#b0d0e5"/><rect x="530.42" y="94.5" width="2.23" height="5.08" fill="#afd0e5"/><rect x="532.35" y="94.5" width="2.23" height="5.08" fill="#afcfe5"/><rect x="534.28" y="94.5" width="2.23" height="5.08" fill="#aecfe4"/><rect x="536.21" y="94.5" width="2.23" height="5.08" fill="#adcee4"/><rect x="538.15" y="94.5" width="4.17" height="5.08" fill="#accee4"/><rect x="542.01" y="94.5" width="2.23" height="5.08" fill="#abcde4"/><rect x="543.95" y="94.5" width="2.23" height="5.08" fill="#aacde3"/><rect x="545.88" y="94.5" width="4.17" height="5.08" fill="#a9cce3"/><rect x="549.74" y="94.5" width="8.03" height="5.08" fill="#a8cce3"/><rect x="557.48" y="94.5" width="2.23" height="5.08" fill="#a8cbe3"/><rect x="559.41" y="94.5" width="6.1" height="5.08" fill="#a7cbe3"/><rect x="565.21" y="94.5" width="2.23" height="5.08" fill="#a7cbe2"/><rect x="567.14" y="94.5" width="21.56" height="5.08" fill="#a6cbe2"/><rect x="470.5" y="99.28" width="2.23" height="5.08" fill="#c8dfec"/><rect x="472.43" y="99.28" width="2.23" height="5.08" fill="#c6deeb"/><rect x="474.37" y="99.28" width="2.23" height="5.08" fill="#c3dceb"/><rect x="476.3" y="99.28" width="2.23" height="5.08" fill="#c0daea"/><rect x="478.23" y="99.28" width="2.23" height="5.08" fill="#bed9e9"/><rect x="480.16" y="99.28" width="2.23" height="5.08" fill="#bcd8e9"/><rect x="482.1" y="99.28" width="2.23" height="5.08" fill="#b9d6e8"/><rect x="484.03" y="99.28" width="2.23" height="5.08" fill="#b8d5e8"/><rect x="485.96" y="99.28" width="2.23" height="5.08" fill="#b6d4e7"/><rect x="487.9" y="99.28" width="2.23" height="5.08" fill="#b4d3e6"/><rect x="489.83" y="99.28" width="2.23" height="5.08" fill="#b3d2e6"/><rect x="491.76" y="99.28" width="2.23" height="5.08" fill="#b1d1e5"/><rect x="493.69" y="99.28" width="2.23" height="5.08" fill="#afd0e5"/><rect x="495.63" y="99.28" width="2.23" height="5.08" fill="#adcee4"/><rect x="497.56" y="99.28" width="2.23" height="5.08" fill="#abcde4"/><rect x="499.49" y="99.28" width="2.23" height="5.08" fill="#a9cce3"/><rect x="501.42" y="99.28" width="2.23" height="5.08" fill="#a6cbe2"/><rect x="503.36" y="99.28" width="2.23" height="5.08" fill="#a4c9e2"/><rect x="505.29" y="99.28" width="2.23" height="5.08" fill="#a1c8e1"/><rect x="507.22" y="99.28" width="2.23" height="5.08" fill="#9dc6e0"/><rect x="509.16" y="99.28" width="2.23" height="5.08" fill="#9ac4de"/><rect x="511.09" y="99.28" width="2.23" height="5.08" fill="#99c4de"/><rect x="513.02" y="99.28" width="2.23" height="5.08" fill="#99c3de"/><rect x="514.95" y="99.28" width="4.17" height="5.08" fill="#98c3de"/><rect x="518.82" y="99.28" width="2.23" height="5.08" fill="#97c2de"/><rect x="520.75" y="99.28" width="2.23" height="5.08" fill="#97c2dd"/><rect x="522.69" y="99.28" width="4.17" height="5.08" fill="#96c2dd"/><rect x="526.55" y="99.28" width="2.23" height="5.08" fill="#95c1dd"/><rect x="528.48" y="99.28" width="4.17" height="5.08" fill="#94c1dd"/><rect x="532.35" y="99.28" width="4.17" height="5.08" fill="#93c0dc"/><rect x="536.21" y="99.28" width="4.17" height="5.08" fill="#92c0dc"/><rect x="540.08" y="99.28" width="4.17" height="5.08" fill="#91bfdc"/><rect x="543.95" y="99.28" width="2.23" height="5.08" fill="#90bfdb"/><rect x="545.88" y="99.28" width="2.23" height="5.08" fill="#90bedb"/><rect x="547.81" y="99.28" width="2.23" height="5.08" fill="#8fbedb"/><rect x="549.74" y="99.28" width="2.23" height="5.08" fill="#91bfdc"/><rect x="551.68" y="99.28" width="2.23" height="5.08" fill="#92c0dc"/><rect x="553.61" y="99.28" width="2.23" height="5.08" fill="#94c1dd"/><rect x="555.54" y="99.28" width="2.23" height="5.08" fill="#96c2dd"/><rect x="557.48" y="99.28" width="2.23" height="5.08" fill="#97c3de"/><rect x="559.41" y="99.28" width="2.23" height="5.08" fill="#99c3de"/><rect x="561.34" y="99.28" width="2.23" height="5.08" fill="#9bc4df"/><rect x="563.27" y="99.28" width="2.23" height="5.08" fill="#9cc5df"/><rect x="565.21" y="99.28" width="2.23" height="5.08" fill="#9ec6e0"/><rect x="567.14" y="99.28" width="21.56" height="5.08" fill="#a0c7e0"/><rect x="470.5" y="104.05" width="2.23" height="5.08" fill="#bed9e9"/><rect x="472.43" y="104.05" width="2.23" height="5.08" fill="#bad7e8"/><rect x="474.37" y="104.05" width="2.23" height="5.08" fill="#b8d5e8"/><rect x="476.3" y="104.05" width="2.23" height="5.08" fill="#b6d4e7"/><rect x="478.23" y="104.05" width="2.23" height="5.08" fill="#b4d2e6"/><rect x="480.16" y="104.05" width="2.23" height="5.08" fill="#b2d1e6"/><rect x="482.1" y="104.05" width="2.23" height="5.08" fill="#afd0e5"/><rect x="484.03" y="104.05" width="2.23" height="5.08" fill="#adcee4"/><rect x="485.96" y="104.05" width="2.23" height="5.08" fill="#aacde3"/><rect x="487.9" y="104.05" width="2.23" height="5.08" fill="#a8cbe3"/><rect x="489.83" y="104.05" width="2.23" height="5.08" fill="#a5cae2"/><rect x="491.76" y="104.05" width="2.23" height="5.08" fill="#9ec6e0"/><rect x="493.69" y="104.05" width="2.23" height="5.08" fill="#98c3de"/><rect x="495.63" y="104.05" width="2.23" height="5.08" fill="#91bfdc"/><rect x="497.56" y="104.05" width="2.23" height="5.08" fill="#8bbcda"/><rect x="499.49" y="104.05" width="2.23" height="5.08" fill="#85b8d8"/><rect x="501.42" y="104.05" width="2.23" height="5.08" fill="#7fb4d7"/><rect x="503.36" y="104.05" width="2.23" height="5.08" fill="#79b1d5"/><rect x="505.29" y="104.05" width="2.23" height="5.08" fill="#74aed3"/><rect x="507.22" y="104.05" width="2.23" height="5.08" fill="#6eabd1"/><rect x="509.16" y="104.05" width="2.23" height="5.08" fill="#68a7cf"/><rect x="511.09" y="104.05" width="2.23" height="5.08" fill="#66a6ce"/><rect x="513.02" y="104.05" width="2.23" height="5.08" fill="#63a4cd"/><rect x="514.95" y="104.05" width="2.23" height="5.08" fill="#60a3cc"/><rect x="516.89" y="104.05" width="2.23" height="5.08" fill="#5ea1cb"/><rect x="518.82" y="104.05" width="2.23" height="5.08" fill="#5ba0cb"/><rect x="520.75" y="104.05" width="2.23" height="5.08" fill="#599eca"/><rect x="522.69" y="104.05" width="2.23" height="5.08" fill="#579dc9"/><rect x="524.62" y="104.05" width="2.23" height="5.08" fill="#559cc8"/><rect x="526.55" y="104.05" width="2.23" height="5.08" fill="#529bc7"/><rect x="528.48" y="104.05" width="2.23" height="5.08" fill="#5099c6"/><rect x="530.42" y="104.05" width="2.23" height="5.08" fill="#529bc7"/><rect x="532.35" y="104.05" width="2.23" height="5.08" fill="#559cc8"/><rect x="534.28" y="104.05" width="2.23" height="5.08" fill="#579dc9"/><rect x="536.21" y="104.05" width="2.23" height="5.08" fill="#599eca"/><rect x="538.15" y="104.05" width="2.23" height="5.08" fill="#5ba0cb"/><rect x="540.08" y="104.05" width="2.23" height="5.08" fill="#5ea1cb"/><rect x="542.01" y="104.05" width="2.23" height="5.08" fill="#60a3cc"/><rect x="543.95" y="104.05" width="2.23" height="5.08" fill="#63a4cd"/><rect x="545.88" y="104.05" width="2.23" height="5.08" fill="#66a6ce"/><rect x="547.81" y="104.05" width="2.23" height="5.08" fill="#68a7cf"/><rect x="549.74" y="104.05" width="2.23" height="5.08" fill="#6daad1"/><rect x="551.68" y="104.05" width="2.23" height="5.08" fill="#72add2"/><rect x="553.61" y="104.05" width="2.23" height="5.08" fill="#77b0d4"/><rect x="555.54" y="104.05" width="2.23" height="5.08" fill="#7bb2d5"/><rect x="557.48" y="104.05" width="2.23" height="5.08" fill="#80b5d7"/><rect x="559.41" y="104.05" width="2.23" height="5.08" fill="#85b8d8"/><rect x="561.34" y="104.05" width="2.23" height="5.08" fill="#8abbda"/><rect x="563.27" y="104.05" width="2.23" height="5.08" fill="#8fbedb"/><rect x="565.21" y="104.05" width="2.23" height="5.08" fill="#95c1dd"/><rect x="567.14" y="104.05" width="2.23" height="5.08" fill="#9ac4de"/><rect x="569.07" y="104.05" width="2.23" height="5.08" fill="#9bc5df"/><rect x="571" y="104.05" width="2.23" height="5.08" fill="#9cc5df"/><rect x="572.94" y="104.05" width="2.23" height="5.08" fill="#9dc6e0"/><rect x="574.87" y="104.05" width="2.23" height="5.08" fill="#9ec6e0"/><rect x="576.8" y="104.05" width="2.23" height="5.08" fill="#a0c7e0"/><rect x="578.74" y="104.05" width="2.23" height="5.08" fill="#a1c8e1"/><rect x="580.67" y="104.05" width="2.23" height="5.08" fill="#a2c8e1"/><rect x="582.6" y="104.05" width="2.23" height="5.08" fill="#a3c9e1"/><rect x="584.53" y="104.05" width="2.23" height="5.08" fill="#a4c9e2"/><rect x="586.47" y="104.05" width="2.23" height="5.08" fill="#a5cae2"/><rect x="470.5" y="108.83" width="2.23" height="5.08" fill="#b3d2e6"/><rect x="472.43" y="108.83" width="2.23" height="5.08" fill="#b2d1e6"/><rect x="474.37" y="108.83" width="2.23" height="5.08" fill="#b1d0e5"/><rect x="476.3" y="108.83" width="2.23" height="5.08" fill="#afd0e5"/><rect x="478.23" y="108.83" width="2.23" height="5.08" fill="#aecfe4"/><rect x="480.16" y="108.83" width="2.23" height="5.08" fill="#accee4"/><rect x="482.1" y="108.83" width="2.23" height="5.08" fill="#abcde4"/><rect x="484.03" y="108.83" width="2.23" height="5.08" fill="#a9cce3"/><rect x="485.96" y="108.83" width="2.23" height="5.08" fill="#a8cce3"/><rect x="487.9" y="108.83" width="2.23" height="5.08" fill="#68a7cf"/><rect x="489.83" y="108.83" width="2.23" height="5.08" fill="#5a9fca"/><rect x="491.76" y="108.83" width="2.23" height="5.08" fill="#4d97c5"/><rect x="493.69" y="108.83" width="2.23" height="5.08" fill="#4190c1"/><rect x="495.63" y="108.83" width="2.23" height="5.08" fill="#2a6f9c"/><rect x="497.56" y="108.83" width="2.23" height="5.08" fill="#225f86"/><rect x="499.49" y="108.83" width="2.23" height="5.08" fill="#1a4f70"/><rect x="501.42" y="108.83" width="15.76" height="5.08" fill="#0a1820"/><rect x="516.89" y="108.83" width="2.23" height="5.08" fill="#133b54"/><rect x="518.82" y="108.83" width="6.1" height="5.08" fill="#24628a"/><rect x="524.62" y="108.83" width="4.17" height="5.08" fill="#3585b7"/><rect x="528.48" y="108.83" width="6.1" height="5.08" fill="#2a78a8"/><rect x="534.28" y="108.83" width="8.03" height="5.08" fill="#4995c4"/><rect x="542.01" y="108.83" width="11.9" height="5.08" fill="#80b5d7"/><rect x="553.61" y="108.83" width="15.76" height="5.08" fill="#a5cae2"/><rect x="569.07" y="108.83" width="19.63" height="5.08" fill="#b2d1e6"/></g>
<line x1="465.6" y1="25.26" x2="470.5" y2="25.26" stroke="#111111" stroke-width="1.15"/>
<text x="461.5" y="27.86" font-size="8" font-family='"Liberation Serif", serif' fill="#222222" text-anchor="end" textLength="10.2" lengthAdjust="spacingAndGlyphs" stroke="#222" stroke-width="0.25">1.9</text>
<line x1="465.6" y1="34.81" x2="470.5" y2="34.81" stroke="#111111" stroke-width="1.15"/>
<text x="461.5" y="37.41" font-size="8" font-family='"Liberation Serif", serif' fill="#222222" text-anchor="end" textLength="10.2" lengthAdjust="spacingAndGlyphs" stroke="#222" stroke-width="0.25">1.7</text>
<line x1="465.6" y1="44.36" x2="470.5" y2="44.36" stroke="#111111" stroke-width="1.15"/>
<text x="461.5" y="46.96" font-size="8" font-family='"Liberation Serif", serif' fill="#222222" text-anchor="end" textLength="10.2" lengthAdjust="spacingAndGlyphs" stroke="#222" stroke-width="0.25">1.5</text>
<line x1="465.6" y1="53.91" x2="470.5" y2="53.91" stroke="#111111" stroke-width="1.15"/>
<text x="461.5" y="56.51" font-size="8" font-family='"Liberation Serif", serif' fill="#222222" text-anchor="end" textLength="10.2" lengthAdjust="spacingAndGlyphs" stroke="#222" stroke-width="0.25">1.3</text>
<line x1="465.6" y1="63.46" x2="470.5" y2="63.46" stroke="#111111" stroke-width="1.15"/>
<text x="461.5" y="66.06" font-size="8" font-family='"Liberation Serif", serif' fill="#222222" text-anchor="end" textLength="10.2" lengthAdjust="spacingAndGlyphs" stroke="#222" stroke-width="0.25">1.1</text>
<line x1="465.6" y1="73.01" x2="470.5" y2="73.01" stroke="#111111" stroke-width="1.15"/>
<text x="461.5" y="75.61" font-size="8" font-family='"Liberation Serif", serif' fill="#222222" text-anchor="end" textLength="10.2" lengthAdjust="spacingAndGlyphs" stroke="#222" stroke-width="0.25">0.9</text>
<line x1="465.6" y1="82.56" x2="470.5" y2="82.56" stroke="#111111" stroke-width="1.15"/>
<text x="461.5" y="85.16" font-size="8" font-family='"Liberation Serif", serif' fill="#222222" text-anchor="end" textLength="10.2" lengthAdjust="spacingAndGlyphs" stroke="#222" stroke-width="0.25">0.7</text>
<line x1="465.6" y1="92.11" x2="470.5" y2="92.11" stroke="#111111" stroke-width="1.15"/>
<text x="461.5" y="94.71" font-size="8" font-family='"Liberation Serif", serif' fill="#222222" text-anchor="end" textLength="10.2" lengthAdjust="spacingAndGlyphs" stroke="#222" stroke-width="0.25">0.5</text>
<line x1="465.6" y1="101.66" x2="470.5" y2="101.66" stroke="#111111" stroke-width="1.15"/>
<text x="461.5" y="104.26" font-size="8" font-family='"Liberation Serif", serif' fill="#222222" text-anchor="end" textLength="10.2" lengthAdjust="spacingAndGlyphs" stroke="#222" stroke-width="0.25">0.3</text>
<line x1="465.6" y1="111.21" x2="470.5" y2="111.21" stroke="#111111" stroke-width="1.15"/>
<text x="461.5" y="113.81" font-size="8" font-family='"Liberation Serif", serif' fill="#222222" text-anchor="end" textLength="10.2" lengthAdjust="spacingAndGlyphs" stroke="#222" stroke-width="0.25">0.1</text>
<path d="M446.3,57.3 C445.8,59.5 444.7,61.9 444.9,62.6 C445.2,63.3 446.9,62.9 448.1,61.6" fill="none" stroke="#111111" stroke-width="0.95" stroke-linecap="round"/>
<line x1="471.22" y1="113.6" x2="471.22" y2="118.5" stroke="#111111" stroke-width="1.15"/>
<text x="0" y="0" transform="translate(473.82,123.7) rotate(-90)" font-size="8" font-family='"Liberation Serif", serif' fill="#222222" text-anchor="end" textLength="10.3" lengthAdjust="spacingAndGlyphs" stroke="#222" stroke-width="0.25">0.9</text>
<line x1="480.88" y1="113.6" x2="480.88" y2="118.5" stroke="#111111" stroke-width="1.15"/>
<text x="0" y="0" transform="translate(483.48,123.7) rotate(-90)" font-size="8" font-family='"Liberation Serif", serif' fill="#222222" text-anchor="end" textLength="14.3" lengthAdjust="spacingAndGlyphs" stroke="#222" stroke-width="0.25">0.95</text>
<line x1="490.54" y1="113.6" x2="490.54" y2="118.5" stroke="#111111" stroke-width="1.15"/>
<text x="0" y="0" transform="translate(493.14,123.7) rotate(-90)" font-size="8" font-family='"Liberation Serif", serif' fill="#222222" text-anchor="end" textLength="10.3" lengthAdjust="spacingAndGlyphs" stroke="#222" stroke-width="0.25">1.0</text>
<line x1="500.21" y1="113.6" x2="500.21" y2="118.5" stroke="#111111" stroke-width="1.15"/>
<text x="0" y="0" transform="translate(502.81,123.7) rotate(-90)" font-size="8" font-family='"Liberation Serif", serif' fill="#222222" text-anchor="end" textLength="14.3" lengthAdjust="spacingAndGlyphs" stroke="#222" stroke-width="0.25">1.05</text>
<line x1="509.87" y1="113.6" x2="509.87" y2="118.5" stroke="#111111" stroke-width="1.15"/>
<text x="0" y="0" transform="translate(512.47,123.7) rotate(-90)" font-size="8" font-family='"Liberation Serif", serif' fill="#222222" text-anchor="end" textLength="10.3" lengthAdjust="spacingAndGlyphs" stroke="#222" stroke-width="0.25">1.1</text>
<line x1="519.54" y1="113.6" x2="519.54" y2="118.5" stroke="#111111" stroke-width="1.15"/>
<text x="0" y="0" transform="translate(522.14,123.7) rotate(-90)" font-size="8" font-family='"Liberation Serif", serif' fill="#222222" text-anchor="end" textLength="14.3" lengthAdjust="spacingAndGlyphs" stroke="#222" stroke-width="0.25">1.15</text>
<line x1="529.2" y1="113.6" x2="529.2" y2="118.5" stroke="#111111" stroke-width="1.15"/>
<text x="0" y="0" transform="translate(531.8,123.7) rotate(-90)" font-size="8" font-family='"Liberation Serif", serif' fill="#222222" text-anchor="end" textLength="10.3" lengthAdjust="spacingAndGlyphs" stroke="#222" stroke-width="0.25">1.2</text>
<line x1="538.86" y1="113.6" x2="538.86" y2="118.5" stroke="#111111" stroke-width="1.15"/>
<text x="0" y="0" transform="translate(541.46,123.7) rotate(-90)" font-size="8" font-family='"Liberation Serif", serif' fill="#222222" text-anchor="end" textLength="14.3" lengthAdjust="spacingAndGlyphs" stroke="#222" stroke-width="0.25">1.25</text>
<line x1="548.53" y1="113.6" x2="548.53" y2="118.5" stroke="#111111" stroke-width="1.15"/>
<text x="0" y="0" transform="translate(551.13,123.7) rotate(-90)" font-size="8" font-family='"Liberation Serif", serif' fill="#222222" text-anchor="end" textLength="10.3" lengthAdjust="spacingAndGlyphs" stroke="#222" stroke-width="0.25">1.3</text>
<line x1="558.19" y1="113.6" x2="558.19" y2="118.5" stroke="#111111" stroke-width="1.15"/>
<text x="0" y="0" transform="translate(560.79,123.7) rotate(-90)" font-size="8" font-family='"Liberation Serif", serif' fill="#222222" text-anchor="end" textLength="14.3" lengthAdjust="spacingAndGlyphs" stroke="#222" stroke-width="0.25">1.35</text>
<line x1="567.86" y1="113.6" x2="567.86" y2="118.5" stroke="#111111" stroke-width="1.15"/>
<text x="0" y="0" transform="translate(570.46,123.7) rotate(-90)" font-size="8" font-family='"Liberation Serif", serif' fill="#222222" text-anchor="end" textLength="10.3" lengthAdjust="spacingAndGlyphs" stroke="#222" stroke-width="0.25">1.4</text>
<line x1="577.52" y1="113.6" x2="577.52" y2="118.5" stroke="#111111" stroke-width="1.15"/>
<text x="0" y="0" transform="translate(580.12,123.7) rotate(-90)" font-size="8" font-family='"Liberation Serif", serif' fill="#222222" text-anchor="end" textLength="14.3" lengthAdjust="spacingAndGlyphs" stroke="#222" stroke-width="0.25">1.45</text>
<line x1="587.18" y1="113.6" x2="587.18" y2="118.5" stroke="#111111" stroke-width="1.15"/>
<text x="0" y="0" transform="translate(589.78,123.7) rotate(-90)" font-size="8" font-family='"Liberation Serif", serif' fill="#222222" text-anchor="end" textLength="10.3" lengthAdjust="spacingAndGlyphs" stroke="#222" stroke-width="0.25">1.5</text>
<ellipse cx="530.7" cy="150.5" rx="2.55" ry="3.15" transform="rotate(25 530.7 150.5)" fill="none" stroke="#111111" stroke-width="1.0"/>
<path d="M528.1,149.9 L526.2,157.3" fill="none" stroke="#111111" stroke-width="1.15" stroke-linecap="round"/>
<path d="M471.3,141 L473.95,146.8 L472.7,146.8 L472.7,155.6 L469.9,155.6 L469.9,146.8 L468.65,146.8 Z" fill="none" stroke="#ee6a5c" stroke-width="1.2" stroke-linejoin="miter"/>
<path d="M515.8,141 L518.45,146.8 L517.2,146.8 L517.2,155.6 L514.4,155.6 L514.4,146.8 L513.15,146.8 Z" fill="none" stroke="#45a8db" stroke-width="1.2" stroke-linejoin="miter"/>
<defs><linearGradient id="g595" x1="0" y1="1" x2="0" y2="0"><stop offset="0" stop-color="#eff4f8"/><stop offset="0.03" stop-color="#e8f1f7"/><stop offset="0.06" stop-color="#e3eef6"/><stop offset="0.09" stop-color="#dbe9f2"/><stop offset="0.12" stop-color="#d3e5f0"/><stop offset="0.15" stop-color="#c8dfec"/><stop offset="0.18" stop-color="#b9d6e8"/><stop offset="0.22" stop-color="#b0d0e5"/><stop offset="0.25" stop-color="#a5cae2"/><stop offset="0.29" stop-color="#8fbedb"/><stop offset="0.32" stop-color="#80b5d7"/><stop offset="0.4" stop-color="#5fa2cc"/><stop offset="0.51" stop-color="#3a8cbe"/><stop offset="0.57" stop-color="#2a78a8"/><stop offset="0.61" stop-color="#2a6f9c"/><stop offset="0.72" stop-color="#1a4f70"/><stop offset="0.83" stop-color="#0f2d42"/><stop offset="0.95" stop-color="#0a1820"/><stop offset="1" stop-color="#040608"/></linearGradient></defs>
<rect x="595.4" y="18.2" width="5" height="95.6" fill="url(#g595)"/>
<line x1="600.3" y1="96.16" x2="607.7" y2="96.16" stroke="#111111" stroke-width="1.2"/>
<text x="612.6" y="98.86" font-size="8" font-family='"Liberation Serif", serif' fill="#222222" textLength="13.8" lengthAdjust="spacingAndGlyphs">100</text>
<line x1="600.3" y1="75.64" x2="607.7" y2="75.64" stroke="#111111" stroke-width="1.2"/>
<text x="612.6" y="78.34" font-size="8" font-family='"Liberation Serif", serif' fill="#222222" textLength="13.8" lengthAdjust="spacingAndGlyphs">200</text>
<line x1="600.3" y1="55.13" x2="607.7" y2="55.13" stroke="#111111" stroke-width="1.2"/>
<text x="612.6" y="57.83" font-size="8" font-family='"Liberation Serif", serif' fill="#222222" textLength="13.8" lengthAdjust="spacingAndGlyphs">300</text>
<line x1="600.3" y1="34.61" x2="607.7" y2="34.61" stroke="#111111" stroke-width="1.2"/>
<text x="612.6" y="37.31" font-size="8" font-family='"Liberation Serif", serif' fill="#222222" textLength="13.8" lengthAdjust="spacingAndGlyphs">400</text>
<text x="0" y="0" transform="translate(643.4,66.2) rotate(-90)" font-size="13.4" font-family='"Liberation Sans", sans-serif' fill="#262626" text-anchor="middle" textLength="67.6" lengthAdjust="spacingAndGlyphs">max. delay</text>
<rect x="43.42" y="227.38" width="5.45" height="82.82" fill="#505b7d"/>
<rect x="43.42" y="215.63" width="5.45" height="11.75" fill="#319a77"/>
<rect x="50.18" y="245.87" width="5.45" height="64.33" fill="#505b7d"/>
<rect x="50.18" y="215.44" width="5.45" height="30.43" fill="#319a77"/>
<rect x="56.95" y="256.08" width="5.45" height="54.12" fill="#505b7d"/>
<rect x="56.95" y="215.63" width="5.45" height="40.45" fill="#319a77"/>
<rect x="63.71" y="264.17" width="5.45" height="46.03" fill="#505b7d"/>
<rect x="63.71" y="216.21" width="5.45" height="47.96" fill="#319a77"/>
<rect x="70.47" y="270.33" width="5.45" height="39.87" fill="#505b7d"/>
<rect x="70.47" y="217.17" width="5.45" height="53.16" fill="#319a77"/>
<rect x="70.47" y="216.98" width="5.45" height="0.19" fill="#5cb46b"/>
<rect x="77.22" y="276.3" width="5.45" height="33.9" fill="#505b7d"/>
<rect x="77.22" y="220.06" width="5.45" height="56.24" fill="#319a77"/>
<rect x="77.22" y="217.94" width="5.45" height="2.12" fill="#5cb46b"/>
<rect x="77.22" y="217.75" width="5.45" height="0.19" fill="#dad86c"/>
<rect x="77.22" y="217.56" width="5.45" height="0.19" fill="#eeeeb8"/>
<rect x="83.99" y="278.81" width="5.45" height="31.39" fill="#505b7d"/>
<rect x="83.99" y="221.03" width="5.45" height="57.78" fill="#319a77"/>
<rect x="83.99" y="217.94" width="5.45" height="3.08" fill="#5cb46b"/>
<rect x="83.99" y="217.75" width="5.45" height="0.19" fill="#dad86c"/>
<rect x="90.75" y="281.12" width="5.45" height="29.08" fill="#505b7d"/>
<rect x="90.75" y="221.99" width="5.45" height="59.13" fill="#319a77"/>
<rect x="90.75" y="217.75" width="5.45" height="4.24" fill="#5cb46b"/>
<rect x="90.75" y="217.56" width="5.45" height="0.19" fill="#dad86c"/>
<rect x="90.75" y="217.37" width="5.45" height="0.19" fill="#eeeeb8"/>
<rect x="97.5" y="283.62" width="5.45" height="26.58" fill="#505b7d"/>
<rect x="97.5" y="224.11" width="5.45" height="59.51" fill="#319a77"/>
<rect x="97.5" y="218.33" width="5.45" height="5.78" fill="#5cb46b"/>
<rect x="97.5" y="218.14" width="5.45" height="0.19" fill="#dad86c"/>
<rect x="97.5" y="217.94" width="5.45" height="0.19" fill="#eeeeb8"/>
<rect x="104.27" y="285.93" width="5.45" height="24.27" fill="#505b7d"/>
<rect x="104.27" y="226.03" width="5.45" height="59.9" fill="#319a77"/>
<rect x="104.27" y="217.37" width="5.45" height="8.67" fill="#5cb46b"/>
<rect x="104.27" y="217.17" width="5.45" height="0.19" fill="#eeeeb8"/>
<rect x="111.03" y="286.12" width="5.45" height="24.07" fill="#505b7d"/>
<rect x="111.03" y="226.42" width="5.45" height="59.71" fill="#319a77"/>
<rect x="111.03" y="217.94" width="5.45" height="8.47" fill="#5cb46b"/>
<rect x="111.03" y="217.75" width="5.45" height="0.19" fill="#eeeeb8"/>
<rect x="117.78" y="289.01" width="5.45" height="21.19" fill="#505b7d"/>
<rect x="117.78" y="231.23" width="5.45" height="57.78" fill="#319a77"/>
<rect x="117.78" y="218.52" width="5.45" height="12.71" fill="#5cb46b"/>
<rect x="117.78" y="218.33" width="5.45" height="0.19" fill="#dad86c"/>
<rect x="117.78" y="218.14" width="5.45" height="0.19" fill="#eeeeb8"/>
<rect x="124.55" y="291.13" width="5.45" height="19.07" fill="#505b7d"/>
<rect x="124.55" y="235.09" width="5.45" height="56.05" fill="#319a77"/>
<rect x="124.55" y="220.06" width="5.45" height="15.02" fill="#5cb46b"/>
<rect x="124.55" y="218.14" width="5.45" height="1.93" fill="#dad86c"/>
<rect x="124.55" y="217.75" width="5.45" height="0.39" fill="#eeeeb8"/>
<rect x="131.31" y="291.13" width="5.45" height="19.07" fill="#505b7d"/>
<rect x="131.31" y="234.51" width="5.45" height="56.62" fill="#319a77"/>
<rect x="131.31" y="220.06" width="5.45" height="14.45" fill="#5cb46b"/>
<rect x="131.31" y="218.33" width="5.45" height="1.73" fill="#dad86c"/>
<rect x="131.31" y="217.94" width="5.45" height="0.39" fill="#eeeeb8"/>
<rect x="138.06" y="291.71" width="5.45" height="18.49" fill="#505b7d"/>
<rect x="138.06" y="236.05" width="5.45" height="55.66" fill="#319a77"/>
<rect x="138.06" y="220.06" width="5.45" height="15.99" fill="#5cb46b"/>
<rect x="138.06" y="218.33" width="5.45" height="1.73" fill="#dad86c"/>
<rect x="138.06" y="217.94" width="5.45" height="0.39" fill="#eeeeb8"/>
<rect x="144.82" y="292.48" width="5.45" height="17.72" fill="#505b7d"/>
<rect x="144.82" y="239.32" width="5.45" height="53.16" fill="#319a77"/>
<rect x="144.82" y="221.8" width="5.45" height="17.53" fill="#5cb46b"/>
<rect x="144.82" y="219.29" width="5.45" height="2.5" fill="#dad86c"/>
<rect x="144.82" y="218.52" width="5.45" height="0.77" fill="#eeeeb8"/>
<rect x="151.59" y="293.64" width="5.45" height="16.56" fill="#505b7d"/>
<rect x="151.59" y="242.21" width="5.45" height="51.42" fill="#319a77"/>
<rect x="151.59" y="222.76" width="5.45" height="19.45" fill="#5cb46b"/>
<rect x="151.59" y="218.71" width="5.45" height="4.04" fill="#dad86c"/>
<rect x="151.59" y="218.14" width="5.45" height="0.58" fill="#eeeeb8"/>
<rect x="158.34" y="294.21" width="5.45" height="15.99" fill="#505b7d"/>
<rect x="158.34" y="244.33" width="5.45" height="49.88" fill="#319a77"/>
<rect x="158.34" y="223.14" width="5.45" height="21.19" fill="#5cb46b"/>
<rect x="158.34" y="218.33" width="5.45" height="4.81" fill="#dad86c"/>
<rect x="158.34" y="217.94" width="5.45" height="0.39" fill="#eeeeb8"/>
<rect x="165.1" y="293.64" width="5.45" height="16.56" fill="#505b7d"/>
<rect x="165.1" y="244.14" width="5.45" height="49.5" fill="#319a77"/>
<rect x="165.1" y="223.92" width="5.45" height="20.22" fill="#5cb46b"/>
<rect x="165.1" y="218.33" width="5.45" height="5.59" fill="#dad86c"/>
<rect x="165.1" y="217.94" width="5.45" height="0.39" fill="#eeeeb8"/>
<rect x="171.87" y="295.18" width="5.45" height="15.02" fill="#505b7d"/>
<rect x="171.87" y="249.15" width="5.45" height="46.03" fill="#319a77"/>
<rect x="171.87" y="226.03" width="5.45" height="23.11" fill="#5cb46b"/>
<rect x="171.87" y="219.29" width="5.45" height="6.74" fill="#dad86c"/>
<rect x="171.87" y="218.52" width="5.45" height="0.77" fill="#eeeeb8"/>
<rect x="36.5" y="213.7" width="147.9" height="96.5" fill="none" stroke="#ee6554" stroke-width="1.5"/>
<line x1="31.9" y1="310.2" x2="35.8" y2="310.2" stroke="#333" stroke-width="1.15"/>
<text x="28.1" y="312.9" font-size="8" font-family='"Liberation Serif", serif' fill="#222222" text-anchor="end" textLength="4.6" lengthAdjust="spacingAndGlyphs">0</text>
<line x1="31.9" y1="290.94" x2="35.8" y2="290.94" stroke="#333" stroke-width="1.15"/>
<text x="28.1" y="293.64" font-size="8" font-family='"Liberation Serif", serif' fill="#222222" text-anchor="end" textLength="9.3" lengthAdjust="spacingAndGlyphs">10</text>
<line x1="31.9" y1="271.68" x2="35.8" y2="271.68" stroke="#333" stroke-width="1.15"/>
<text x="28.1" y="274.38" font-size="8" font-family='"Liberation Serif", serif' fill="#222222" text-anchor="end" textLength="9.3" lengthAdjust="spacingAndGlyphs">20</text>
<line x1="31.9" y1="252.42" x2="35.8" y2="252.42" stroke="#333" stroke-width="1.15"/>
<text x="28.1" y="255.12" font-size="8" font-family='"Liberation Serif", serif' fill="#222222" text-anchor="end" textLength="9.3" lengthAdjust="spacingAndGlyphs">30</text>
<line x1="31.9" y1="233.16" x2="35.8" y2="233.16" stroke="#333" stroke-width="1.15"/>
<text x="28.1" y="235.86" font-size="8" font-family='"Liberation Serif", serif' fill="#222222" text-anchor="end" textLength="9.3" lengthAdjust="spacingAndGlyphs">40</text>
<line x1="31.9" y1="213.9" x2="35.8" y2="213.9" stroke="#333" stroke-width="1.15"/>
<text x="28.1" y="216.6" font-size="8" font-family='"Liberation Serif", serif' fill="#222222" text-anchor="end" textLength="9.3" lengthAdjust="spacingAndGlyphs">50</text>
<line x1="46.15" y1="310.9" x2="46.15" y2="314.8" stroke="#111111" stroke-width="1.1"/>
<text x="0" y="0" transform="translate(48.05,319.2) rotate(-90)" font-size="6.2" font-family='"Liberation Serif", serif' fill="#1a1a1a" text-anchor="end" textLength="10.6" lengthAdjust="spacingAndGlyphs" stroke="#1a1a1a" stroke-width="0.15">0.1</text>
<line x1="52.91" y1="310.9" x2="52.91" y2="314.8" stroke="#111111" stroke-width="1.1"/>
<text x="0" y="0" transform="translate(54.81,319.2) rotate(-90)" font-size="6.2" font-family='"Liberation Serif", serif' fill="#1a1a1a" text-anchor="end" textLength="10.6" lengthAdjust="spacingAndGlyphs" stroke="#1a1a1a" stroke-width="0.15">0.2</text>
<line x1="59.67" y1="310.9" x2="59.67" y2="314.8" stroke="#111111" stroke-width="1.1"/>
<text x="0" y="0" transform="translate(61.57,319.2) rotate(-90)" font-size="6.2" font-family='"Liberation Serif", serif' fill="#1a1a1a" text-anchor="end" textLength="10.6" lengthAdjust="spacingAndGlyphs" stroke="#1a1a1a" stroke-width="0.15">0.3</text>
<line x1="66.43" y1="310.9" x2="66.43" y2="314.8" stroke="#111111" stroke-width="1.1"/>
<text x="0" y="0" transform="translate(68.33,319.2) rotate(-90)" font-size="6.2" font-family='"Liberation Serif", serif' fill="#1a1a1a" text-anchor="end" textLength="10.6" lengthAdjust="spacingAndGlyphs" stroke="#1a1a1a" stroke-width="0.15">0.4</text>
<line x1="73.19" y1="310.9" x2="73.19" y2="314.8" stroke="#111111" stroke-width="1.1"/>
<text x="0" y="0" transform="translate(75.09,319.2) rotate(-90)" font-size="6.2" font-family='"Liberation Serif", serif' fill="#1a1a1a" text-anchor="end" textLength="10.6" lengthAdjust="spacingAndGlyphs" stroke="#1a1a1a" stroke-width="0.15">0.5</text>
<line x1="79.95" y1="310.9" x2="79.95" y2="314.8" stroke="#111111" stroke-width="1.1"/>
<text x="0" y="0" transform="translate(81.85,319.2) rotate(-90)" font-size="6.2" font-family='"Liberation Serif", serif' fill="#1a1a1a" text-anchor="end" textLength="10.6" lengthAdjust="spacingAndGlyphs" stroke="#1a1a1a" stroke-width="0.15">0.6</text>
<line x1="86.71" y1="310.9" x2="86.71" y2="314.8" stroke="#111111" stroke-width="1.1"/>
<text x="0" y="0" transform="translate(88.61,319.2) rotate(-90)" font-size="6.2" font-family='"Liberation Serif", serif' fill="#1a1a1a" text-anchor="end" textLength="10.6" lengthAdjust="spacingAndGlyphs" stroke="#1a1a1a" stroke-width="0.15">0.7</text>
<line x1="93.47" y1="310.9" x2="93.47" y2="314.8" stroke="#111111" stroke-width="1.1"/>
<text x="0" y="0" transform="translate(95.37,319.2) rotate(-90)" font-size="6.2" font-family='"Liberation Serif", serif' fill="#1a1a1a" text-anchor="end" textLength="10.6" lengthAdjust="spacingAndGlyphs" stroke="#1a1a1a" stroke-width="0.15">0.8</text>
<line x1="100.23" y1="310.9" x2="100.23" y2="314.8" stroke="#111111" stroke-width="1.1"/>
<text x="0" y="0" transform="translate(102.13,319.2) rotate(-90)" font-size="6.2" font-family='"Liberation Serif", serif' fill="#1a1a1a" text-anchor="end" textLength="10.6" lengthAdjust="spacingAndGlyphs" stroke="#1a1a1a" stroke-width="0.15">0.9</text>
<line x1="106.99" y1="310.9" x2="106.99" y2="314.8" stroke="#111111" stroke-width="1.1"/>
<text x="0" y="0" transform="translate(108.89,319.2) rotate(-90)" font-size="6.2" font-family='"Liberation Serif", serif' fill="#1a1a1a" text-anchor="end" textLength="10.6" lengthAdjust="spacingAndGlyphs" stroke="#1a1a1a" stroke-width="0.15">1.0</text>
<line x1="113.75" y1="310.9" x2="113.75" y2="314.8" stroke="#111111" stroke-width="1.1"/>
<text x="0" y="0" transform="translate(115.65,319.2) rotate(-90)" font-size="6.2" font-family='"Liberation Serif", serif' fill="#1a1a1a" text-anchor="end" textLength="10.6" lengthAdjust="spacingAndGlyphs" stroke="#1a1a1a" stroke-width="0.15">1.1</text>
<line x1="120.51" y1="310.9" x2="120.51" y2="314.8" stroke="#111111" stroke-width="1.1"/>
<text x="0" y="0" transform="translate(122.41,319.2) rotate(-90)" font-size="6.2" font-family='"Liberation Serif", serif' fill="#1a1a1a" text-anchor="end" textLength="10.6" lengthAdjust="spacingAndGlyphs" stroke="#1a1a1a" stroke-width="0.15">1.2</text>
<line x1="127.27" y1="310.9" x2="127.27" y2="314.8" stroke="#111111" stroke-width="1.1"/>
<text x="0" y="0" transform="translate(129.17,319.2) rotate(-90)" font-size="6.2" font-family='"Liberation Serif", serif' fill="#1a1a1a" text-anchor="end" textLength="10.6" lengthAdjust="spacingAndGlyphs" stroke="#1a1a1a" stroke-width="0.15">1.3</text>
<line x1="134.03" y1="310.9" x2="134.03" y2="314.8" stroke="#111111" stroke-width="1.1"/>
<text x="0" y="0" transform="translate(135.93,319.2) rotate(-90)" font-size="6.2" font-family='"Liberation Serif", serif' fill="#1a1a1a" text-anchor="end" textLength="10.6" lengthAdjust="spacingAndGlyphs" stroke="#1a1a1a" stroke-width="0.15">1.4</text>
<line x1="140.79" y1="310.9" x2="140.79" y2="314.8" stroke="#111111" stroke-width="1.1"/>
<text x="0" y="0" transform="translate(142.69,319.2) rotate(-90)" font-size="6.2" font-family='"Liberation Serif", serif' fill="#1a1a1a" text-anchor="end" textLength="10.6" lengthAdjust="spacingAndGlyphs" stroke="#1a1a1a" stroke-width="0.15">1.5</text>
<line x1="147.55" y1="310.9" x2="147.55" y2="314.8" stroke="#111111" stroke-width="1.1"/>
<text x="0" y="0" transform="translate(149.45,319.2) rotate(-90)" font-size="6.2" font-family='"Liberation Serif", serif' fill="#1a1a1a" text-anchor="end" textLength="10.6" lengthAdjust="spacingAndGlyphs" stroke="#1a1a1a" stroke-width="0.15">1.6</text>
<line x1="154.31" y1="310.9" x2="154.31" y2="314.8" stroke="#111111" stroke-width="1.1"/>
<text x="0" y="0" transform="translate(156.21,319.2) rotate(-90)" font-size="6.2" font-family='"Liberation Serif", serif' fill="#1a1a1a" text-anchor="end" textLength="10.6" lengthAdjust="spacingAndGlyphs" stroke="#1a1a1a" stroke-width="0.15">1.7</text>
<line x1="161.07" y1="310.9" x2="161.07" y2="314.8" stroke="#111111" stroke-width="1.1"/>
<text x="0" y="0" transform="translate(162.97,319.2) rotate(-90)" font-size="6.2" font-family='"Liberation Serif", serif' fill="#1a1a1a" text-anchor="end" textLength="10.6" lengthAdjust="spacingAndGlyphs" stroke="#1a1a1a" stroke-width="0.15">1.8</text>
<line x1="167.83" y1="310.9" x2="167.83" y2="314.8" stroke="#111111" stroke-width="1.1"/>
<text x="0" y="0" transform="translate(169.73,319.2) rotate(-90)" font-size="6.2" font-family='"Liberation Serif", serif' fill="#1a1a1a" text-anchor="end" textLength="10.6" lengthAdjust="spacingAndGlyphs" stroke="#1a1a1a" stroke-width="0.15">1.9</text>
<line x1="174.59" y1="310.9" x2="174.59" y2="314.8" stroke="#111111" stroke-width="1.1"/>
<text x="0" y="0" transform="translate(176.49,319.2) rotate(-90)" font-size="6.2" font-family='"Liberation Serif", serif' fill="#1a1a1a" text-anchor="end" textLength="10.6" lengthAdjust="spacingAndGlyphs" stroke="#1a1a1a" stroke-width="0.15">2.0</text>
<text x="0" y="0" transform="translate(11,262) rotate(-90)" font-size="13.4" font-family='"Liberation Sans", sans-serif' fill="#262626" text-anchor="middle" textLength="51.7" lengthAdjust="spacingAndGlyphs">capacity</text>
<path d="M111.8,339.2 C111.3,341.4 110.2,343.8 110.4,344.5 C110.7,345.2 112.4,344.8 113.6,343.5" fill="none" stroke="#111111" stroke-width="0.95" stroke-linecap="round"/>
<text x="1.8" y="202" font-size="19.5" font-family='"Liberation Sans", sans-serif' fill="#111111" textLength="14.2" lengthAdjust="spacingAndGlyphs">D</text>
<text x="47.8" y="206.2" font-size="13.4" font-family='"Liberation Sans", sans-serif' fill="#262626" textLength="59.9" lengthAdjust="spacingAndGlyphs">capacities</text>
<text x="112.5" y="206.2" font-size="15.2" font-family='"Liberation Serif", serif' fill="#111111" textLength="59.3" lengthAdjust="spacingAndGlyphs">(<tspan font-style="italic">ρ</tspan> = 0.9)</text>
<path d="M174.5,332.6 L177.15,338.4 L175.9,338.4 L175.9,347.2 L173.1,347.2 L173.1,338.4 L171.85,338.4 Z" fill="none" stroke="#f7b34a" stroke-width="1.2" stroke-linejoin="miter"/>
<rect x="246.62" y="278.23" width="5.45" height="31.97" fill="#505b7d"/>
<rect x="246.62" y="277.84" width="5.45" height="0.39" fill="#dad86c"/>
<rect x="253.39" y="254.35" width="5.45" height="55.85" fill="#505b7d"/>
<rect x="253.39" y="254.15" width="5.45" height="0.19" fill="#dad86c"/>
<rect x="260.14" y="254.35" width="5.45" height="55.85" fill="#505b7d"/>
<rect x="260.14" y="254.15" width="5.45" height="0.19" fill="#dad86c"/>
<rect x="266.9" y="257.81" width="5.45" height="52.39" fill="#505b7d"/>
<rect x="266.9" y="252.61" width="5.45" height="5.2" fill="#319a77"/>
<rect x="266.9" y="252.42" width="5.45" height="0.19" fill="#5cb46b"/>
<rect x="266.9" y="252.23" width="5.45" height="0.19" fill="#dad86c"/>
<rect x="273.66" y="262.05" width="5.45" height="48.15" fill="#505b7d"/>
<rect x="273.66" y="240.48" width="5.45" height="21.57" fill="#319a77"/>
<rect x="273.66" y="240.29" width="5.45" height="0.19" fill="#5cb46b"/>
<rect x="273.66" y="240.09" width="5.45" height="0.19" fill="#dad86c"/>
<rect x="280.42" y="267.83" width="5.45" height="42.37" fill="#505b7d"/>
<rect x="280.42" y="237.2" width="5.45" height="30.62" fill="#319a77"/>
<rect x="280.42" y="237.01" width="5.45" height="0.19" fill="#5cb46b"/>
<rect x="280.42" y="236.82" width="5.45" height="0.19" fill="#dad86c"/>
<rect x="287.18" y="272.26" width="5.45" height="37.94" fill="#505b7d"/>
<rect x="287.18" y="235.66" width="5.45" height="36.59" fill="#319a77"/>
<rect x="287.18" y="235.47" width="5.45" height="0.19" fill="#5cb46b"/>
<rect x="287.18" y="235.28" width="5.45" height="0.19" fill="#dad86c"/>
<rect x="293.94" y="276.3" width="5.45" height="33.9" fill="#505b7d"/>
<rect x="293.94" y="235.66" width="5.45" height="40.64" fill="#319a77"/>
<rect x="293.94" y="235.47" width="5.45" height="0.19" fill="#5cb46b"/>
<rect x="293.94" y="235.28" width="5.45" height="0.19" fill="#dad86c"/>
<rect x="300.7" y="279.38" width="5.45" height="30.82" fill="#505b7d"/>
<rect x="300.7" y="235.66" width="5.45" height="43.72" fill="#319a77"/>
<rect x="300.7" y="234.51" width="5.45" height="1.16" fill="#5cb46b"/>
<rect x="300.7" y="234.32" width="5.45" height="0.19" fill="#dad86c"/>
<rect x="307.46" y="282.27" width="5.45" height="27.93" fill="#505b7d"/>
<rect x="307.46" y="237.2" width="5.45" height="45.07" fill="#319a77"/>
<rect x="307.46" y="232.58" width="5.45" height="4.62" fill="#5cb46b"/>
<rect x="307.46" y="232.39" width="5.45" height="0.19" fill="#dad86c"/>
<rect x="314.22" y="282.27" width="5.45" height="27.93" fill="#505b7d"/>
<rect x="314.22" y="238.36" width="5.45" height="43.91" fill="#319a77"/>
<rect x="314.22" y="232.2" width="5.45" height="6.16" fill="#5cb46b"/>
<rect x="320.98" y="284.97" width="5.45" height="25.23" fill="#505b7d"/>
<rect x="320.98" y="239.32" width="5.45" height="45.65" fill="#319a77"/>
<rect x="320.98" y="231.43" width="5.45" height="7.9" fill="#5cb46b"/>
<rect x="320.98" y="231.23" width="5.45" height="0.19" fill="#dad86c"/>
<rect x="327.75" y="289.01" width="5.45" height="21.19" fill="#505b7d"/>
<rect x="327.75" y="241.63" width="5.45" height="47.38" fill="#319a77"/>
<rect x="327.75" y="229.69" width="5.45" height="11.94" fill="#5cb46b"/>
<rect x="327.75" y="229.31" width="5.45" height="0.39" fill="#dad86c"/>
<rect x="334.5" y="287.47" width="5.45" height="22.73" fill="#505b7d"/>
<rect x="334.5" y="241.25" width="5.45" height="46.22" fill="#319a77"/>
<rect x="334.5" y="229.69" width="5.45" height="11.56" fill="#5cb46b"/>
<rect x="334.5" y="229.31" width="5.45" height="0.39" fill="#dad86c"/>
<rect x="341.26" y="289.78" width="5.45" height="20.42" fill="#505b7d"/>
<rect x="341.26" y="243.75" width="5.45" height="46.03" fill="#319a77"/>
<rect x="341.26" y="229.12" width="5.45" height="14.64" fill="#5cb46b"/>
<rect x="341.26" y="228.15" width="5.45" height="0.96" fill="#dad86c"/>
<rect x="348.02" y="289.4" width="5.45" height="20.8" fill="#505b7d"/>
<rect x="348.02" y="242.79" width="5.45" height="46.61" fill="#319a77"/>
<rect x="348.02" y="229.12" width="5.45" height="13.67" fill="#5cb46b"/>
<rect x="348.02" y="228.15" width="5.45" height="0.96" fill="#dad86c"/>
<rect x="354.78" y="292.29" width="5.45" height="17.91" fill="#505b7d"/>
<rect x="354.78" y="246.64" width="5.45" height="45.65" fill="#319a77"/>
<rect x="354.78" y="229.89" width="5.45" height="16.76" fill="#5cb46b"/>
<rect x="354.78" y="227.38" width="5.45" height="2.5" fill="#dad86c"/>
<rect x="361.54" y="292.48" width="5.45" height="17.72" fill="#505b7d"/>
<rect x="361.54" y="247.22" width="5.45" height="45.26" fill="#319a77"/>
<rect x="361.54" y="229.69" width="5.45" height="17.53" fill="#5cb46b"/>
<rect x="361.54" y="227.19" width="5.45" height="2.5" fill="#dad86c"/>
<rect x="368.3" y="293.06" width="5.45" height="17.14" fill="#505b7d"/>
<rect x="368.3" y="248.18" width="5.45" height="44.88" fill="#319a77"/>
<rect x="368.3" y="229.69" width="5.45" height="18.49" fill="#5cb46b"/>
<rect x="368.3" y="226.42" width="5.45" height="3.27" fill="#dad86c"/>
<rect x="375.06" y="293.06" width="5.45" height="17.14" fill="#505b7d"/>
<rect x="375.06" y="249.72" width="5.45" height="43.34" fill="#319a77"/>
<rect x="375.06" y="231.43" width="5.45" height="18.3" fill="#5cb46b"/>
<rect x="375.06" y="227.19" width="5.45" height="4.24" fill="#dad86c"/>
<rect x="239.7" y="213.7" width="147.9" height="96.5" fill="none" stroke="#3fa6da" stroke-width="1.5"/>
<line x1="235.1" y1="310.2" x2="239" y2="310.2" stroke="#333" stroke-width="1.15"/>
<text x="231.3" y="312.9" font-size="8" font-family='"Liberation Serif", serif' fill="#222222" text-anchor="end" textLength="4.6" lengthAdjust="spacingAndGlyphs">0</text>
<line x1="235.1" y1="290.94" x2="239" y2="290.94" stroke="#333" stroke-width="1.15"/>
<text x="231.3" y="293.64" font-size="8" font-family='"Liberation Serif", serif' fill="#222222" text-anchor="end" textLength="9.3" lengthAdjust="spacingAndGlyphs">10</text>
<line x1="235.1" y1="271.68" x2="239" y2="271.68" stroke="#333" stroke-width="1.15"/>
<text x="231.3" y="274.38" font-size="8" font-family='"Liberation Serif", serif' fill="#222222" text-anchor="end" textLength="9.3" lengthAdjust="spacingAndGlyphs">20</text>
<line x1="235.1" y1="252.42" x2="239" y2="252.42" stroke="#333" stroke-width="1.15"/>
<text x="231.3" y="255.12" font-size="8" font-family='"Liberation Serif", serif' fill="#222222" text-anchor="end" textLength="9.3" lengthAdjust="spacingAndGlyphs">30</text>
<line x1="235.1" y1="233.16" x2="239" y2="233.16" stroke="#333" stroke-width="1.15"/>
<text x="231.3" y="235.86" font-size="8" font-family='"Liberation Serif", serif' fill="#222222" text-anchor="end" textLength="9.3" lengthAdjust="spacingAndGlyphs">40</text>
<line x1="235.1" y1="213.9" x2="239" y2="213.9" stroke="#333" stroke-width="1.15"/>
<text x="231.3" y="216.6" font-size="8" font-family='"Liberation Serif", serif' fill="#222222" text-anchor="end" textLength="9.3" lengthAdjust="spacingAndGlyphs">50</text>
<line x1="249.35" y1="310.9" x2="249.35" y2="314.8" stroke="#111111" stroke-width="1.1"/>
<text x="0" y="0" transform="translate(251.25,319.2) rotate(-90)" font-size="6.2" font-family='"Liberation Serif", serif' fill="#1a1a1a" text-anchor="end" textLength="10.6" lengthAdjust="spacingAndGlyphs" stroke="#1a1a1a" stroke-width="0.15">0.1</text>
<line x1="256.11" y1="310.9" x2="256.11" y2="314.8" stroke="#111111" stroke-width="1.1"/>
<text x="0" y="0" transform="translate(258.01,319.2) rotate(-90)" font-size="6.2" font-family='"Liberation Serif", serif' fill="#1a1a1a" text-anchor="end" textLength="10.6" lengthAdjust="spacingAndGlyphs" stroke="#1a1a1a" stroke-width="0.15">0.2</text>
<line x1="262.87" y1="310.9" x2="262.87" y2="314.8" stroke="#111111" stroke-width="1.1"/>
<text x="0" y="0" transform="translate(264.77,319.2) rotate(-90)" font-size="6.2" font-family='"Liberation Serif", serif' fill="#1a1a1a" text-anchor="end" textLength="10.6" lengthAdjust="spacingAndGlyphs" stroke="#1a1a1a" stroke-width="0.15">0.3</text>
<line x1="269.63" y1="310.9" x2="269.63" y2="314.8" stroke="#111111" stroke-width="1.1"/>
<text x="0" y="0" transform="translate(271.53,319.2) rotate(-90)" font-size="6.2" font-family='"Liberation Serif", serif' fill="#1a1a1a" text-anchor="end" textLength="10.6" lengthAdjust="spacingAndGlyphs" stroke="#1a1a1a" stroke-width="0.15">0.4</text>
<line x1="276.39" y1="310.9" x2="276.39" y2="314.8" stroke="#111111" stroke-width="1.1"/>
<text x="0" y="0" transform="translate(278.29,319.2) rotate(-90)" font-size="6.2" font-family='"Liberation Serif", serif' fill="#1a1a1a" text-anchor="end" textLength="10.6" lengthAdjust="spacingAndGlyphs" stroke="#1a1a1a" stroke-width="0.15">0.5</text>
<line x1="283.15" y1="310.9" x2="283.15" y2="314.8" stroke="#111111" stroke-width="1.1"/>
<text x="0" y="0" transform="translate(285.05,319.2) rotate(-90)" font-size="6.2" font-family='"Liberation Serif", serif' fill="#1a1a1a" text-anchor="end" textLength="10.6" lengthAdjust="spacingAndGlyphs" stroke="#1a1a1a" stroke-width="0.15">0.6</text>
<line x1="289.91" y1="310.9" x2="289.91" y2="314.8" stroke="#111111" stroke-width="1.1"/>
<text x="0" y="0" transform="translate(291.81,319.2) rotate(-90)" font-size="6.2" font-family='"Liberation Serif", serif' fill="#1a1a1a" text-anchor="end" textLength="10.6" lengthAdjust="spacingAndGlyphs" stroke="#1a1a1a" stroke-width="0.15">0.7</text>
<line x1="296.67" y1="310.9" x2="296.67" y2="314.8" stroke="#111111" stroke-width="1.1"/>
<text x="0" y="0" transform="translate(298.57,319.2) rotate(-90)" font-size="6.2" font-family='"Liberation Serif", serif' fill="#1a1a1a" text-anchor="end" textLength="10.6" lengthAdjust="spacingAndGlyphs" stroke="#1a1a1a" stroke-width="0.15">0.8</text>
<line x1="303.43" y1="310.9" x2="303.43" y2="314.8" stroke="#111111" stroke-width="1.1"/>
<text x="0" y="0" transform="translate(305.33,319.2) rotate(-90)" font-size="6.2" font-family='"Liberation Serif", serif' fill="#1a1a1a" text-anchor="end" textLength="10.6" lengthAdjust="spacingAndGlyphs" stroke="#1a1a1a" stroke-width="0.15">0.9</text>
<line x1="310.19" y1="310.9" x2="310.19" y2="314.8" stroke="#111111" stroke-width="1.1"/>
<text x="0" y="0" transform="translate(312.09,319.2) rotate(-90)" font-size="6.2" font-family='"Liberation Serif", serif' fill="#1a1a1a" text-anchor="end" textLength="10.6" lengthAdjust="spacingAndGlyphs" stroke="#1a1a1a" stroke-width="0.15">1.0</text>
<line x1="316.95" y1="310.9" x2="316.95" y2="314.8" stroke="#111111" stroke-width="1.1"/>
<text x="0" y="0" transform="translate(318.85,319.2) rotate(-90)" font-size="6.2" font-family='"Liberation Serif", serif' fill="#1a1a1a" text-anchor="end" textLength="10.6" lengthAdjust="spacingAndGlyphs" stroke="#1a1a1a" stroke-width="0.15">1.1</text>
<line x1="323.71" y1="310.9" x2="323.71" y2="314.8" stroke="#111111" stroke-width="1.1"/>
<text x="0" y="0" transform="translate(325.61,319.2) rotate(-90)" font-size="6.2" font-family='"Liberation Serif", serif' fill="#1a1a1a" text-anchor="end" textLength="10.6" lengthAdjust="spacingAndGlyphs" stroke="#1a1a1a" stroke-width="0.15">1.2</text>
<line x1="330.47" y1="310.9" x2="330.47" y2="314.8" stroke="#111111" stroke-width="1.1"/>
<text x="0" y="0" transform="translate(332.37,319.2) rotate(-90)" font-size="6.2" font-family='"Liberation Serif", serif' fill="#1a1a1a" text-anchor="end" textLength="10.6" lengthAdjust="spacingAndGlyphs" stroke="#1a1a1a" stroke-width="0.15">1.3</text>
<line x1="337.23" y1="310.9" x2="337.23" y2="314.8" stroke="#111111" stroke-width="1.1"/>
<text x="0" y="0" transform="translate(339.13,319.2) rotate(-90)" font-size="6.2" font-family='"Liberation Serif", serif' fill="#1a1a1a" text-anchor="end" textLength="10.6" lengthAdjust="spacingAndGlyphs" stroke="#1a1a1a" stroke-width="0.15">1.4</text>
<line x1="343.99" y1="310.9" x2="343.99" y2="314.8" stroke="#111111" stroke-width="1.1"/>
<text x="0" y="0" transform="translate(345.89,319.2) rotate(-90)" font-size="6.2" font-family='"Liberation Serif", serif' fill="#1a1a1a" text-anchor="end" textLength="10.6" lengthAdjust="spacingAndGlyphs" stroke="#1a1a1a" stroke-width="0.15">1.5</text>
<line x1="350.75" y1="310.9" x2="350.75" y2="314.8" stroke="#111111" stroke-width="1.1"/>
<text x="0" y="0" transform="translate(352.65,319.2) rotate(-90)" font-size="6.2" font-family='"Liberation Serif", serif' fill="#1a1a1a" text-anchor="end" textLength="10.6" lengthAdjust="spacingAndGlyphs" stroke="#1a1a1a" stroke-width="0.15">1.6</text>
<line x1="357.51" y1="310.9" x2="357.51" y2="314.8" stroke="#111111" stroke-width="1.1"/>
<text x="0" y="0" transform="translate(359.41,319.2) rotate(-90)" font-size="6.2" font-family='"Liberation Serif", serif' fill="#1a1a1a" text-anchor="end" textLength="10.6" lengthAdjust="spacingAndGlyphs" stroke="#1a1a1a" stroke-width="0.15">1.7</text>
<line x1="364.27" y1="310.9" x2="364.27" y2="314.8" stroke="#111111" stroke-width="1.1"/>
<text x="0" y="0" transform="translate(366.17,319.2) rotate(-90)" font-size="6.2" font-family='"Liberation Serif", serif' fill="#1a1a1a" text-anchor="end" textLength="10.6" lengthAdjust="spacingAndGlyphs" stroke="#1a1a1a" stroke-width="0.15">1.8</text>
<line x1="371.03" y1="310.9" x2="371.03" y2="314.8" stroke="#111111" stroke-width="1.1"/>
<text x="0" y="0" transform="translate(372.93,319.2) rotate(-90)" font-size="6.2" font-family='"Liberation Serif", serif' fill="#1a1a1a" text-anchor="end" textLength="10.6" lengthAdjust="spacingAndGlyphs" stroke="#1a1a1a" stroke-width="0.15">1.9</text>
<line x1="377.79" y1="310.9" x2="377.79" y2="314.8" stroke="#111111" stroke-width="1.1"/>
<text x="0" y="0" transform="translate(379.69,319.2) rotate(-90)" font-size="6.2" font-family='"Liberation Serif", serif' fill="#1a1a1a" text-anchor="end" textLength="10.6" lengthAdjust="spacingAndGlyphs" stroke="#1a1a1a" stroke-width="0.15">2.0</text>
<text x="0" y="0" transform="translate(211.7,262) rotate(-90)" font-size="13.4" font-family='"Liberation Sans", sans-serif' fill="#262626" text-anchor="middle" textLength="51.7" lengthAdjust="spacingAndGlyphs">capacity</text>
<path d="M314,339.2 C313.5,341.4 312.4,343.8 312.6,344.5 C312.9,345.2 314.6,344.8 315.8,343.5" fill="none" stroke="#111111" stroke-width="0.95" stroke-linecap="round"/>
<text x="215.3" y="202" font-size="19.5" font-family='"Liberation Sans", sans-serif' fill="#111111" textLength="12.6" lengthAdjust="spacingAndGlyphs">E</text>
<text x="246.6" y="206.2" font-size="13.4" font-family='"Liberation Sans", sans-serif' fill="#262626" textLength="59.9" lengthAdjust="spacingAndGlyphs">capacities</text>
<text x="312.3" y="206.2" font-size="15.2" font-family='"Liberation Serif", serif' fill="#111111" textLength="66.7" lengthAdjust="spacingAndGlyphs">(<tspan font-style="italic">ρ</tspan> = 1.13)</text>
<path d="M249.2,332.6 L251.85,338.4 L250.6,338.4 L250.6,347.2 L247.8,347.2 L247.8,338.4 L246.55,338.4 Z" fill="none" stroke="#55c784" stroke-width="1.2" stroke-linejoin="miter"/>
<rect x="428.6" y="211.6" width="194" height="100.4" rx="2.5" ry="2.5" fill="#eaeaf2" stroke="#d2d2d8" stroke-width="1"/>
<line x1="432.9" y1="220.3" x2="456.9" y2="220.3" stroke="#505b7d" stroke-width="5.7" stroke-linecap="round"/>
<text x="466.4" y="225.3" font-size="10.6" font-family='"Liberation Sans", sans-serif' fill="#222" textLength="41" lengthAdjust="spacingAndGlyphs">degree 1</text>
<line x1="536.7" y1="220.3" x2="560.7" y2="220.3" stroke="#243e8b" stroke-width="5.7" stroke-linecap="round"/>
<text x="570.2" y="225.3" font-size="10.6" font-family='"Liberation Sans", sans-serif' fill="#222" textLength="41" lengthAdjust="spacingAndGlyphs">degree 2</text>
<line x1="432.9" y1="236.35" x2="456.9" y2="236.35" stroke="#319a77" stroke-width="5.7" stroke-linecap="round"/>
<text x="466.4" y="241.35" font-size="10.6" font-family='"Liberation Sans", sans-serif' fill="#222" textLength="41" lengthAdjust="spacingAndGlyphs">degree 3</text>
<line x1="536.7" y1="236.35" x2="560.7" y2="236.35" stroke="#4f2c70" stroke-width="5.7" stroke-linecap="round"/>
<text x="570.2" y="241.35" font-size="10.6" font-family='"Liberation Sans", sans-serif' fill="#222" textLength="41" lengthAdjust="spacingAndGlyphs">degree 4</text>
<line x1="432.9" y1="252.4" x2="456.9" y2="252.4" stroke="#5cb46b" stroke-width="5.7" stroke-linecap="round"/>
<text x="466.4" y="257.4" font-size="10.6" font-family='"Liberation Sans", sans-serif' fill="#222" textLength="41" lengthAdjust="spacingAndGlyphs">degree 5</text>
<line x1="536.7" y1="252.4" x2="560.7" y2="252.4" stroke="#8b3a78" stroke-width="5.7" stroke-linecap="round"/>
<text x="570.2" y="257.4" font-size="10.6" font-family='"Liberation Sans", sans-serif' fill="#222" textLength="41" lengthAdjust="spacingAndGlyphs">degree 6</text>
<line x1="432.9" y1="268.45" x2="456.9" y2="268.45" stroke="#dad86c" stroke-width="5.7" stroke-linecap="round"/>
<text x="466.4" y="273.45" font-size="10.6" font-family='"Liberation Sans", sans-serif' fill="#222" textLength="41" lengthAdjust="spacingAndGlyphs">degree 7</text>
<line x1="536.7" y1="268.45" x2="560.7" y2="268.45" stroke="#c73f79" stroke-width="5.7" stroke-linecap="round"/>
<text x="570.2" y="273.45" font-size="10.6" font-family='"Liberation Sans", sans-serif' fill="#222" textLength="41" lengthAdjust="spacingAndGlyphs">degree 8</text>
<line x1="432.9" y1="284.5" x2="456.9" y2="284.5" stroke="#eeeeb8" stroke-width="5.7" stroke-linecap="round"/>
<text x="466.4" y="289.5" font-size="10.6" font-family='"Liberation Sans", sans-serif' fill="#222" textLength="41" lengthAdjust="spacingAndGlyphs">degree 9</text>
<line x1="536.7" y1="284.5" x2="560.7" y2="284.5" stroke="#ef4a7e" stroke-width="5.7" stroke-linecap="round"/>
<text x="570.2" y="289.5" font-size="10.6" font-family='"Liberation Sans", sans-serif' fill="#222" textLength="47.3" lengthAdjust="spacingAndGlyphs">degree 10</text>
<line x1="432.9" y1="300.55" x2="456.9" y2="300.55" stroke="#000000" stroke-width="5.7" stroke-linecap="round"/>
<text x="466.4" y="305.55" font-size="10.6" font-family='"Liberation Sans", sans-serif' fill="#222" textLength="47.3" lengthAdjust="spacingAndGlyphs">degree 11</text>
<path d="M655.9,20.9 H676.3 V445.6 H684.2 L666.1,486.7 L647.8,445.6 H655.9 Z" fill="none" stroke="#2a2a2a" stroke-width="1.3"/>
<text x="0" y="0" transform="translate(669.9,253.4) rotate(-90)" font-size="13.4" font-family='"Liberation Sans", sans-serif' fill="#262626" text-anchor="middle" textLength="76.5" lengthAdjust="spacingAndGlyphs">more details</text>
<rect x="48.55" y="467.97" width="12.3" height="8.83" fill="#505b7d"/>
<rect x="48.55" y="459.96" width="12.3" height="8" fill="#319a77"/>
<rect x="63.75" y="467.97" width="12.3" height="8.83" fill="#505b7d"/>
<rect x="63.75" y="446.81" width="12.3" height="21.16" fill="#319a77"/>
<rect x="63.75" y="441.2" width="12.3" height="5.61" fill="#5cb46b"/>
<rect x="63.75" y="438.8" width="12.3" height="2.39" fill="#dad86c"/>
<rect x="63.75" y="438.16" width="12.3" height="0.64" fill="#eeeeb8"/>
<rect x="78.95" y="467.97" width="12.3" height="8.83" fill="#505b7d"/>
<rect x="78.95" y="433.84" width="12.3" height="34.13" fill="#319a77"/>
<rect x="78.95" y="418.93" width="12.3" height="14.9" fill="#5cb46b"/>
<rect x="78.95" y="413.78" width="12.3" height="5.15" fill="#dad86c"/>
<rect x="78.95" y="413.04" width="12.3" height="0.74" fill="#eeeeb8"/>
<rect x="78.95" y="412.58" width="12.3" height="0.46" fill="#000000"/>
<rect x="94.15" y="467.97" width="12.3" height="8.83" fill="#505b7d"/>
<rect x="94.15" y="424.91" width="12.3" height="43.06" fill="#319a77"/>
<rect x="94.15" y="403.02" width="12.3" height="21.9" fill="#5cb46b"/>
<rect x="94.15" y="395.56" width="12.3" height="7.45" fill="#dad86c"/>
<rect x="94.15" y="394" width="12.3" height="1.56" fill="#eeeeb8"/>
<rect x="109.35" y="468.89" width="12.3" height="7.91" fill="#505b7d"/>
<rect x="109.35" y="428.04" width="12.3" height="40.85" fill="#319a77"/>
<rect x="109.35" y="406.51" width="12.3" height="21.53" fill="#5cb46b"/>
<rect x="109.35" y="398.6" width="12.3" height="7.91" fill="#dad86c"/>
<rect x="109.35" y="397.31" width="12.3" height="1.29" fill="#eeeeb8"/>
<rect x="124.55" y="469.81" width="12.3" height="6.99" fill="#505b7d"/>
<rect x="124.55" y="440" width="12.3" height="29.81" fill="#319a77"/>
<rect x="124.55" y="423.44" width="12.3" height="16.56" fill="#5cb46b"/>
<rect x="124.55" y="417" width="12.3" height="6.44" fill="#dad86c"/>
<rect x="139.75" y="469.99" width="12.3" height="6.81" fill="#505b7d"/>
<rect x="139.75" y="449.02" width="12.3" height="20.98" fill="#319a77"/>
<rect x="139.75" y="437.88" width="12.3" height="11.13" fill="#5cb46b"/>
<rect x="139.75" y="434.76" width="12.3" height="3.13" fill="#dad86c"/>
<rect x="154.95" y="470.91" width="12.3" height="5.89" fill="#505b7d"/>
<rect x="154.95" y="459.78" width="12.3" height="11.13" fill="#319a77"/>
<rect x="154.95" y="452.7" width="12.3" height="7.08" fill="#5cb46b"/>
<rect x="154.95" y="451.78" width="12.3" height="0.92" fill="#dad86c"/>
<rect x="170.15" y="472.57" width="12.3" height="4.23" fill="#505b7d"/>
<rect x="170.15" y="466.68" width="12.3" height="5.89" fill="#319a77"/>
<rect x="170.15" y="463" width="12.3" height="3.68" fill="#5cb46b"/>
<rect x="185.35" y="474.04" width="12.3" height="2.76" fill="#505b7d"/>
<rect x="185.35" y="471.28" width="12.3" height="2.76" fill="#319a77"/>
<rect x="185.35" y="470.36" width="12.3" height="0.92" fill="#5cb46b"/>
<rect x="200.55" y="476.06" width="12.3" height="0.74" fill="#505b7d"/>
<rect x="200.55" y="474.22" width="12.3" height="1.84" fill="#319a77"/>
<rect x="215.75" y="476.62" width="12.3" height="0.18" fill="#505b7d"/>
<rect x="215.75" y="476.25" width="12.3" height="0.37" fill="#319a77"/>
<rect x="230.95" y="476.52" width="12.3" height="0.28" fill="#319a77"/>
<rect x="246.15" y="476.62" width="12.3" height="0.18" fill="#319a77"/>
<rect x="261.35" y="476.62" width="12.3" height="0.18" fill="#319a77"/>
<rect x="276.55" y="476.71" width="12.3" height="0.09" fill="#319a77"/>
<rect x="291.75" y="476.71" width="12.3" height="0.09" fill="#319a77"/>
<rect x="36.5" y="390.5" width="264.2" height="86.3" fill="none" stroke="#f8b74e" stroke-width="1.5"/>
<line x1="31.6" y1="476.8" x2="35.8" y2="476.8" stroke="#333" stroke-width="1.15"/>
<text x="27.9" y="479.6" font-size="8" font-family='"Liberation Serif", serif' fill="#222222" text-anchor="end" textLength="4.4" lengthAdjust="spacingAndGlyphs">0</text>
<line x1="31.6" y1="458.4" x2="35.8" y2="458.4" stroke="#333" stroke-width="1.15"/>
<text x="27.9" y="461.2" font-size="8" font-family='"Liberation Serif", serif' fill="#222222" text-anchor="end" textLength="4.4" lengthAdjust="spacingAndGlyphs">2</text>
<line x1="31.6" y1="440" x2="35.8" y2="440" stroke="#333" stroke-width="1.15"/>
<text x="27.9" y="442.8" font-size="8" font-family='"Liberation Serif", serif' fill="#222222" text-anchor="end" textLength="4.4" lengthAdjust="spacingAndGlyphs">4</text>
<line x1="31.6" y1="421.6" x2="35.8" y2="421.6" stroke="#333" stroke-width="1.15"/>
<text x="27.9" y="424.4" font-size="8" font-family='"Liberation Serif", serif' fill="#222222" text-anchor="end" textLength="4.4" lengthAdjust="spacingAndGlyphs">6</text>
<line x1="31.6" y1="403.2" x2="35.8" y2="403.2" stroke="#333" stroke-width="1.15"/>
<text x="27.9" y="406" font-size="8" font-family='"Liberation Serif", serif' fill="#222222" text-anchor="end" textLength="4.4" lengthAdjust="spacingAndGlyphs">8</text>
<line x1="54.7" y1="477.5" x2="54.7" y2="481.6" stroke="#111111" stroke-width="1.15"/>
<text x="54.7" y="491.8" font-size="8" font-family='"Liberation Serif", serif' fill="#222222" text-anchor="middle" textLength="4.5" lengthAdjust="spacingAndGlyphs">0</text>
<line x1="85.1" y1="477.5" x2="85.1" y2="481.6" stroke="#111111" stroke-width="1.15"/>
<text x="85.1" y="491.8" font-size="8" font-family='"Liberation Serif", serif' fill="#222222" text-anchor="middle" textLength="4.5" lengthAdjust="spacingAndGlyphs">2</text>
<line x1="115.5" y1="477.5" x2="115.5" y2="481.6" stroke="#111111" stroke-width="1.15"/>
<text x="115.5" y="491.8" font-size="8" font-family='"Liberation Serif", serif' fill="#222222" text-anchor="middle" textLength="4.5" lengthAdjust="spacingAndGlyphs">4</text>
<line x1="145.9" y1="477.5" x2="145.9" y2="481.6" stroke="#111111" stroke-width="1.15"/>
<text x="145.9" y="491.8" font-size="8" font-family='"Liberation Serif", serif' fill="#222222" text-anchor="middle" textLength="4.5" lengthAdjust="spacingAndGlyphs">6</text>
<line x1="176.3" y1="477.5" x2="176.3" y2="481.6" stroke="#111111" stroke-width="1.15"/>
<text x="176.3" y="491.8" font-size="8" font-family='"Liberation Serif", serif' fill="#222222" text-anchor="middle" textLength="4.5" lengthAdjust="spacingAndGlyphs">8</text>
<line x1="206.7" y1="477.5" x2="206.7" y2="481.6" stroke="#111111" stroke-width="1.15"/>
<text x="206.7" y="491.8" font-size="8" font-family='"Liberation Serif", serif' fill="#222222" text-anchor="middle" textLength="9" lengthAdjust="spacingAndGlyphs">10</text>
<line x1="237.1" y1="477.5" x2="237.1" y2="481.6" stroke="#111111" stroke-width="1.15"/>
<text x="237.1" y="491.8" font-size="8" font-family='"Liberation Serif", serif' fill="#222222" text-anchor="middle" textLength="9" lengthAdjust="spacingAndGlyphs">12</text>
<line x1="267.5" y1="477.5" x2="267.5" y2="481.6" stroke="#111111" stroke-width="1.15"/>
<text x="267.5" y="491.8" font-size="8" font-family='"Liberation Serif", serif' fill="#222222" text-anchor="middle" textLength="9" lengthAdjust="spacingAndGlyphs">14</text>
<line x1="297.9" y1="477.5" x2="297.9" y2="481.6" stroke="#111111" stroke-width="1.15"/>
<text x="297.9" y="491.8" font-size="8" font-family='"Liberation Serif", serif' fill="#222222" text-anchor="middle" textLength="9" lengthAdjust="spacingAndGlyphs">16</text>
<text x="0" y="0" transform="translate(14.9,433.5) rotate(-90)" font-size="13.4" font-family='"Liberation Sans", sans-serif' fill="#262626" text-anchor="middle" textLength="51.8" lengthAdjust="spacingAndGlyphs">capacity</text>
<text x="169" y="508.6" font-size="13.4" font-family='"Liberation Sans", sans-serif' fill="#262626" text-anchor="middle" textLength="31.6" lengthAdjust="spacingAndGlyphs">delay</text>
<text x="2" y="384.7" font-size="19.5" font-family='"Liberation Sans", sans-serif' fill="#111111" textLength="11.6" lengthAdjust="spacingAndGlyphs">F</text>
<text x="83.9" y="382.4" font-size="13.4" font-family='"Liberation Sans", sans-serif' fill="#262626" textLength="59.9" lengthAdjust="spacingAndGlyphs">capacities</text>
<text x="149.9" y="382.4" font-size="13.4" font-family='"Liberation Sans", sans-serif' fill="#262626" textLength="102.6" lengthAdjust="spacingAndGlyphs"><tspan font-size="15.5">(</tspan><tspan font-family='"Liberation Serif", serif' font-style="italic" font-size="14.5">ι</tspan> = 2, <tspan font-family='"Liberation Serif", serif' font-style="italic" font-size="14.5">ρ</tspan> = 0.9<tspan font-size="15.5">)</tspan></text>
<path d="M383.2,476.5 L383.2,395.64 L384.12,396.49 L385.05,396.97 L385.97,400.18 L386.9,400.69 L387.82,399.74 L388.74,401.52 L389.67,403.4 L390.59,404.71 L391.52,406.31 L392.44,407.47 L393.36,409.08 L394.29,412.11 L395.21,412.5 L396.14,414.72 L397.06,416.58 L397.98,419.16 L398.91,420.87 L399.83,421.76 L400.76,425.17 L401.68,425.3 L402.6,427.83 L403.53,429.53 L404.45,431.14 L405.38,432.04 L406.3,433.2 L407.22,434.24 L408.15,435.89 L409.07,436.92 L410,438.2 L410.92,439.82 L411.84,440.99 L412.77,443.07 L413.69,443.64 L414.62,445.44 L415.54,445.85 L416.46,446.81 L417.39,446.95 L418.31,448.08 L419.24,448.79 L420.16,449.45 L421.08,450.67 L422.01,451.69 L422.93,452.22 L423.86,453.42 L424.78,453.86 L425.7,454.84 L426.63,455.06 L427.55,455.03 L428.48,455.87 L429.4,456.19 L430.32,456.73 L431.25,456.9 L432.17,457.76 L433.1,458.37 L434.02,458.3 L434.94,459.08 L435.87,459.64 L436.79,460.37 L437.72,460.43 L438.64,460.91 L439.56,461.35 L440.49,461.81 L441.41,462.67 L442.34,462.77 L443.26,463.47 L444.18,463.76 L445.11,464.34 L446.03,464.81 L446.96,465.21 L447.88,465.26 L448.8,465.62 L449.73,466.01 L450.65,466.07 L451.58,466.59 L452.5,466.66 L453.42,467.07 L454.35,467.15 L455.27,467.42 L456.2,467.87 L457.12,467.96 L458.04,468.4 L458.97,468.48 L459.89,468.57 L460.82,468.95 L461.74,468.94 L462.66,469.12 L463.59,469.5 L464.51,469.49 L465.44,469.79 L466.36,469.95 L467.28,470 L468.21,470.41 L469.13,470.35 L470.06,470.58 L470.98,470.58 L471.9,470.74 L472.83,470.88 L473.75,471.09 L474.68,471.22 L475.6,471.26 L476.52,471.34 L477.45,471.44 L478.37,471.56 L479.3,471.68 L480.22,471.94 L481.14,471.97 L482.07,471.95 L482.99,472.05 L483.92,472.08 L484.84,472.21 L485.76,472.23 L486.69,472.31 L487.61,472.35 L488.54,472.47 L489.46,472.41 L490.38,472.49 L491.31,472.61 L492.23,472.79 L493.16,472.84 L494.08,472.91 L495,472.95 L495.93,473.14 L496.85,473.22 L497.78,473.2 L498.7,473.4 L499.62,473.46 L500.55,473.55 L501.47,473.61 L502.4,473.71 L503.32,473.77 L504.24,473.76 L505.17,473.88 L506.09,473.9 L507.02,473.92 L507.94,473.97 L508.86,474.06 L509.79,474.11 L510.71,474.17 L511.64,474.22 L512.56,474.26 L513.48,474.36 L514.41,474.38 L515.33,474.39 L516.26,474.45 L517.18,474.56 L518.1,474.62 L519.03,474.63 L519.95,474.68 L520.88,474.72 L521.8,474.77 L522.72,474.8 L523.65,474.83 L524.57,474.86 L525.5,474.9 L526.42,474.93 L527.34,474.96 L528.27,474.99 L529.19,475.03 L530.12,475.06 L531.04,475.09 L531.96,475.13 L532.89,475.16 L533.81,475.19 L534.74,475.22 L535.66,475.26 L536.58,475.29 L537.51,475.32 L538.43,475.35 L539.36,475.39 L540.28,475.42 L541.2,475.44 L542.13,475.46 L543.05,475.47 L543.98,475.49 L544.9,475.51 L545.82,475.53 L546.75,475.55 L547.67,475.56 L548.6,475.58 L549.52,475.6 L550.44,475.62 L551.37,475.64 L552.29,475.65 L553.22,475.67 L554.14,475.69 L555.06,475.71 L555.99,475.73 L556.91,475.74 L557.84,475.76 L558.76,475.78 L559.68,475.79 L560.61,475.81 L561.53,475.82 L562.46,475.84 L563.38,475.85 L564.3,475.87 L565.23,475.88 L566.15,475.9 L567.08,475.91 L568,475.92 L568.92,475.94 L569.85,475.95 L570.77,475.97 L571.7,475.98 L572.62,476 L573.54,476.01 L574.47,476.02 L575.39,476.04 L576.32,476.05 L577.24,476.07 L578.16,476.09 L579.09,476.1 L580.01,476.12 L580.94,476.14 L581.86,476.15 L582.78,476.17 L583.71,476.19 L584.63,476.21 L585.56,476.22 L586.48,476.24 L587.4,476.26 L588.33,476.28 L589.25,476.29 L590.18,476.31 L591.1,476.33 L592.02,476.34 L592.95,476.36 L593.87,476.38 L594.8,476.4 L595.72,476.41 L596.64,476.43 L597.57,476.45 L598.49,476.47 L599.42,476.48 L600.34,476.5 L600.34,476.5 Z" fill="#505b7d"/>
<rect x="370.8" y="390.3" width="264.1" height="86.2" fill="none" stroke="#57c88a" stroke-width="1.5"/>
<line x1="365.9" y1="476.5" x2="370.1" y2="476.5" stroke="#333" stroke-width="1.15"/>
<text x="362.4" y="479.3" font-size="8" font-family='"Liberation Serif", serif' fill="#222222" text-anchor="end" textLength="16.8" lengthAdjust="spacingAndGlyphs">0.00</text>
<line x1="365.9" y1="458.5" x2="370.1" y2="458.5" stroke="#333" stroke-width="1.15"/>
<text x="362.4" y="461.3" font-size="8" font-family='"Liberation Serif", serif' fill="#222222" text-anchor="end" textLength="16.8" lengthAdjust="spacingAndGlyphs">0.05</text>
<line x1="365.9" y1="440.5" x2="370.1" y2="440.5" stroke="#333" stroke-width="1.15"/>
<text x="362.4" y="443.3" font-size="8" font-family='"Liberation Serif", serif' fill="#222222" text-anchor="end" textLength="16.8" lengthAdjust="spacingAndGlyphs">0.10</text>
<line x1="365.9" y1="422.5" x2="370.1" y2="422.5" stroke="#333" stroke-width="1.15"/>
<text x="362.4" y="425.3" font-size="8" font-family='"Liberation Serif", serif' fill="#222222" text-anchor="end" textLength="16.8" lengthAdjust="spacingAndGlyphs">0.15</text>
<line x1="365.9" y1="404.5" x2="370.1" y2="404.5" stroke="#333" stroke-width="1.15"/>
<text x="362.4" y="407.3" font-size="8" font-family='"Liberation Serif", serif' fill="#222222" text-anchor="end" textLength="16.8" lengthAdjust="spacingAndGlyphs">0.20</text>
<line x1="383.2" y1="477.2" x2="383.2" y2="481.3" stroke="#111111" stroke-width="1.15"/>
<text x="383.2" y="491.8" font-size="8" font-family='"Liberation Serif", serif' fill="#222222" text-anchor="middle" textLength="4.5" lengthAdjust="spacingAndGlyphs">0</text>
<line x1="429.4" y1="477.2" x2="429.4" y2="481.3" stroke="#111111" stroke-width="1.15"/>
<text x="429.4" y="491.8" font-size="8" font-family='"Liberation Serif", serif' fill="#222222" text-anchor="middle" textLength="13.5" lengthAdjust="spacingAndGlyphs">100</text>
<line x1="475.6" y1="477.2" x2="475.6" y2="481.3" stroke="#111111" stroke-width="1.15"/>
<text x="475.6" y="491.8" font-size="8" font-family='"Liberation Serif", serif' fill="#222222" text-anchor="middle" textLength="13.5" lengthAdjust="spacingAndGlyphs">200</text>
<line x1="521.8" y1="477.2" x2="521.8" y2="481.3" stroke="#111111" stroke-width="1.15"/>
<text x="521.8" y="491.8" font-size="8" font-family='"Liberation Serif", serif' fill="#222222" text-anchor="middle" textLength="13.5" lengthAdjust="spacingAndGlyphs">300</text>
<line x1="568" y1="477.2" x2="568" y2="481.3" stroke="#111111" stroke-width="1.15"/>
<text x="568" y="491.8" font-size="8" font-family='"Liberation Serif", serif' fill="#222222" text-anchor="middle" textLength="13.5" lengthAdjust="spacingAndGlyphs">400</text>
<line x1="614.2" y1="477.2" x2="614.2" y2="481.3" stroke="#111111" stroke-width="1.15"/>
<text x="614.2" y="491.8" font-size="8" font-family='"Liberation Serif", serif' fill="#222222" text-anchor="middle" textLength="13.5" lengthAdjust="spacingAndGlyphs">500</text>
<text x="0" y="0" transform="translate(336.1,433.2) rotate(-90)" font-size="13.4" font-family='"Liberation Sans", sans-serif' fill="#262626" text-anchor="middle" textLength="52.3" lengthAdjust="spacingAndGlyphs">capacity</text>
<text x="502.3" y="508.6" font-size="13.4" font-family='"Liberation Sans", sans-serif' fill="#262626" text-anchor="middle" textLength="30.2" lengthAdjust="spacingAndGlyphs">delay</text>
<text x="338.3" y="385.1" font-size="19.5" font-family='"Liberation Sans", sans-serif' fill="#111111" textLength="13.3" lengthAdjust="spacingAndGlyphs">G</text>
<text x="408.2" y="382.6" font-size="13.4" font-family='"Liberation Sans", sans-serif' fill="#262626" textLength="59" lengthAdjust="spacingAndGlyphs">capacities</text>
<text x="473" y="382.6" font-size="13.4" font-family='"Liberation Sans", sans-serif' fill="#262626" textLength="122.6" lengthAdjust="spacingAndGlyphs"><tspan font-size="15.5">(</tspan><tspan font-family='"Liberation Serif", serif' font-style="italic" font-size="14.5">ι</tspan> = 0.1, <tspan font-family='"Liberation Serif", serif' font-style="italic" font-size="14.5">ρ</tspan> = 1.13<tspan font-size="15.5">)</tspan></text></svg>
</body></html>
